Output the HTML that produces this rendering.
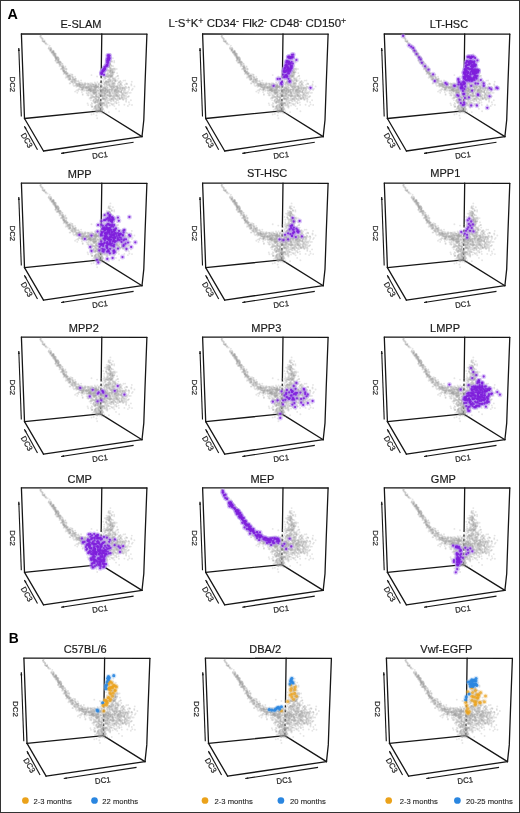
<!DOCTYPE html>
<html><head><meta charset="utf-8"><style>
html,body{margin:0;padding:0;background:#fff;}
body{width:520px;height:813px;overflow:hidden;}
svg{display:block;font-family:"Liberation Sans",sans-serif;will-change:transform;}
.t{font-size:11px;fill:#1a1a1a;stroke:#1a1a1a;stroke-width:0.18px;}
.sup{font-size:8.6px;stroke-width:0.12px;}
.ax{font-size:7.8px;fill:#222;stroke:#222;stroke-width:0.2px;text-anchor:middle;dominant-baseline:central;}
.lg{font-size:7.65px;fill:#222;stroke:#222;stroke-width:0.1px;}
</style></head><body>
<svg width="520" height="813" viewBox="0 0 520 813">
<rect x="0.5" y="0.5" width="519" height="812" fill="#fff" stroke="#333" stroke-width="1"/>
<defs>
<filter id="bl" x="-5%" y="-5%" width="110%" height="110%"><feGaussianBlur stdDeviation="0.3"/></filter>

<g id="cloud" fill="#a0a0a0" fill-opacity="0.27" filter="url(#bl)"><circle cx="23.2" cy="6.5" r="0.95"/><circle cx="22.7" cy="7.2" r="0.95"/><circle cx="23.1" cy="7.8" r="0.95"/><circle cx="23" cy="7.9" r="0.95"/><circle cx="24" cy="9.5" r="0.95"/><circle cx="21.2" cy="5.2" r="0.95"/><circle cx="19.1" cy="2.4" r="0.95"/><circle cx="19.9" cy="1.2" r="0.95"/><circle cx="27.3" cy="14.2" r="0.95"/><circle cx="24.1" cy="9.2" r="0.95"/><circle cx="19.3" cy="3.6" r="0.95"/><circle cx="19.2" cy="1.9" r="0.95"/><circle cx="20.1" cy="3.7" r="0.95"/><circle cx="22.2" cy="7.6" r="0.95"/><circle cx="21.8" cy="7.4" r="0.95"/><circle cx="24.7" cy="9.2" r="0.95"/><circle cx="23" cy="7.7" r="0.95"/><circle cx="21.3" cy="4.7" r="0.95"/><circle cx="27.2" cy="14.6" r="0.95"/><circle cx="24.9" cy="10.4" r="0.95"/><circle cx="21" cy="5.5" r="0.95"/><circle cx="18.9" cy="2.2" r="0.95"/><circle cx="26.2" cy="10.4" r="0.95"/><circle cx="21" cy="7" r="0.95"/><circle cx="27.6" cy="13.3" r="0.95"/><circle cx="20.3" cy="4" r="0.95"/><circle cx="28.3" cy="11.6" r="0.95"/><circle cx="21.4" cy="6.9" r="0.95"/><circle cx="31.6" cy="17.2" r="0.95"/><circle cx="39.1" cy="27.7" r="0.95"/><circle cx="32.2" cy="17.9" r="0.95"/><circle cx="57.4" cy="55.1" r="0.95"/><circle cx="32.5" cy="20.2" r="0.95"/><circle cx="30" cy="17.2" r="0.95"/><circle cx="61" cy="53.4" r="0.95"/><circle cx="42.7" cy="39.1" r="0.95"/><circle cx="35.2" cy="24" r="0.95"/><circle cx="53.2" cy="46.8" r="0.95"/><circle cx="32.9" cy="19.8" r="0.95"/><circle cx="37.5" cy="28.7" r="0.95"/><circle cx="72" cy="56.5" r="0.95"/><circle cx="67.3" cy="52.8" r="0.95"/><circle cx="37.2" cy="24.3" r="0.95"/><circle cx="51.5" cy="49.1" r="0.95"/><circle cx="31.3" cy="19.5" r="0.95"/><circle cx="37.5" cy="27.8" r="0.95"/><circle cx="60.2" cy="51.2" r="0.95"/><circle cx="30.3" cy="18.1" r="0.95"/><circle cx="31.9" cy="18.3" r="0.95"/><circle cx="50.9" cy="45.6" r="0.95"/><circle cx="44" cy="32.4" r="0.95"/><circle cx="44.5" cy="40.8" r="0.95"/><circle cx="48.8" cy="45.1" r="0.95"/><circle cx="34.2" cy="21.8" r="0.95"/><circle cx="68.1" cy="55.4" r="0.95"/><circle cx="35.7" cy="23.6" r="0.95"/><circle cx="57.5" cy="51.9" r="0.95"/><circle cx="71" cy="55.1" r="0.95"/><circle cx="67.1" cy="52.7" r="0.95"/><circle cx="32.4" cy="19.1" r="0.95"/><circle cx="29.1" cy="16.2" r="0.95"/><circle cx="56.2" cy="49.6" r="0.95"/><circle cx="36.8" cy="28.1" r="0.95"/><circle cx="39.8" cy="29" r="0.95"/><circle cx="34.6" cy="23.2" r="0.95"/><circle cx="36.8" cy="26" r="0.95"/><circle cx="47.7" cy="44.8" r="0.95"/><circle cx="39.3" cy="28.4" r="0.95"/><circle cx="68.8" cy="55.1" r="0.95"/><circle cx="37.7" cy="28.5" r="0.95"/><circle cx="43.3" cy="38.6" r="0.95"/><circle cx="41" cy="34.1" r="0.95"/><circle cx="48.4" cy="45.2" r="0.95"/><circle cx="66.8" cy="55.8" r="0.95"/><circle cx="73.3" cy="54.4" r="0.95"/><circle cx="51.2" cy="43.8" r="0.95"/><circle cx="33.1" cy="21.5" r="0.95"/><circle cx="68.4" cy="54.9" r="0.95"/><circle cx="55.6" cy="50" r="0.95"/><circle cx="52.4" cy="47.2" r="0.95"/><circle cx="45.4" cy="40.1" r="0.95"/><circle cx="74.5" cy="54.7" r="0.95"/><circle cx="32" cy="17.1" r="0.95"/><circle cx="68" cy="53.7" r="0.95"/><circle cx="58.2" cy="50" r="0.95"/><circle cx="69.7" cy="51.6" r="0.95"/><circle cx="41.6" cy="32.4" r="0.95"/><circle cx="67.1" cy="50.4" r="0.95"/><circle cx="42.4" cy="37" r="0.95"/><circle cx="51.4" cy="42.6" r="0.95"/><circle cx="52.6" cy="45.5" r="0.95"/><circle cx="50" cy="47.4" r="0.95"/><circle cx="32.5" cy="17.1" r="0.95"/><circle cx="67.9" cy="49.6" r="0.95"/><circle cx="58.2" cy="48.6" r="0.95"/><circle cx="48.4" cy="46.1" r="0.95"/><circle cx="43.6" cy="38" r="0.95"/><circle cx="58.9" cy="50.6" r="0.95"/><circle cx="29.8" cy="15" r="0.95"/><circle cx="37.1" cy="25.9" r="0.95"/><circle cx="57" cy="47.6" r="0.95"/><circle cx="69" cy="55.1" r="0.95"/><circle cx="36.6" cy="28.2" r="0.95"/><circle cx="54.5" cy="48.9" r="0.95"/><circle cx="34.6" cy="25.3" r="0.95"/><circle cx="51.8" cy="50.8" r="0.95"/><circle cx="43.1" cy="38.5" r="0.95"/><circle cx="54.5" cy="47.6" r="0.95"/><circle cx="36.8" cy="23.6" r="0.95"/><circle cx="68.2" cy="56.4" r="0.95"/><circle cx="67.1" cy="52.4" r="0.95"/><circle cx="38.6" cy="31.6" r="0.95"/><circle cx="34.6" cy="20.1" r="0.95"/><circle cx="64.5" cy="53.7" r="0.95"/><circle cx="55.6" cy="51.2" r="0.95"/><circle cx="34.5" cy="22.8" r="0.95"/><circle cx="44.3" cy="38.3" r="0.95"/><circle cx="42.1" cy="36.9" r="0.95"/><circle cx="52.6" cy="45.7" r="0.95"/><circle cx="63.9" cy="53.5" r="0.95"/><circle cx="73.1" cy="55.4" r="0.95"/><circle cx="29.2" cy="15.5" r="0.95"/><circle cx="65.2" cy="57" r="0.95"/><circle cx="48.6" cy="44.9" r="0.95"/><circle cx="39.1" cy="30.7" r="0.95"/><circle cx="33.3" cy="21" r="0.95"/><circle cx="42.2" cy="40.1" r="0.95"/><circle cx="36.5" cy="26.8" r="0.95"/><circle cx="32.3" cy="22.1" r="0.95"/><circle cx="43.6" cy="38.5" r="0.95"/><circle cx="52.9" cy="45.7" r="0.95"/><circle cx="72.3" cy="52.7" r="0.95"/><circle cx="54.6" cy="49.6" r="0.95"/><circle cx="33.8" cy="24" r="0.95"/><circle cx="29.5" cy="13.7" r="0.95"/><circle cx="34.5" cy="23.6" r="0.95"/><circle cx="38.8" cy="28.1" r="0.95"/><circle cx="45.5" cy="43.3" r="0.95"/><circle cx="51.1" cy="46.5" r="0.95"/><circle cx="61.8" cy="50.6" r="0.95"/><circle cx="67" cy="58.6" r="0.95"/><circle cx="55.7" cy="52.2" r="0.95"/><circle cx="33.9" cy="20.1" r="0.95"/><circle cx="68.1" cy="55.6" r="0.95"/><circle cx="43.6" cy="33.1" r="0.95"/><circle cx="62" cy="51" r="0.95"/><circle cx="71.4" cy="52.6" r="0.95"/><circle cx="35.3" cy="25" r="0.95"/><circle cx="56.3" cy="51.3" r="0.95"/><circle cx="58" cy="48.4" r="0.95"/><circle cx="33.9" cy="26.6" r="0.95"/><circle cx="73.6" cy="52.7" r="0.95"/><circle cx="47.4" cy="43.1" r="0.95"/><circle cx="68.9" cy="53.2" r="0.95"/><circle cx="65.1" cy="53.3" r="0.95"/><circle cx="43.4" cy="38.1" r="0.95"/><circle cx="48.1" cy="43.6" r="0.95"/><circle cx="29.9" cy="14.8" r="0.95"/><circle cx="60.8" cy="55.6" r="0.95"/><circle cx="33.9" cy="23.5" r="0.95"/><circle cx="40" cy="32.2" r="0.95"/><circle cx="34" cy="21.5" r="0.95"/><circle cx="47.1" cy="41.5" r="0.95"/><circle cx="57" cy="46.6" r="0.95"/><circle cx="72.1" cy="50.6" r="0.95"/><circle cx="31.2" cy="18.5" r="0.95"/><circle cx="36.9" cy="25.3" r="0.95"/><circle cx="57.4" cy="50.4" r="0.95"/><circle cx="54.3" cy="44.8" r="0.95"/><circle cx="49" cy="43.7" r="0.95"/><circle cx="40.7" cy="29.9" r="0.95"/><circle cx="67" cy="57.2" r="0.95"/><circle cx="34.4" cy="25.9" r="0.95"/><circle cx="49.4" cy="40.1" r="0.95"/><circle cx="48.8" cy="45" r="0.95"/><circle cx="44.9" cy="42.4" r="0.95"/><circle cx="48.3" cy="49.5" r="0.95"/><circle cx="46.2" cy="42.3" r="0.95"/><circle cx="42" cy="36" r="0.95"/><circle cx="46.9" cy="39.5" r="0.95"/><circle cx="54.2" cy="50.9" r="0.95"/><circle cx="42.3" cy="36.8" r="0.95"/><circle cx="70.9" cy="57.1" r="0.95"/><circle cx="45.4" cy="39.4" r="0.95"/><circle cx="34.1" cy="19.8" r="0.95"/><circle cx="67.4" cy="56.1" r="0.95"/><circle cx="45.4" cy="39.6" r="0.95"/><circle cx="50.8" cy="47.4" r="0.95"/><circle cx="68.6" cy="57.4" r="0.95"/><circle cx="28.1" cy="15.6" r="0.95"/><circle cx="35.1" cy="24.4" r="0.95"/><circle cx="38.1" cy="32.3" r="0.95"/><circle cx="41.2" cy="33" r="0.95"/><circle cx="57.7" cy="50.2" r="0.95"/><circle cx="33.2" cy="20" r="0.95"/><circle cx="35.4" cy="24.4" r="0.95"/><circle cx="48.3" cy="41.6" r="0.95"/><circle cx="42.4" cy="36.7" r="0.95"/><circle cx="46.9" cy="42.8" r="0.95"/><circle cx="51.5" cy="47.8" r="0.95"/><circle cx="54.2" cy="44.8" r="0.95"/><circle cx="51.3" cy="45.9" r="0.95"/><circle cx="64.9" cy="54.1" r="0.95"/><circle cx="60.9" cy="55.6" r="0.95"/><circle cx="68.1" cy="54" r="0.95"/><circle cx="68.7" cy="56.6" r="0.95"/><circle cx="34.2" cy="26.7" r="0.95"/><circle cx="33.1" cy="21" r="0.95"/><circle cx="36.9" cy="26.7" r="0.95"/><circle cx="32.2" cy="18.6" r="0.95"/><circle cx="64.4" cy="50.5" r="0.95"/><circle cx="32.1" cy="21" r="0.95"/><circle cx="42.6" cy="35.7" r="0.95"/><circle cx="35.6" cy="24.5" r="0.95"/><circle cx="52.6" cy="52.1" r="0.95"/><circle cx="33.4" cy="19.3" r="0.95"/><circle cx="46.2" cy="41.4" r="0.95"/><circle cx="56.1" cy="47.4" r="0.95"/><circle cx="34.7" cy="24.2" r="0.95"/><circle cx="29.3" cy="15.9" r="0.95"/><circle cx="49.7" cy="42.2" r="0.95"/><circle cx="33.6" cy="21.6" r="0.95"/><circle cx="34.5" cy="24" r="0.95"/><circle cx="72.3" cy="60.1" r="0.95"/><circle cx="69.3" cy="55.7" r="0.95"/><circle cx="70.8" cy="56" r="0.95"/><circle cx="44.5" cy="39.1" r="0.95"/><circle cx="45.8" cy="38.7" r="0.95"/><circle cx="48" cy="40.6" r="0.95"/><circle cx="28.2" cy="14.8" r="0.95"/><circle cx="55.5" cy="50.2" r="0.95"/><circle cx="44.9" cy="38.2" r="0.95"/><circle cx="58.4" cy="50" r="0.95"/><circle cx="33.9" cy="22.9" r="0.95"/><circle cx="44.3" cy="43.7" r="0.95"/><circle cx="61.5" cy="53" r="0.95"/><circle cx="55.1" cy="51.1" r="0.95"/><circle cx="43.7" cy="35.1" r="0.95"/><circle cx="53.7" cy="42.8" r="0.95"/><circle cx="61.9" cy="52.6" r="0.95"/><circle cx="36.1" cy="28.6" r="0.95"/><circle cx="60.9" cy="50.5" r="0.95"/><circle cx="63.8" cy="49.9" r="0.95"/><circle cx="65.8" cy="56.5" r="0.95"/><circle cx="55.3" cy="49.7" r="0.95"/><circle cx="44.5" cy="34.8" r="0.95"/><circle cx="56.1" cy="51.7" r="0.95"/><circle cx="44.3" cy="39.7" r="0.95"/><circle cx="29" cy="14" r="0.95"/><circle cx="50.6" cy="48.3" r="0.95"/><circle cx="35.3" cy="27.2" r="0.95"/><circle cx="40.7" cy="31.9" r="0.95"/><circle cx="54.7" cy="46.6" r="0.95"/><circle cx="42.6" cy="34.7" r="0.95"/><circle cx="74.6" cy="54.5" r="0.95"/><circle cx="60.2" cy="49.5" r="0.95"/><circle cx="71.9" cy="58.9" r="0.95"/><circle cx="57.8" cy="51.2" r="0.95"/><circle cx="37.6" cy="27.6" r="0.95"/><circle cx="35.1" cy="24.4" r="0.95"/><circle cx="40.9" cy="34.7" r="0.95"/><circle cx="67.8" cy="55.6" r="0.95"/><circle cx="51.1" cy="40.8" r="0.95"/><circle cx="49.1" cy="44.2" r="0.95"/><circle cx="74.4" cy="54" r="0.95"/><circle cx="31.9" cy="17.2" r="0.95"/><circle cx="50.3" cy="45.8" r="0.95"/><circle cx="69.8" cy="54.6" r="0.95"/><circle cx="34.5" cy="22.1" r="0.95"/><circle cx="45.7" cy="41" r="0.95"/><circle cx="48.9" cy="49.3" r="0.95"/><circle cx="42.1" cy="37.4" r="0.95"/><circle cx="48" cy="41.6" r="0.95"/><circle cx="38.9" cy="29" r="0.95"/><circle cx="54.1" cy="46.9" r="0.95"/><circle cx="56.9" cy="49.8" r="0.95"/><circle cx="38" cy="30.4" r="0.95"/><circle cx="29.6" cy="16.1" r="0.95"/><circle cx="33.9" cy="22.2" r="0.95"/><circle cx="68.2" cy="52.7" r="0.95"/><circle cx="56.4" cy="55.8" r="0.95"/><circle cx="70" cy="57.3" r="0.95"/><circle cx="30.2" cy="18.2" r="0.95"/><circle cx="45.8" cy="39.5" r="0.95"/><circle cx="72.3" cy="56.1" r="0.95"/><circle cx="69.4" cy="57.7" r="0.95"/><circle cx="59.7" cy="46.5" r="0.95"/><circle cx="62.1" cy="53.9" r="0.95"/><circle cx="49.6" cy="47.4" r="0.95"/><circle cx="43.3" cy="39.4" r="0.95"/><circle cx="34.6" cy="25.4" r="0.95"/><circle cx="32.4" cy="20.7" r="0.95"/><circle cx="44.5" cy="37.6" r="0.95"/><circle cx="38.5" cy="27.5" r="0.95"/><circle cx="51.4" cy="43.4" r="0.95"/><circle cx="46.4" cy="43.4" r="0.95"/><circle cx="72.9" cy="59.7" r="0.95"/><circle cx="37.2" cy="26.4" r="0.95"/><circle cx="31.3" cy="20.6" r="0.95"/><circle cx="52.7" cy="45.4" r="0.95"/><circle cx="41.2" cy="33.3" r="0.95"/><circle cx="47.1" cy="45.8" r="0.95"/><circle cx="51.3" cy="44.3" r="0.95"/><circle cx="36.2" cy="23.4" r="0.95"/><circle cx="35.1" cy="28.6" r="0.95"/><circle cx="66.6" cy="53.7" r="0.95"/><circle cx="29.1" cy="16.3" r="0.95"/><circle cx="42.9" cy="37.2" r="0.95"/><circle cx="50.7" cy="48.1" r="0.95"/><circle cx="30.3" cy="18.1" r="0.95"/><circle cx="31.7" cy="18.2" r="0.95"/><circle cx="53.1" cy="45.6" r="0.95"/><circle cx="42.2" cy="33.7" r="0.95"/><circle cx="40.3" cy="32.6" r="0.95"/><circle cx="58.1" cy="51.4" r="0.95"/><circle cx="32.8" cy="20.1" r="0.95"/><circle cx="63.1" cy="50.7" r="0.95"/><circle cx="37" cy="24.7" r="0.95"/><circle cx="43.3" cy="36.9" r="0.95"/><circle cx="39.4" cy="35.2" r="0.95"/><circle cx="52.4" cy="49.1" r="0.95"/><circle cx="48.2" cy="43.4" r="0.95"/><circle cx="57.7" cy="52.6" r="0.95"/><circle cx="41.8" cy="33.6" r="0.95"/><circle cx="31.5" cy="19.2" r="0.95"/><circle cx="31.4" cy="18.1" r="0.95"/><circle cx="50.6" cy="42.6" r="0.95"/><circle cx="38.7" cy="30.2" r="0.95"/><circle cx="59.6" cy="52.9" r="0.95"/><circle cx="53.4" cy="48.7" r="0.95"/><circle cx="31.5" cy="17.9" r="0.95"/><circle cx="53.9" cy="51.6" r="0.95"/><circle cx="37.7" cy="29.5" r="0.95"/><circle cx="56.6" cy="51.8" r="0.95"/><circle cx="40" cy="34.6" r="0.95"/><circle cx="47.8" cy="45.5" r="0.95"/><circle cx="67.7" cy="59" r="0.95"/><circle cx="44.7" cy="37.1" r="0.95"/><circle cx="62" cy="52.1" r="0.95"/><circle cx="41.5" cy="36.2" r="0.95"/><circle cx="69.6" cy="56.5" r="0.95"/><circle cx="41.5" cy="33.2" r="0.95"/><circle cx="41.9" cy="33.3" r="0.95"/><circle cx="41.1" cy="35.5" r="0.95"/><circle cx="36.7" cy="23.4" r="0.95"/><circle cx="48.6" cy="42.3" r="0.95"/><circle cx="64.1" cy="52.4" r="0.95"/><circle cx="59.3" cy="51.1" r="0.95"/><circle cx="66.6" cy="54.2" r="0.95"/><circle cx="46.5" cy="42" r="0.95"/><circle cx="50.6" cy="40.8" r="0.95"/><circle cx="54.1" cy="46.4" r="0.95"/><circle cx="60.9" cy="54.7" r="0.95"/><circle cx="60.5" cy="53.1" r="0.95"/><circle cx="30.2" cy="19" r="0.95"/><circle cx="67.2" cy="56.2" r="0.95"/><circle cx="31.5" cy="18.2" r="0.95"/><circle cx="58.6" cy="50.4" r="0.95"/><circle cx="53" cy="47.8" r="0.95"/><circle cx="59" cy="52.8" r="0.95"/><circle cx="46.9" cy="42.2" r="0.95"/><circle cx="41.2" cy="31.6" r="0.95"/><circle cx="72.3" cy="54.8" r="0.95"/><circle cx="48.8" cy="41.8" r="0.95"/><circle cx="57.5" cy="49.6" r="0.95"/><circle cx="45.1" cy="34.7" r="0.95"/><circle cx="63.7" cy="51.5" r="0.95"/><circle cx="63.2" cy="49.8" r="0.95"/><circle cx="62.5" cy="56.9" r="0.95"/><circle cx="54.1" cy="45.2" r="0.95"/><circle cx="47.6" cy="41.8" r="0.95"/><circle cx="45.1" cy="35.6" r="0.95"/><circle cx="42" cy="37.5" r="0.95"/><circle cx="72.6" cy="59" r="0.95"/><circle cx="41.2" cy="34.5" r="0.95"/><circle cx="42.6" cy="37.4" r="0.95"/><circle cx="38.3" cy="29.9" r="0.95"/><circle cx="39.2" cy="30.6" r="0.95"/><circle cx="33.1" cy="19.4" r="0.95"/><circle cx="35.9" cy="22.7" r="0.95"/><circle cx="31.3" cy="16.5" r="0.95"/><circle cx="68.1" cy="55.5" r="0.95"/><circle cx="29.1" cy="16" r="0.95"/><circle cx="35.7" cy="25.8" r="0.95"/><circle cx="36.9" cy="26.4" r="0.95"/><circle cx="37.5" cy="25.2" r="0.95"/><circle cx="35" cy="23.7" r="0.95"/><circle cx="58.6" cy="52.4" r="0.95"/><circle cx="41.1" cy="29.7" r="0.95"/><circle cx="45.8" cy="39.6" r="0.95"/><circle cx="35.9" cy="28.9" r="0.95"/><circle cx="41.8" cy="31.5" r="0.95"/><circle cx="46.9" cy="44.5" r="0.95"/><circle cx="36.5" cy="25.6" r="0.95"/><circle cx="28.8" cy="17.3" r="0.95"/><circle cx="42.5" cy="34.4" r="0.95"/><circle cx="48.1" cy="41.6" r="0.95"/><circle cx="73.4" cy="56.2" r="0.95"/><circle cx="53.5" cy="48.1" r="0.95"/><circle cx="44.8" cy="39.8" r="0.95"/><circle cx="40.9" cy="34.4" r="0.95"/><circle cx="52.1" cy="44.2" r="0.95"/><circle cx="33.5" cy="22.5" r="0.95"/><circle cx="36.8" cy="28.3" r="0.95"/><circle cx="66.6" cy="51.4" r="0.95"/><circle cx="73.7" cy="56.1" r="0.95"/><circle cx="38.3" cy="28" r="0.95"/><circle cx="59.9" cy="51.6" r="0.95"/><circle cx="89" cy="20.3" r="0.95"/><circle cx="90.8" cy="41.5" r="0.95"/><circle cx="91.4" cy="39.9" r="0.95"/><circle cx="91.7" cy="34.8" r="0.95"/><circle cx="86.4" cy="42.8" r="0.95"/><circle cx="89.3" cy="33.9" r="0.95"/><circle cx="89.5" cy="42" r="0.95"/><circle cx="91.2" cy="37.1" r="0.95"/><circle cx="87.9" cy="32" r="0.95"/><circle cx="84.7" cy="31.8" r="0.95"/><circle cx="87.8" cy="32.6" r="0.95"/><circle cx="81.9" cy="33.9" r="0.95"/><circle cx="88.1" cy="41.3" r="0.95"/><circle cx="87.8" cy="32.8" r="0.95"/><circle cx="87.9" cy="36.9" r="0.95"/><circle cx="89.3" cy="43.5" r="0.95"/><circle cx="87.6" cy="38.4" r="0.95"/><circle cx="87.6" cy="36.9" r="0.95"/><circle cx="87.3" cy="33.1" r="0.95"/><circle cx="88" cy="28.5" r="0.95"/><circle cx="83.1" cy="42.8" r="0.95"/><circle cx="88.7" cy="32" r="0.95"/><circle cx="90.4" cy="27.9" r="0.95"/><circle cx="89.8" cy="39.9" r="0.95"/><circle cx="87.2" cy="41.3" r="0.95"/><circle cx="88.8" cy="30" r="0.95"/><circle cx="93.4" cy="34.4" r="0.95"/><circle cx="84.6" cy="34.2" r="0.95"/><circle cx="89.8" cy="39.8" r="0.95"/><circle cx="87.9" cy="32.3" r="0.95"/><circle cx="86.1" cy="32.1" r="0.95"/><circle cx="86" cy="40" r="0.95"/><circle cx="87.5" cy="23.2" r="0.95"/><circle cx="90.7" cy="38.8" r="0.95"/><circle cx="89.6" cy="34.7" r="0.95"/><circle cx="91.1" cy="38.6" r="0.95"/><circle cx="85.3" cy="42.4" r="0.95"/><circle cx="91.1" cy="36.4" r="0.95"/><circle cx="82.7" cy="43.7" r="0.95"/><circle cx="91.1" cy="42.8" r="0.95"/><circle cx="88.8" cy="38.2" r="0.95"/><circle cx="85.3" cy="29.8" r="0.95"/><circle cx="90.3" cy="31.9" r="0.95"/><circle cx="93.4" cy="36.1" r="0.95"/><circle cx="90" cy="26.9" r="0.95"/><circle cx="86.2" cy="36.6" r="0.95"/><circle cx="95" cy="42.6" r="0.95"/><circle cx="92.3" cy="38.3" r="0.95"/><circle cx="89.6" cy="31" r="0.95"/><circle cx="89.3" cy="36.7" r="0.95"/><circle cx="89" cy="36.6" r="0.95"/><circle cx="92.8" cy="28.4" r="0.95"/><circle cx="86.8" cy="39.4" r="0.95"/><circle cx="85.2" cy="40.4" r="0.95"/><circle cx="90.7" cy="41" r="0.95"/><circle cx="90" cy="35.5" r="0.95"/><circle cx="90" cy="37.6" r="0.95"/><circle cx="86.4" cy="30.4" r="0.95"/><circle cx="92.8" cy="38.4" r="0.95"/><circle cx="90.6" cy="27.3" r="0.95"/><circle cx="85.1" cy="35.5" r="0.95"/><circle cx="88.7" cy="38.1" r="0.95"/><circle cx="93.5" cy="35.3" r="0.95"/><circle cx="85.4" cy="42.1" r="0.95"/><circle cx="91.3" cy="36.5" r="0.95"/><circle cx="82.8" cy="36.7" r="0.95"/><circle cx="91.8" cy="32.3" r="0.95"/><circle cx="87.9" cy="41.7" r="0.95"/><circle cx="86.9" cy="40.9" r="0.95"/><circle cx="89.3" cy="25.5" r="0.95"/><circle cx="87.6" cy="35.8" r="0.95"/><circle cx="86.1" cy="39.1" r="0.95"/><circle cx="86.9" cy="31.9" r="0.95"/><circle cx="91.5" cy="24.2" r="0.95"/><circle cx="90.5" cy="38.2" r="0.95"/><circle cx="89.4" cy="42" r="0.95"/><circle cx="89.4" cy="36.7" r="0.95"/><circle cx="91.4" cy="41.3" r="0.95"/><circle cx="91.2" cy="43.3" r="0.95"/><circle cx="87.9" cy="31.7" r="0.95"/><circle cx="89.9" cy="41.8" r="0.95"/><circle cx="87.6" cy="32.7" r="0.95"/><circle cx="89" cy="23.1" r="0.95"/><circle cx="95.3" cy="35" r="0.95"/><circle cx="88.9" cy="35.6" r="0.95"/><circle cx="90.3" cy="42.6" r="0.95"/><circle cx="86.1" cy="42" r="0.95"/><circle cx="92.8" cy="27" r="0.95"/><circle cx="87.3" cy="28.8" r="0.95"/><circle cx="90" cy="42.3" r="0.95"/><circle cx="85.7" cy="40.9" r="0.95"/><circle cx="88" cy="41.7" r="0.95"/><circle cx="91.6" cy="38.9" r="0.95"/><circle cx="88.3" cy="25.9" r="0.95"/><circle cx="89.1" cy="39.8" r="0.95"/><circle cx="86.3" cy="29.1" r="0.95"/><circle cx="85.6" cy="32" r="0.95"/><circle cx="88.7" cy="37.8" r="0.95"/><circle cx="87" cy="42.5" r="0.95"/><circle cx="95.7" cy="39.1" r="0.95"/><circle cx="85.1" cy="34.4" r="0.95"/><circle cx="87.1" cy="23.8" r="0.95"/><circle cx="88.5" cy="30.1" r="0.95"/><circle cx="88.3" cy="30.7" r="0.95"/><circle cx="86.8" cy="30.9" r="0.95"/><circle cx="89.4" cy="42.4" r="0.95"/><circle cx="88.3" cy="34.3" r="0.95"/><circle cx="86.2" cy="42.9" r="0.95"/><circle cx="86.7" cy="36.3" r="0.95"/><circle cx="89.1" cy="37.8" r="0.95"/><circle cx="90.7" cy="35" r="0.95"/><circle cx="90" cy="35.9" r="0.95"/><circle cx="90.7" cy="41.3" r="0.95"/><circle cx="84.8" cy="30.4" r="0.95"/><circle cx="89.1" cy="40.3" r="0.95"/><circle cx="89" cy="36.2" r="0.95"/><circle cx="91.9" cy="35.8" r="0.95"/><circle cx="82.6" cy="39" r="0.95"/><circle cx="88.4" cy="28.6" r="0.95"/><circle cx="85.6" cy="35.8" r="0.95"/><circle cx="88.5" cy="30.4" r="0.95"/><circle cx="84.4" cy="42.3" r="0.95"/><circle cx="88.6" cy="41.1" r="0.95"/><circle cx="90.2" cy="31.9" r="0.95"/><circle cx="86" cy="37.8" r="0.95"/><circle cx="93" cy="37.9" r="0.95"/><circle cx="88.1" cy="28.7" r="0.95"/><circle cx="91.1" cy="38.2" r="0.95"/><circle cx="86.9" cy="25" r="0.95"/><circle cx="88.8" cy="29.5" r="0.95"/><circle cx="88.9" cy="33.7" r="0.95"/><circle cx="85.2" cy="27.8" r="0.95"/><circle cx="88.2" cy="25.1" r="0.95"/><circle cx="86.9" cy="27.8" r="0.95"/><circle cx="88.9" cy="34.2" r="0.95"/><circle cx="89" cy="43" r="0.95"/><circle cx="88.1" cy="30.6" r="0.95"/><circle cx="83.4" cy="30.5" r="0.95"/><circle cx="84.7" cy="34.4" r="0.95"/><circle cx="91.3" cy="37.8" r="0.95"/><circle cx="91" cy="38.6" r="0.95"/><circle cx="91.2" cy="38.5" r="0.95"/><circle cx="85.1" cy="42.4" r="0.95"/><circle cx="84.1" cy="42.3" r="0.95"/><circle cx="87.4" cy="29.8" r="0.95"/><circle cx="89.3" cy="36.9" r="0.95"/><circle cx="86.5" cy="29.6" r="0.95"/><circle cx="92.3" cy="34.6" r="0.95"/><circle cx="89.4" cy="42.5" r="0.95"/><circle cx="87.6" cy="24.7" r="0.95"/><circle cx="88.9" cy="46.5" r="0.95"/><circle cx="90.6" cy="47.8" r="0.95"/><circle cx="80.1" cy="49.5" r="0.95"/><circle cx="88.1" cy="44.1" r="0.95"/><circle cx="87.1" cy="47.1" r="0.95"/><circle cx="93.4" cy="45.1" r="0.95"/><circle cx="89.8" cy="42" r="0.95"/><circle cx="89.8" cy="45.7" r="0.95"/><circle cx="86.8" cy="48.2" r="0.95"/><circle cx="98" cy="48.6" r="0.95"/><circle cx="85.1" cy="49.8" r="0.95"/><circle cx="87.3" cy="45.9" r="0.95"/><circle cx="86.1" cy="47.1" r="0.95"/><circle cx="91.8" cy="46.4" r="0.95"/><circle cx="88" cy="45.6" r="0.95"/><circle cx="87" cy="48.4" r="0.95"/><circle cx="86.4" cy="45.6" r="0.95"/><circle cx="88" cy="44.1" r="0.95"/><circle cx="87.9" cy="42.3" r="0.95"/><circle cx="91" cy="47.4" r="0.95"/><circle cx="87.5" cy="49.9" r="0.95"/><circle cx="84.9" cy="47.4" r="0.95"/><circle cx="91.4" cy="44.7" r="0.95"/><circle cx="87.8" cy="48.2" r="0.95"/><circle cx="89.3" cy="46.7" r="0.95"/><circle cx="96" cy="46.5" r="0.95"/><circle cx="80.7" cy="44.2" r="0.95"/><circle cx="93.2" cy="45.7" r="0.95"/><circle cx="83.6" cy="41.1" r="0.95"/><circle cx="90.6" cy="49.7" r="0.95"/><circle cx="82.8" cy="40.6" r="0.95"/><circle cx="91.5" cy="44.7" r="0.95"/><circle cx="87.5" cy="45.2" r="0.95"/><circle cx="84.5" cy="47.1" r="0.95"/><circle cx="93.6" cy="46.9" r="0.95"/><circle cx="86.2" cy="48.6" r="0.95"/><circle cx="88.5" cy="47.4" r="0.95"/><circle cx="84.4" cy="47.6" r="0.95"/><circle cx="92.7" cy="49.2" r="0.95"/><circle cx="89.1" cy="47.1" r="0.95"/><circle cx="86.1" cy="48.2" r="0.95"/><circle cx="92.9" cy="48.7" r="0.95"/><circle cx="87.1" cy="43" r="0.95"/><circle cx="88.7" cy="45.5" r="0.95"/><circle cx="85.3" cy="47.5" r="0.95"/><circle cx="93.7" cy="47" r="0.95"/><circle cx="94.5" cy="47" r="0.95"/><circle cx="84.2" cy="44.6" r="0.95"/><circle cx="87.3" cy="47.7" r="0.95"/><circle cx="93.6" cy="46.3" r="0.95"/><circle cx="94" cy="44" r="0.95"/><circle cx="88.4" cy="49.7" r="0.95"/><circle cx="91.2" cy="48.6" r="0.95"/><circle cx="79.7" cy="41.9" r="0.95"/><circle cx="84.7" cy="48.5" r="0.95"/><circle cx="97" cy="44.5" r="0.95"/><circle cx="84.1" cy="43.5" r="0.95"/><circle cx="84.6" cy="47.4" r="0.95"/><circle cx="87.5" cy="50.6" r="0.95"/><circle cx="92.6" cy="44.3" r="0.95"/><circle cx="79.1" cy="55.3" r="0.95"/><circle cx="83" cy="60" r="0.95"/><circle cx="75.1" cy="60" r="0.95"/><circle cx="81.4" cy="55.6" r="0.95"/><circle cx="79.3" cy="59" r="0.95"/><circle cx="75.3" cy="53" r="0.95"/><circle cx="86.3" cy="56" r="0.95"/><circle cx="73.4" cy="58.1" r="0.95"/><circle cx="67.4" cy="56.3" r="0.95"/><circle cx="68.1" cy="54.1" r="0.95"/><circle cx="65.2" cy="52.8" r="0.95"/><circle cx="83.7" cy="55.2" r="0.95"/><circle cx="69.2" cy="63.7" r="0.95"/><circle cx="73.2" cy="62.6" r="0.95"/><circle cx="73.9" cy="49.5" r="0.95"/><circle cx="90.2" cy="54.1" r="0.95"/><circle cx="82.8" cy="61.3" r="0.95"/><circle cx="68.5" cy="56.3" r="0.95"/><circle cx="73.6" cy="58.7" r="0.95"/><circle cx="77.4" cy="50.4" r="0.95"/><circle cx="77.9" cy="59.4" r="0.95"/><circle cx="75.5" cy="58.5" r="0.95"/><circle cx="73.9" cy="55.8" r="0.95"/><circle cx="79.9" cy="56.7" r="0.95"/><circle cx="86.3" cy="60.2" r="0.95"/><circle cx="83.3" cy="59.2" r="0.95"/><circle cx="78.6" cy="50.9" r="0.95"/><circle cx="84.8" cy="63.7" r="0.95"/><circle cx="79.1" cy="54.9" r="0.95"/><circle cx="77.3" cy="61.4" r="0.95"/><circle cx="79.5" cy="51.7" r="0.95"/><circle cx="76.4" cy="52.7" r="0.95"/><circle cx="76.2" cy="52.1" r="0.95"/><circle cx="71.6" cy="62.6" r="0.95"/><circle cx="84.7" cy="48.9" r="0.95"/><circle cx="70.8" cy="54.1" r="0.95"/><circle cx="74.9" cy="49.9" r="0.95"/><circle cx="83.6" cy="48.9" r="0.95"/><circle cx="82.3" cy="59.1" r="0.95"/><circle cx="75" cy="53.1" r="0.95"/><circle cx="78" cy="56.7" r="0.95"/><circle cx="63.2" cy="50.5" r="0.95"/><circle cx="81.2" cy="55.6" r="0.95"/><circle cx="74.7" cy="51.7" r="0.95"/><circle cx="72.7" cy="52.7" r="0.95"/><circle cx="96.7" cy="50.5" r="0.95"/><circle cx="88.1" cy="58.1" r="0.95"/><circle cx="79" cy="56.9" r="0.95"/><circle cx="75" cy="63.1" r="0.95"/><circle cx="81" cy="55.9" r="0.95"/><circle cx="76.7" cy="56.9" r="0.95"/><circle cx="69.7" cy="54.6" r="0.95"/><circle cx="73.3" cy="58.8" r="0.95"/><circle cx="81.7" cy="47.8" r="0.95"/><circle cx="76" cy="60.4" r="0.95"/><circle cx="68.7" cy="50.8" r="0.95"/><circle cx="84.4" cy="55.5" r="0.95"/><circle cx="74.5" cy="50.7" r="0.95"/><circle cx="78.7" cy="53.6" r="0.95"/><circle cx="79" cy="57.9" r="0.95"/><circle cx="82.4" cy="54.6" r="0.95"/><circle cx="74" cy="56.2" r="0.95"/><circle cx="76.9" cy="56.8" r="0.95"/><circle cx="73.9" cy="55" r="0.95"/><circle cx="73.5" cy="53.4" r="0.95"/><circle cx="78.6" cy="61.1" r="0.95"/><circle cx="73.9" cy="58.6" r="0.95"/><circle cx="79.9" cy="56.5" r="0.95"/><circle cx="82.2" cy="53.6" r="0.95"/><circle cx="81.4" cy="57.4" r="0.95"/><circle cx="53.7" cy="57.6" r="0.95"/><circle cx="81.7" cy="64.6" r="0.95"/><circle cx="70.3" cy="56.5" r="0.95"/><circle cx="80" cy="51.8" r="0.95"/><circle cx="85.8" cy="58" r="0.95"/><circle cx="72.1" cy="50.8" r="0.95"/><circle cx="74.7" cy="66.5" r="0.95"/><circle cx="92.3" cy="45.1" r="0.95"/><circle cx="65.1" cy="59" r="0.95"/><circle cx="76.8" cy="53.2" r="0.95"/><circle cx="81.7" cy="56.5" r="0.95"/><circle cx="79.5" cy="57.2" r="0.95"/><circle cx="70.1" cy="61.8" r="0.95"/><circle cx="74.4" cy="61" r="0.95"/><circle cx="82.3" cy="56.2" r="0.95"/><circle cx="78.5" cy="55.8" r="0.95"/><circle cx="64.9" cy="54.6" r="0.95"/><circle cx="80.5" cy="48.9" r="0.95"/><circle cx="67.3" cy="60.8" r="0.95"/><circle cx="83.1" cy="49.2" r="0.95"/><circle cx="80.7" cy="55.8" r="0.95"/><circle cx="84.3" cy="54.6" r="0.95"/><circle cx="76" cy="52.7" r="0.95"/><circle cx="78.8" cy="55.5" r="0.95"/><circle cx="73" cy="54.5" r="0.95"/><circle cx="72.4" cy="58.8" r="0.95"/><circle cx="70.5" cy="49.2" r="0.95"/><circle cx="70.9" cy="60.8" r="0.95"/><circle cx="74.1" cy="58.9" r="0.95"/><circle cx="82.6" cy="53.8" r="0.95"/><circle cx="82.7" cy="58.3" r="0.95"/><circle cx="77.2" cy="52.9" r="0.95"/><circle cx="77.1" cy="50.3" r="0.95"/><circle cx="75.6" cy="53.5" r="0.95"/><circle cx="80.6" cy="57.5" r="0.95"/><circle cx="73.1" cy="59.9" r="0.95"/><circle cx="85.8" cy="56.3" r="0.95"/><circle cx="72.4" cy="58.3" r="0.95"/><circle cx="60.7" cy="53.4" r="0.95"/><circle cx="81.6" cy="64.9" r="0.95"/><circle cx="72.4" cy="62.8" r="0.95"/><circle cx="93.6" cy="64.4" r="0.95"/><circle cx="61.3" cy="60.9" r="0.95"/><circle cx="78.9" cy="60.5" r="0.95"/><circle cx="76.3" cy="53.3" r="0.95"/><circle cx="76" cy="62.7" r="0.95"/><circle cx="83.3" cy="54.7" r="0.95"/><circle cx="80.2" cy="59.9" r="0.95"/><circle cx="81.5" cy="55.8" r="0.95"/><circle cx="73" cy="52.7" r="0.95"/><circle cx="74.5" cy="53.6" r="0.95"/><circle cx="66.6" cy="49.7" r="0.95"/><circle cx="83.6" cy="51" r="0.95"/><circle cx="68.4" cy="55.8" r="0.95"/><circle cx="87.6" cy="61.6" r="0.95"/><circle cx="74.7" cy="51.4" r="0.95"/><circle cx="73.8" cy="52" r="0.95"/><circle cx="73.7" cy="58.2" r="0.95"/><circle cx="70.1" cy="52.5" r="0.95"/><circle cx="75.7" cy="55.9" r="0.95"/><circle cx="72.2" cy="52.5" r="0.95"/><circle cx="69.7" cy="52.7" r="0.95"/><circle cx="81.2" cy="54.9" r="0.95"/><circle cx="55.9" cy="58.8" r="0.95"/><circle cx="77" cy="52.1" r="0.95"/><circle cx="75.7" cy="42.5" r="0.95"/><circle cx="66" cy="61.2" r="0.95"/><circle cx="92.4" cy="65.8" r="0.95"/><circle cx="72.4" cy="56.2" r="0.95"/><circle cx="82.9" cy="50.5" r="0.95"/><circle cx="89.7" cy="52.8" r="0.95"/><circle cx="80" cy="50.9" r="0.95"/><circle cx="80.1" cy="55.9" r="0.95"/><circle cx="85.1" cy="50.8" r="0.95"/><circle cx="77.4" cy="64.2" r="0.95"/><circle cx="69.2" cy="57.6" r="0.95"/><circle cx="80.6" cy="53.8" r="0.95"/><circle cx="75.6" cy="62.4" r="0.95"/><circle cx="85.5" cy="58.6" r="0.95"/><circle cx="79.4" cy="50.9" r="0.95"/><circle cx="78.1" cy="64.1" r="0.95"/><circle cx="84.9" cy="49.9" r="0.95"/><circle cx="63" cy="53" r="0.95"/><circle cx="78.7" cy="53.5" r="0.95"/><circle cx="75.4" cy="57.5" r="0.95"/><circle cx="83.8" cy="57" r="0.95"/><circle cx="86.3" cy="49.6" r="0.95"/><circle cx="80.8" cy="57.9" r="0.95"/><circle cx="67.1" cy="61.6" r="0.95"/><circle cx="66.3" cy="49.5" r="0.95"/><circle cx="96.2" cy="61.8" r="0.95"/><circle cx="80.1" cy="62.1" r="0.95"/><circle cx="85.6" cy="50.9" r="0.95"/><circle cx="80.9" cy="62.3" r="0.95"/><circle cx="76.4" cy="56.3" r="0.95"/><circle cx="74.2" cy="59.3" r="0.95"/><circle cx="73.6" cy="53.4" r="0.95"/><circle cx="68.9" cy="51.8" r="0.95"/><circle cx="79" cy="58.1" r="0.95"/><circle cx="74.8" cy="51.3" r="0.95"/><circle cx="79.9" cy="57.6" r="0.95"/><circle cx="86.5" cy="53.8" r="0.95"/><circle cx="74.6" cy="58.3" r="0.95"/><circle cx="88.2" cy="55.8" r="0.95"/><circle cx="76.9" cy="51.8" r="0.95"/><circle cx="74.8" cy="60.3" r="0.95"/><circle cx="83.5" cy="61.1" r="0.95"/><circle cx="66" cy="59.8" r="0.95"/><circle cx="71" cy="58.7" r="0.95"/><circle cx="60.8" cy="55.6" r="0.95"/><circle cx="71.3" cy="61.8" r="0.95"/><circle cx="78.4" cy="61.9" r="0.95"/><circle cx="74.4" cy="64.9" r="0.95"/><circle cx="74.4" cy="64.6" r="0.95"/><circle cx="74.1" cy="51.6" r="0.95"/><circle cx="83.8" cy="54.2" r="0.95"/><circle cx="77.1" cy="49.9" r="0.95"/><circle cx="75.1" cy="56.5" r="0.95"/><circle cx="72.5" cy="57.8" r="0.95"/><circle cx="61.3" cy="60.1" r="0.95"/><circle cx="74.6" cy="62.7" r="0.95"/><circle cx="75" cy="53" r="0.95"/><circle cx="74.3" cy="57.3" r="0.95"/><circle cx="81.7" cy="53.9" r="0.95"/><circle cx="71.9" cy="58" r="0.95"/><circle cx="83.3" cy="48.1" r="0.95"/><circle cx="70.1" cy="52.9" r="0.95"/><circle cx="89.6" cy="61.6" r="0.95"/><circle cx="83.2" cy="58.3" r="0.95"/><circle cx="69.6" cy="61.1" r="0.95"/><circle cx="74.4" cy="52.4" r="0.95"/><circle cx="91.2" cy="49.4" r="0.95"/><circle cx="87.3" cy="56.9" r="0.95"/><circle cx="71" cy="56.8" r="0.95"/><circle cx="71.5" cy="56.9" r="0.95"/><circle cx="72.9" cy="50.6" r="0.95"/><circle cx="96.3" cy="53.7" r="0.95"/><circle cx="84.5" cy="55.8" r="0.95"/><circle cx="82.3" cy="50.3" r="0.95"/><circle cx="70.1" cy="41.1" r="0.95"/><circle cx="84.6" cy="58" r="0.95"/><circle cx="69.2" cy="59.8" r="0.95"/><circle cx="81.7" cy="69.3" r="0.95"/><circle cx="79.2" cy="60.2" r="0.95"/><circle cx="81.9" cy="59.5" r="0.95"/><circle cx="77.3" cy="54.1" r="0.95"/><circle cx="82.6" cy="61.6" r="0.95"/><circle cx="69.3" cy="50.8" r="0.95"/><circle cx="77.2" cy="64.2" r="0.95"/><circle cx="76" cy="48.3" r="0.95"/><circle cx="83.2" cy="59.5" r="0.95"/><circle cx="91.3" cy="56.9" r="0.95"/><circle cx="91.5" cy="52.7" r="0.95"/><circle cx="83.9" cy="56.6" r="0.95"/><circle cx="69.1" cy="54.8" r="0.95"/><circle cx="87" cy="61.1" r="0.95"/><circle cx="74.8" cy="61.1" r="0.95"/><circle cx="83.9" cy="60.1" r="0.95"/><circle cx="79.6" cy="57.4" r="0.95"/><circle cx="71.7" cy="55.7" r="0.95"/><circle cx="77.9" cy="74.4" r="0.95"/><circle cx="76.6" cy="76.4" r="0.95"/><circle cx="78.2" cy="78.4" r="0.95"/><circle cx="74.4" cy="75.1" r="0.95"/><circle cx="78.3" cy="75.2" r="0.95"/><circle cx="78.5" cy="75" r="0.95"/><circle cx="81.1" cy="75.5" r="0.95"/><circle cx="74.1" cy="77.7" r="0.95"/><circle cx="82.6" cy="71.7" r="0.95"/><circle cx="77.1" cy="76.2" r="0.95"/><circle cx="80.7" cy="79.3" r="0.95"/><circle cx="77" cy="72.5" r="0.95"/><circle cx="79.5" cy="78.3" r="0.95"/><circle cx="78.9" cy="76.2" r="0.95"/><circle cx="75.1" cy="81.4" r="0.95"/><circle cx="73.9" cy="72.7" r="0.95"/><circle cx="80.5" cy="76.7" r="0.95"/><circle cx="79.6" cy="76.8" r="0.95"/><circle cx="82.6" cy="79.2" r="0.95"/><circle cx="75.8" cy="78.2" r="0.95"/><circle cx="73.9" cy="72.2" r="0.95"/><circle cx="81.2" cy="75.1" r="0.95"/><circle cx="71" cy="76" r="0.95"/><circle cx="75.5" cy="77.1" r="0.95"/><circle cx="77.3" cy="74.3" r="0.95"/><circle cx="75.4" cy="77.7" r="0.95"/><circle cx="74.7" cy="76.3" r="0.95"/><circle cx="74.5" cy="77" r="0.95"/><circle cx="82.9" cy="77.3" r="0.95"/><circle cx="80.9" cy="77" r="0.95"/><circle cx="74.6" cy="75.3" r="0.95"/><circle cx="77.7" cy="77" r="0.95"/><circle cx="75.7" cy="77.4" r="0.95"/><circle cx="75.3" cy="76.2" r="0.95"/><circle cx="77.5" cy="73.5" r="0.95"/><circle cx="80.6" cy="76.1" r="0.95"/><circle cx="77.8" cy="75.9" r="0.95"/><circle cx="71.1" cy="72.9" r="0.95"/><circle cx="74.8" cy="78.2" r="0.95"/><circle cx="75.8" cy="77.4" r="0.95"/><circle cx="74.4" cy="74.1" r="0.95"/><circle cx="76.1" cy="78.4" r="0.95"/><circle cx="72.5" cy="75.6" r="0.95"/><circle cx="78.8" cy="76.3" r="0.95"/><circle cx="77.5" cy="77.7" r="0.95"/><circle cx="93.2" cy="51.4" r="0.95"/><circle cx="95.9" cy="52.8" r="0.95"/><circle cx="88.5" cy="66.3" r="0.95"/><circle cx="109.5" cy="66.3" r="0.95"/><circle cx="94.3" cy="52.8" r="0.95"/><circle cx="85.3" cy="67.6" r="0.95"/><circle cx="93.6" cy="49.1" r="0.95"/><circle cx="102.9" cy="61.1" r="0.95"/><circle cx="101" cy="60" r="0.95"/><circle cx="74.7" cy="53.1" r="0.95"/><circle cx="90" cy="56.5" r="0.95"/><circle cx="102.5" cy="53.5" r="0.95"/><circle cx="90.3" cy="57.2" r="0.95"/><circle cx="90.4" cy="51.3" r="0.95"/><circle cx="81.8" cy="41.9" r="0.95"/><circle cx="93.6" cy="56.3" r="0.95"/><circle cx="92.6" cy="51.2" r="0.95"/><circle cx="91.1" cy="51.7" r="0.95"/><circle cx="83.4" cy="59.6" r="0.95"/><circle cx="95.9" cy="61.1" r="0.95"/><circle cx="90.7" cy="55.2" r="0.95"/><circle cx="101.6" cy="65.1" r="0.95"/><circle cx="86.3" cy="51" r="0.95"/><circle cx="93.9" cy="59.5" r="0.95"/><circle cx="84.1" cy="71.3" r="0.95"/><circle cx="75.2" cy="52.5" r="0.95"/><circle cx="92.9" cy="63.5" r="0.95"/><circle cx="77" cy="54.9" r="0.95"/><circle cx="101.9" cy="66" r="0.95"/><circle cx="89.1" cy="57.8" r="0.95"/><circle cx="84.4" cy="59.9" r="0.95"/><circle cx="83.1" cy="45.3" r="0.95"/><circle cx="79.5" cy="57.9" r="0.95"/><circle cx="81.1" cy="64.2" r="0.95"/><circle cx="100.7" cy="63.6" r="0.95"/><circle cx="96" cy="64.4" r="0.95"/><circle cx="93" cy="62.8" r="0.95"/><circle cx="94.6" cy="62.3" r="0.95"/><circle cx="83.4" cy="53.6" r="0.95"/><circle cx="83.5" cy="62.6" r="0.95"/><circle cx="94.9" cy="52.8" r="0.95"/><circle cx="83.6" cy="54" r="0.95"/><circle cx="97.6" cy="56.8" r="0.95"/><circle cx="89.2" cy="53.4" r="0.95"/><circle cx="90.1" cy="67.2" r="0.95"/><circle cx="85.8" cy="55.4" r="0.95"/><circle cx="103.9" cy="61.9" r="0.95"/><circle cx="82.4" cy="64.1" r="0.95"/><circle cx="81.5" cy="60.9" r="0.95"/><circle cx="72" cy="51.5" r="0.95"/><circle cx="98" cy="53.9" r="0.95"/><circle cx="85.6" cy="57.9" r="0.95"/><circle cx="91.1" cy="54.7" r="0.95"/><circle cx="85.9" cy="68.4" r="0.95"/><circle cx="102.3" cy="59.5" r="0.95"/><circle cx="82.4" cy="54.3" r="0.95"/><circle cx="88.9" cy="60.5" r="0.95"/><circle cx="103.2" cy="54.4" r="0.95"/><circle cx="92.2" cy="54.9" r="0.95"/><circle cx="92.1" cy="53.4" r="0.95"/><circle cx="93.9" cy="64.6" r="0.95"/><circle cx="88.1" cy="55.6" r="0.95"/><circle cx="91.9" cy="49.6" r="0.95"/><circle cx="104.7" cy="49.5" r="0.95"/><circle cx="88.3" cy="52.2" r="0.95"/><circle cx="102.4" cy="54.6" r="0.95"/><circle cx="87.2" cy="69" r="0.95"/><circle cx="90.1" cy="52.8" r="0.95"/><circle cx="91" cy="58.7" r="0.95"/><circle cx="85.4" cy="56.4" r="0.95"/><circle cx="89.5" cy="61.9" r="0.95"/><circle cx="96.9" cy="62.6" r="0.95"/><circle cx="90.1" cy="62.4" r="0.95"/><circle cx="89.5" cy="64.6" r="0.95"/><circle cx="94.1" cy="55" r="0.95"/><circle cx="100.4" cy="48.4" r="0.95"/><circle cx="83.7" cy="52.7" r="0.95"/><circle cx="90.1" cy="50.1" r="0.95"/><circle cx="82" cy="46.1" r="0.95"/><circle cx="91.9" cy="52.9" r="0.95"/><circle cx="107.6" cy="62.2" r="0.95"/><circle cx="82.4" cy="65.5" r="0.95"/><circle cx="91.9" cy="64.1" r="0.95"/><circle cx="82.7" cy="64.6" r="0.95"/><circle cx="99.4" cy="55" r="0.95"/><circle cx="84.6" cy="55.3" r="0.95"/><circle cx="93" cy="72.1" r="0.95"/><circle cx="104.7" cy="66.6" r="0.95"/><circle cx="89.4" cy="55.6" r="0.95"/><circle cx="93.8" cy="55.9" r="0.95"/><circle cx="87.5" cy="56.3" r="0.95"/><circle cx="97.4" cy="57.1" r="0.95"/><circle cx="92.9" cy="56" r="0.95"/><circle cx="89.6" cy="55.6" r="0.95"/><circle cx="100.6" cy="58.9" r="0.95"/><circle cx="102.3" cy="56.5" r="0.95"/><circle cx="99.1" cy="49.2" r="0.95"/><circle cx="88" cy="57.2" r="0.95"/><circle cx="86.3" cy="56.9" r="0.95"/><circle cx="84.1" cy="56.6" r="0.95"/><circle cx="86" cy="57.5" r="0.95"/><circle cx="88.8" cy="51.5" r="0.95"/><circle cx="88" cy="57.7" r="0.95"/><circle cx="81.5" cy="58.1" r="0.95"/><circle cx="100.5" cy="56.2" r="0.95"/><circle cx="95.2" cy="61.3" r="0.95"/><circle cx="85" cy="65.5" r="0.95"/><circle cx="110" cy="51.4" r="0.95"/><circle cx="107.2" cy="53.3" r="0.95"/><circle cx="102.1" cy="46.6" r="0.95"/><circle cx="99.6" cy="58.4" r="0.95"/><circle cx="81.4" cy="52.6" r="0.95"/><circle cx="83.2" cy="52.1" r="0.95"/><circle cx="93.9" cy="56.5" r="0.95"/><circle cx="72.1" cy="55.7" r="0.95"/><circle cx="94.6" cy="58.1" r="0.95"/><circle cx="103.8" cy="46.5" r="0.95"/><circle cx="92.9" cy="57.7" r="0.95"/><circle cx="96.5" cy="49.5" r="0.95"/><circle cx="81.2" cy="56.5" r="0.95"/><circle cx="91.6" cy="46.6" r="0.95"/><circle cx="93.8" cy="57.5" r="0.95"/><circle cx="96.6" cy="41.8" r="0.95"/><circle cx="94.8" cy="52.2" r="0.95"/><circle cx="87.5" cy="62.3" r="0.95"/><circle cx="103.8" cy="58.5" r="0.95"/><circle cx="90.2" cy="65.4" r="0.95"/><circle cx="84.3" cy="56.6" r="0.95"/><circle cx="87.2" cy="51.6" r="0.95"/><circle cx="92.5" cy="69.8" r="0.95"/><circle cx="92.9" cy="60.6" r="0.95"/><circle cx="90.8" cy="64.3" r="0.95"/><circle cx="92.4" cy="52.2" r="0.95"/><circle cx="91.8" cy="66.2" r="0.95"/><circle cx="90.4" cy="64.8" r="0.95"/><circle cx="90.5" cy="69.8" r="0.95"/><circle cx="93.2" cy="61.5" r="0.95"/><circle cx="88.9" cy="62.6" r="0.95"/><circle cx="89.3" cy="48.6" r="0.95"/><circle cx="93.3" cy="50.3" r="0.95"/><circle cx="102.2" cy="62.3" r="0.95"/><circle cx="91.2" cy="61.7" r="0.95"/><circle cx="71.5" cy="66.8" r="0.95"/><circle cx="86.2" cy="61.6" r="0.95"/><circle cx="110.4" cy="47.8" r="0.95"/><circle cx="87.9" cy="59.6" r="0.95"/><circle cx="94.2" cy="47.3" r="0.95"/><circle cx="84" cy="66.5" r="0.95"/><circle cx="86.5" cy="60.9" r="0.95"/><circle cx="80.7" cy="52" r="0.95"/><circle cx="77.3" cy="59.2" r="0.95"/><circle cx="99.8" cy="58.1" r="0.95"/><circle cx="89" cy="59" r="0.95"/><circle cx="94.6" cy="55.8" r="0.95"/><circle cx="95.2" cy="69.3" r="0.95"/><circle cx="107.8" cy="54.1" r="0.95"/><circle cx="81.5" cy="69.1" r="0.95"/><circle cx="98.5" cy="64.9" r="0.95"/><circle cx="95.6" cy="56.2" r="0.95"/><circle cx="98.4" cy="64.3" r="0.95"/><circle cx="99.9" cy="51" r="0.95"/><circle cx="98.8" cy="55.4" r="0.95"/><circle cx="88.4" cy="59.7" r="0.95"/><circle cx="88.4" cy="71.5" r="0.95"/><circle cx="95.3" cy="59.2" r="0.95"/><circle cx="89.6" cy="59.1" r="0.95"/><circle cx="89.3" cy="61.1" r="0.95"/><circle cx="97.6" cy="62.6" r="0.95"/><circle cx="81.6" cy="55.6" r="0.95"/><circle cx="91.7" cy="50.2" r="0.95"/><circle cx="93.9" cy="56.7" r="0.95"/><circle cx="91.5" cy="59.9" r="0.95"/><circle cx="86.4" cy="66.9" r="0.95"/><circle cx="98.9" cy="54.2" r="0.95"/><circle cx="94.6" cy="62" r="0.95"/><circle cx="85.3" cy="55.4" r="0.95"/><circle cx="96.3" cy="42" r="0.95"/><circle cx="81.1" cy="59.5" r="0.95"/><circle cx="95.8" cy="52" r="0.95"/><circle cx="97.5" cy="70.9" r="0.95"/><circle cx="92.7" cy="57.3" r="0.95"/><circle cx="91.6" cy="51.4" r="0.95"/><circle cx="95.2" cy="58.6" r="0.95"/><circle cx="96.7" cy="66.2" r="0.95"/><circle cx="91.4" cy="58.7" r="0.95"/><circle cx="93.5" cy="68.1" r="0.95"/><circle cx="80.1" cy="57.5" r="0.95"/><circle cx="86.4" cy="58.3" r="0.95"/><circle cx="97.4" cy="58" r="0.95"/><circle cx="96.6" cy="58.7" r="0.95"/><circle cx="85.7" cy="53.6" r="0.95"/><circle cx="80.7" cy="58.9" r="0.95"/><circle cx="88.1" cy="62.6" r="0.95"/><circle cx="98.4" cy="52.2" r="0.95"/><circle cx="82.9" cy="61.2" r="0.95"/><circle cx="84.5" cy="58.8" r="0.95"/><circle cx="95.7" cy="55.2" r="0.95"/><circle cx="104.5" cy="52.9" r="0.95"/><circle cx="94.3" cy="55.1" r="0.95"/><circle cx="69.4" cy="56.5" r="0.95"/><circle cx="89.9" cy="61.1" r="0.95"/><circle cx="90.1" cy="53.2" r="0.95"/><circle cx="87.2" cy="55.7" r="0.95"/><circle cx="96.8" cy="55.9" r="0.95"/><circle cx="100.4" cy="62.7" r="0.95"/><circle cx="85.5" cy="63.8" r="0.95"/><circle cx="74" cy="57.7" r="0.95"/><circle cx="83.7" cy="57" r="0.95"/><circle cx="99.8" cy="57.6" r="0.95"/><circle cx="89.8" cy="65.3" r="0.95"/><circle cx="85.4" cy="52.6" r="0.95"/><circle cx="98.4" cy="61.3" r="0.95"/><circle cx="80.3" cy="58.5" r="0.95"/><circle cx="97" cy="56.6" r="0.95"/><circle cx="88" cy="58.4" r="0.95"/><circle cx="92.7" cy="53.3" r="0.95"/><circle cx="97.4" cy="48.1" r="0.95"/><circle cx="90.5" cy="70.5" r="0.95"/><circle cx="83.1" cy="57.3" r="0.95"/><circle cx="74" cy="52.6" r="0.95"/><circle cx="82.4" cy="57.9" r="0.95"/><circle cx="87.4" cy="68.6" r="0.95"/><circle cx="84.1" cy="57.4" r="0.95"/><circle cx="92.7" cy="61.4" r="0.95"/><circle cx="97.8" cy="48.2" r="0.95"/><circle cx="107.6" cy="55.7" r="0.95"/><circle cx="85.7" cy="47.7" r="0.95"/><circle cx="87.7" cy="46.9" r="0.95"/><circle cx="92.5" cy="54" r="0.95"/><circle cx="93.5" cy="52.8" r="0.95"/><circle cx="91.6" cy="71" r="0.95"/><circle cx="99.9" cy="58.5" r="0.95"/><circle cx="83.7" cy="66.4" r="0.95"/><circle cx="78.3" cy="49.1" r="0.95"/><circle cx="100.8" cy="54" r="0.95"/><circle cx="101.2" cy="61" r="0.95"/><circle cx="107.5" cy="68.3" r="0.95"/><circle cx="95.5" cy="53.8" r="0.95"/><circle cx="95.5" cy="66" r="0.95"/><circle cx="92.1" cy="40.1" r="0.95"/><circle cx="88.2" cy="55.3" r="0.95"/><circle cx="90.6" cy="55.4" r="0.95"/><circle cx="99.7" cy="49.9" r="0.95"/><circle cx="94.4" cy="45.6" r="0.95"/><circle cx="74.7" cy="51.4" r="0.95"/><circle cx="85.4" cy="52.1" r="0.95"/><circle cx="85.8" cy="61.2" r="0.95"/><circle cx="95.4" cy="58" r="0.95"/><circle cx="92.5" cy="53.4" r="0.95"/><circle cx="83.6" cy="49" r="0.95"/><circle cx="87.9" cy="50.7" r="0.95"/><circle cx="88.6" cy="61.9" r="0.95"/><circle cx="95.2" cy="65.5" r="0.95"/><circle cx="84" cy="44.3" r="0.95"/><circle cx="82.7" cy="69.5" r="0.95"/><circle cx="96.3" cy="54.9" r="0.95"/><circle cx="101" cy="55" r="0.95"/><circle cx="103.6" cy="55.1" r="0.95"/><circle cx="88" cy="61.7" r="0.95"/><circle cx="82.4" cy="56.5" r="0.95"/><circle cx="105.6" cy="60.1" r="0.95"/><circle cx="82.7" cy="56" r="0.95"/><circle cx="90.8" cy="53" r="0.95"/><circle cx="94.1" cy="65" r="0.95"/><circle cx="91.4" cy="62.8" r="0.95"/><circle cx="93.2" cy="58.3" r="0.95"/><circle cx="85.4" cy="63.3" r="0.95"/><circle cx="101.2" cy="54.8" r="0.95"/><circle cx="84.4" cy="60.6" r="0.95"/><circle cx="91.8" cy="64.3" r="0.95"/><circle cx="94.7" cy="56.7" r="0.95"/><circle cx="80.6" cy="61.2" r="0.95"/><circle cx="91.7" cy="49.9" r="0.95"/><circle cx="79.8" cy="46.5" r="0.95"/><circle cx="95.7" cy="54.9" r="0.95"/><circle cx="66" cy="52.2" r="0.95"/><circle cx="86.2" cy="56.8" r="0.95"/><circle cx="91.3" cy="55.5" r="0.95"/><circle cx="96.6" cy="63.7" r="0.95"/><circle cx="89.3" cy="67" r="0.95"/><circle cx="90" cy="52.3" r="0.95"/><circle cx="92.2" cy="48.9" r="0.95"/><circle cx="88.7" cy="51.1" r="0.95"/><circle cx="87.8" cy="58.7" r="0.95"/><circle cx="72.6" cy="59.8" r="0.95"/><circle cx="92.9" cy="56.2" r="0.95"/><circle cx="96.4" cy="59.6" r="0.95"/><circle cx="88.2" cy="51.5" r="0.95"/><circle cx="96.5" cy="62" r="0.95"/><circle cx="79.9" cy="53.1" r="0.95"/><circle cx="94.5" cy="60.3" r="0.95"/><circle cx="97.8" cy="52" r="0.95"/><circle cx="109.3" cy="58.8" r="0.95"/><circle cx="102.3" cy="58" r="0.95"/><circle cx="100" cy="57.1" r="0.95"/><circle cx="105.9" cy="58.8" r="0.95"/><circle cx="98.5" cy="57.4" r="0.95"/><circle cx="111.3" cy="54.8" r="0.95"/><circle cx="93.7" cy="57.4" r="0.95"/><circle cx="94.7" cy="67.5" r="0.95"/><circle cx="104.4" cy="59.3" r="0.95"/><circle cx="103" cy="64.9" r="0.95"/><circle cx="95.4" cy="56.8" r="0.95"/><circle cx="91.8" cy="62" r="0.95"/><circle cx="100.5" cy="64.1" r="0.95"/><circle cx="99.4" cy="52.8" r="0.95"/><circle cx="97.1" cy="60.2" r="0.95"/><circle cx="96.4" cy="58" r="0.95"/><circle cx="97" cy="54.1" r="0.95"/><circle cx="97.9" cy="63.5" r="0.95"/><circle cx="95" cy="58.3" r="0.95"/><circle cx="105.4" cy="54" r="0.95"/><circle cx="92.6" cy="63" r="0.95"/><circle cx="110.5" cy="56" r="0.95"/><circle cx="94.3" cy="60.5" r="0.95"/><circle cx="100.7" cy="53.7" r="0.95"/><circle cx="98.8" cy="47.3" r="0.95"/><circle cx="96.4" cy="52.1" r="0.95"/><circle cx="93.6" cy="59.3" r="0.95"/><circle cx="102.4" cy="63.8" r="0.95"/><circle cx="86.1" cy="54.3" r="0.95"/><circle cx="96.3" cy="62.3" r="0.95"/><circle cx="106.7" cy="57.4" r="0.95"/><circle cx="101.4" cy="53.9" r="0.95"/><circle cx="98.1" cy="55.2" r="0.95"/><circle cx="86.9" cy="64.6" r="0.95"/><circle cx="105" cy="65.3" r="0.95"/><circle cx="107.8" cy="58.9" r="0.95"/><circle cx="105.5" cy="50.1" r="0.95"/><circle cx="95.3" cy="60.4" r="0.95"/><circle cx="98.8" cy="50.4" r="0.95"/><circle cx="100.8" cy="51.7" r="0.95"/><circle cx="100.9" cy="63.3" r="0.95"/><circle cx="94.6" cy="55.1" r="0.95"/><circle cx="104" cy="56.8" r="0.95"/><circle cx="101.9" cy="53.5" r="0.95"/><circle cx="99" cy="47.3" r="0.95"/><circle cx="99.9" cy="62.1" r="0.95"/><circle cx="94.7" cy="56.2" r="0.95"/><circle cx="104.8" cy="61.9" r="0.95"/><circle cx="107.4" cy="53.3" r="0.95"/><circle cx="98.6" cy="64" r="0.95"/><circle cx="98.3" cy="58.1" r="0.95"/><circle cx="96.2" cy="54.3" r="0.95"/><circle cx="84.4" cy="54.7" r="0.95"/><circle cx="88.7" cy="52.8" r="0.95"/><circle cx="95.4" cy="62.4" r="0.95"/><circle cx="105.1" cy="58.5" r="0.95"/><circle cx="98" cy="51.3" r="0.95"/><circle cx="103.5" cy="53.6" r="0.95"/><circle cx="100.2" cy="60.7" r="0.95"/><circle cx="99.8" cy="56.8" r="0.95"/><circle cx="95.3" cy="61.2" r="0.95"/><circle cx="103.8" cy="59.8" r="0.95"/><circle cx="109.9" cy="50.3" r="0.95"/><circle cx="101" cy="59.5" r="0.95"/><circle cx="102.7" cy="58.1" r="0.95"/><circle cx="103.5" cy="50.7" r="0.95"/><circle cx="100.4" cy="61.6" r="0.95"/><circle cx="100.6" cy="56.1" r="0.95"/><circle cx="105.6" cy="49.8" r="0.95"/><circle cx="103.1" cy="63.1" r="0.95"/><circle cx="99.4" cy="53.6" r="0.95"/><circle cx="103.8" cy="55.1" r="0.95"/><circle cx="96.3" cy="57.6" r="0.95"/><circle cx="70.3" cy="72.3" r="0.95"/><circle cx="72.4" cy="66.1" r="0.95"/><circle cx="81.2" cy="68.7" r="0.95"/><circle cx="79.1" cy="75.9" r="0.95"/><circle cx="84.8" cy="79.5" r="0.95"/><circle cx="75.4" cy="73.5" r="0.95"/><circle cx="70.3" cy="72.9" r="0.95"/><circle cx="83.8" cy="65.2" r="0.95"/><circle cx="80" cy="73.1" r="0.95"/><circle cx="77.2" cy="65.6" r="0.95"/><circle cx="84.8" cy="62.2" r="0.95"/><circle cx="78.6" cy="73.7" r="0.95"/><circle cx="79" cy="76.9" r="0.95"/><circle cx="84.6" cy="71.2" r="0.95"/><circle cx="86" cy="72.7" r="0.95"/><circle cx="72.3" cy="67.2" r="0.95"/><circle cx="79.1" cy="69.8" r="0.95"/><circle cx="70.1" cy="80.5" r="0.95"/><circle cx="70.8" cy="63.1" r="0.95"/><circle cx="79.9" cy="69.9" r="0.95"/><circle cx="84.9" cy="70" r="0.95"/><circle cx="79.6" cy="72.6" r="0.95"/><circle cx="74.5" cy="62.3" r="0.95"/><circle cx="75.8" cy="74" r="0.95"/><circle cx="76.6" cy="75.2" r="0.95"/><circle cx="75.4" cy="72.7" r="0.95"/><circle cx="78" cy="73.2" r="0.95"/><circle cx="77.9" cy="69.9" r="0.95"/><circle cx="75.8" cy="75.2" r="0.95"/><circle cx="77.7" cy="71.4" r="0.95"/><circle cx="80.9" cy="64.4" r="0.95"/><circle cx="74.1" cy="68.7" r="0.95"/><circle cx="83.7" cy="63.5" r="0.95"/><circle cx="73.3" cy="63.9" r="0.95"/><circle cx="76.1" cy="63.5" r="0.95"/><circle cx="74.2" cy="71.6" r="0.95"/><circle cx="72.9" cy="68.9" r="0.95"/><circle cx="72.5" cy="67.9" r="0.95"/><circle cx="80.3" cy="58.7" r="0.95"/><circle cx="78.2" cy="70" r="0.95"/><circle cx="77.6" cy="70.2" r="0.95"/><circle cx="79.8" cy="62.3" r="0.95"/><circle cx="77.4" cy="72.2" r="0.95"/><circle cx="83.8" cy="62" r="0.95"/><circle cx="75.2" cy="62" r="0.95"/><circle cx="77.8" cy="63.5" r="0.95"/><circle cx="73.4" cy="72.8" r="0.95"/><circle cx="88.1" cy="58.5" r="0.95"/><circle cx="85.4" cy="64.3" r="0.95"/><circle cx="81" cy="70.7" r="0.95"/><circle cx="83.5" cy="67.9" r="0.95"/><circle cx="74.1" cy="68.6" r="0.95"/><circle cx="81.5" cy="64.4" r="0.95"/><circle cx="79.8" cy="68.9" r="0.95"/><circle cx="78.7" cy="69" r="0.95"/><circle cx="80.7" cy="73" r="0.95"/><circle cx="76.6" cy="67.1" r="0.95"/><circle cx="68.2" cy="64.5" r="0.95"/><circle cx="71" cy="72.3" r="0.95"/><circle cx="73" cy="65.4" r="0.95"/><circle cx="80.3" cy="73.9" r="0.95"/><circle cx="83.5" cy="64.6" r="0.95"/><circle cx="79" cy="74.3" r="0.95"/><circle cx="74.1" cy="67.8" r="0.95"/><circle cx="72.4" cy="65.7" r="0.95"/><circle cx="81.2" cy="69.4" r="0.95"/><circle cx="76.3" cy="66.1" r="0.95"/><circle cx="84.8" cy="72.7" r="0.95"/><circle cx="72.3" cy="79.9" r="0.95"/><circle cx="76.1" cy="68.2" r="0.95"/><circle cx="75.7" cy="66" r="0.95"/><circle cx="80.8" cy="61.6" r="0.95"/><circle cx="78.1" cy="67.3" r="0.95"/><circle cx="85.9" cy="70.9" r="0.95"/><circle cx="79.9" cy="71.6" r="0.95"/><circle cx="80.6" cy="69.6" r="0.95"/><circle cx="66.8" cy="71.1" r="0.95"/><circle cx="76.5" cy="72.5" r="0.95"/><circle cx="79.4" cy="66.2" r="0.95"/><circle cx="73.9" cy="63.8" r="0.95"/><circle cx="79.2" cy="68.4" r="0.95"/><circle cx="73.9" cy="67.1" r="0.95"/><circle cx="79.5" cy="65.6" r="0.95"/><circle cx="77.4" cy="65.9" r="0.95"/><circle cx="66.2" cy="69.4" r="0.95"/><circle cx="78.2" cy="73" r="0.95"/><circle cx="83.9" cy="65.3" r="0.95"/><circle cx="80.6" cy="70.3" r="0.95"/><circle cx="78.3" cy="73.1" r="0.95"/><circle cx="81.9" cy="62.6" r="0.95"/><circle cx="84.6" cy="68.1" r="0.95"/><circle cx="74.9" cy="65.5" r="0.95"/><circle cx="76.9" cy="63.3" r="0.95"/><circle cx="82.9" cy="71.1" r="0.95"/><circle cx="73.9" cy="73.1" r="0.95"/><circle cx="79" cy="69.4" r="0.95"/><circle cx="82.3" cy="68.5" r="0.95"/><circle cx="76.8" cy="71.5" r="0.95"/><circle cx="69.7" cy="62.9" r="0.95"/><circle cx="80.2" cy="74.3" r="0.95"/><circle cx="70.3" cy="69" r="0.95"/><circle cx="74.9" cy="67.5" r="0.95"/><circle cx="80.7" cy="76.5" r="0.95"/><circle cx="85.9" cy="73.7" r="0.95"/><circle cx="80.9" cy="69.7" r="0.95"/><circle cx="69.5" cy="70.9" r="0.95"/><circle cx="72.6" cy="63.3" r="0.95"/><circle cx="78.5" cy="61" r="0.95"/><circle cx="86" cy="72" r="0.95"/><circle cx="79.6" cy="71.4" r="0.95"/><circle cx="79.1" cy="69.3" r="0.95"/><circle cx="81.2" cy="65.6" r="0.95"/><circle cx="79.2" cy="69.8" r="0.95"/><circle cx="81.5" cy="63.4" r="0.95"/><circle cx="79.1" cy="68.3" r="0.95"/><circle cx="80.8" cy="71.7" r="0.95"/><circle cx="78.8" cy="71.3" r="0.95"/><circle cx="80" cy="75.8" r="0.95"/><circle cx="79.3" cy="71.6" r="0.95"/><circle cx="73.7" cy="67.9" r="0.95"/><circle cx="81.4" cy="74.2" r="0.95"/><circle cx="73.5" cy="68.8" r="0.95"/><circle cx="76.7" cy="69.2" r="0.95"/><circle cx="75.8" cy="66.8" r="0.95"/><circle cx="77.7" cy="69.6" r="0.95"/><circle cx="82.6" cy="64.7" r="0.95"/><circle cx="73.6" cy="72.9" r="0.95"/><circle cx="80.2" cy="68" r="0.95"/><circle cx="72.7" cy="74.2" r="0.95"/><circle cx="73.1" cy="74.6" r="0.95"/><circle cx="79.1" cy="68.2" r="0.95"/><circle cx="77.2" cy="73.1" r="0.95"/><circle cx="78" cy="60.2" r="0.95"/><circle cx="74.8" cy="58.2" r="0.95"/><circle cx="79.8" cy="73.6" r="0.95"/><circle cx="82.6" cy="62.2" r="0.95"/><circle cx="87.5" cy="78.1" r="0.95"/><circle cx="77.5" cy="59" r="0.95"/><circle cx="74" cy="74.2" r="0.95"/><circle cx="87.3" cy="66.3" r="0.95"/><circle cx="69.6" cy="64.1" r="0.95"/><circle cx="86.6" cy="68.9" r="0.95"/><circle cx="71.6" cy="58.5" r="0.95"/><circle cx="80.8" cy="73" r="0.95"/><circle cx="75.8" cy="68" r="0.95"/><circle cx="78.3" cy="67.2" r="0.95"/><circle cx="75.5" cy="66.1" r="0.95"/><circle cx="75.3" cy="75.1" r="0.95"/><circle cx="79.8" cy="74.1" r="0.95"/><circle cx="86.3" cy="57.5" r="0.95"/><circle cx="77.7" cy="73.8" r="0.95"/><circle cx="77" cy="66" r="0.95"/><circle cx="79.7" cy="66.3" r="0.95"/><circle cx="74.2" cy="67.4" r="0.95"/><circle cx="78.2" cy="69" r="0.95"/><circle cx="82" cy="69.1" r="0.95"/><circle cx="75.8" cy="84.2" r="0.95"/><circle cx="76.9" cy="67.6" r="0.95"/><circle cx="77.3" cy="65.4" r="0.95"/><circle cx="70.8" cy="69.9" r="0.95"/><circle cx="84.5" cy="59.8" r="0.95"/><circle cx="74.5" cy="71.1" r="0.95"/><circle cx="74.9" cy="71.6" r="0.95"/><circle cx="77.7" cy="63.4" r="0.95"/><circle cx="77" cy="66.4" r="0.95"/><circle cx="80.4" cy="56.2" r="0.95"/><circle cx="79.8" cy="75.6" r="0.95"/><circle cx="78.6" cy="70.1" r="0.95"/><circle cx="75.5" cy="70.6" r="0.95"/><circle cx="77.3" cy="62.5" r="0.95"/><circle cx="72.6" cy="57.3" r="0.95"/><circle cx="79.9" cy="69.8" r="0.95"/><circle cx="82.9" cy="70.2" r="0.95"/><circle cx="81.1" cy="62.2" r="0.95"/><circle cx="69.5" cy="66.1" r="0.95"/><circle cx="76.5" cy="70.8" r="0.95"/><circle cx="77.4" cy="68.1" r="0.95"/><circle cx="78.1" cy="70.2" r="0.95"/><circle cx="78.9" cy="70.5" r="0.95"/><circle cx="75.7" cy="68.5" r="0.95"/><circle cx="71.3" cy="63.4" r="0.95"/><circle cx="76.7" cy="71.1" r="0.95"/><circle cx="74.5" cy="61.9" r="0.95"/><circle cx="82.3" cy="64.8" r="0.95"/><circle cx="70.2" cy="64.1" r="0.95"/><circle cx="72.6" cy="56.8" r="0.95"/><circle cx="76.2" cy="77.4" r="0.95"/><circle cx="74.6" cy="64.8" r="0.95"/><circle cx="83.1" cy="69.4" r="0.95"/><circle cx="77.5" cy="75.8" r="0.95"/><circle cx="58" cy="52.8" r="0.95"/><circle cx="66.5" cy="53.5" r="0.95"/><circle cx="58.1" cy="50.6" r="0.95"/><circle cx="72.9" cy="52.7" r="0.95"/><circle cx="62.6" cy="55.7" r="0.95"/><circle cx="55" cy="52.8" r="0.95"/><circle cx="55.1" cy="56.5" r="0.95"/><circle cx="59" cy="53.3" r="0.95"/><circle cx="59.3" cy="53.3" r="0.95"/><circle cx="65.5" cy="53" r="0.95"/><circle cx="62.4" cy="53.6" r="0.95"/><circle cx="62.7" cy="51.7" r="0.95"/><circle cx="67.1" cy="55.1" r="0.95"/><circle cx="57.2" cy="50.5" r="0.95"/><circle cx="60.1" cy="53.7" r="0.95"/><circle cx="56.9" cy="56.9" r="0.95"/><circle cx="64.2" cy="53.4" r="0.95"/><circle cx="68.3" cy="51.1" r="0.95"/><circle cx="65.8" cy="54" r="0.95"/><circle cx="70.4" cy="50.4" r="0.95"/><circle cx="70.9" cy="54.5" r="0.95"/><circle cx="65.2" cy="55.6" r="0.95"/><circle cx="62.7" cy="52.5" r="0.95"/><circle cx="68.2" cy="52.1" r="0.95"/><circle cx="69.4" cy="56.4" r="0.95"/><circle cx="65.1" cy="53.4" r="0.95"/><circle cx="60.7" cy="50.7" r="0.95"/><circle cx="71.2" cy="50.4" r="0.95"/><circle cx="64.4" cy="53.7" r="0.95"/><circle cx="59.5" cy="51.3" r="0.95"/><circle cx="60.5" cy="58.3" r="0.95"/><circle cx="65.9" cy="56.5" r="0.95"/><circle cx="74.2" cy="55.5" r="0.95"/><circle cx="70.6" cy="51.9" r="0.95"/><circle cx="60.6" cy="56.6" r="0.95"/><circle cx="71.3" cy="50.5" r="0.95"/><circle cx="69.7" cy="53.7" r="0.95"/><circle cx="68" cy="55.4" r="0.95"/><circle cx="73.5" cy="51.5" r="0.95"/><circle cx="64" cy="56.2" r="0.95"/><circle cx="62.8" cy="54.4" r="0.95"/><circle cx="63.7" cy="48.8" r="0.95"/><circle cx="61.3" cy="55.2" r="0.95"/><circle cx="61.3" cy="49.2" r="0.95"/><circle cx="61.6" cy="53.3" r="0.95"/><circle cx="66.5" cy="53.9" r="0.95"/><circle cx="66.7" cy="50.4" r="0.95"/><circle cx="61.1" cy="51.1" r="0.95"/><circle cx="61.9" cy="54.1" r="0.95"/><circle cx="70.7" cy="52.5" r="0.95"/><circle cx="69.4" cy="55.8" r="0.95"/><circle cx="58.4" cy="51" r="0.95"/><circle cx="64.9" cy="49.6" r="0.95"/><circle cx="73.4" cy="48.4" r="0.95"/><circle cx="58" cy="55" r="0.95"/><circle cx="60.4" cy="54.8" r="0.95"/><circle cx="59.2" cy="55.7" r="0.95"/><circle cx="61.2" cy="54.9" r="0.95"/><circle cx="69.1" cy="49.3" r="0.95"/><circle cx="59.7" cy="48.7" r="0.95"/><circle cx="85.3" cy="69.6" r="0.95"/><circle cx="94.9" cy="69.1" r="0.95"/><circle cx="108" cy="70.4" r="0.95"/><circle cx="101.7" cy="60.2" r="0.95"/><circle cx="91.8" cy="65.4" r="0.95"/><circle cx="103" cy="70.8" r="0.95"/><circle cx="97.9" cy="61.2" r="0.95"/><circle cx="94.6" cy="74.8" r="0.95"/><circle cx="97.8" cy="77.2" r="0.95"/><circle cx="88.9" cy="69.3" r="0.95"/><circle cx="97.2" cy="68.5" r="0.95"/><circle cx="88.5" cy="65.6" r="0.95"/><circle cx="94.7" cy="61.3" r="0.95"/><circle cx="84.6" cy="53.3" r="0.95"/><circle cx="92.3" cy="67.1" r="0.95"/><circle cx="97.6" cy="64.9" r="0.95"/><circle cx="98.2" cy="53.8" r="0.95"/><circle cx="104.8" cy="63.7" r="0.95"/><circle cx="88.6" cy="59.4" r="0.95"/><circle cx="104.2" cy="64.6" r="0.95"/><circle cx="80.4" cy="77.9" r="0.95"/><circle cx="82" cy="75.2" r="0.95"/><circle cx="102.9" cy="56.3" r="0.95"/><circle cx="106.5" cy="72" r="0.95"/><circle cx="104.7" cy="67.8" r="0.95"/><circle cx="98.2" cy="64.8" r="0.95"/><circle cx="90.6" cy="65.2" r="0.95"/><circle cx="106.8" cy="62.5" r="0.95"/><circle cx="113" cy="52.4" r="0.95"/><circle cx="95.6" cy="52.9" r="0.95"/><circle cx="79.6" cy="65.1" r="0.95"/><circle cx="92.4" cy="59.4" r="0.95"/><circle cx="85.9" cy="61.6" r="0.95"/><circle cx="80.8" cy="61.9" r="0.95"/><circle cx="90.6" cy="54.6" r="0.95"/><circle cx="99.1" cy="50.3" r="0.95"/><circle cx="99.2" cy="65.1" r="0.95"/><circle cx="100.1" cy="64.2" r="0.95"/><circle cx="102.5" cy="61.5" r="0.95"/><circle cx="85.7" cy="65.9" r="0.95"/><circle cx="88.3" cy="60.8" r="0.95"/><circle cx="96.4" cy="56.8" r="0.95"/><circle cx="104.2" cy="52.6" r="0.95"/><circle cx="106.3" cy="63.1" r="0.95"/><circle cx="110.6" cy="71" r="0.95"/><circle cx="101.4" cy="65.3" r="0.95"/><circle cx="96.4" cy="53.7" r="0.95"/><circle cx="90.4" cy="56.7" r="0.95"/><circle cx="89" cy="62.4" r="0.95"/><circle cx="88.3" cy="64.3" r="0.95"/></g>
<g id="box"><g stroke="#161616" stroke-width="1.3" fill="none" stroke-linecap="round"><line x1="0" y1="0" x2="125.5" y2="0.2"/><line x1="0" y1="0" x2="3.1" y2="84.5"/><polyline points="125.5,0.2 123.6,51 122.4,86 120.6,102.6"/><line x1="80.4" y1="0" x2="79.8" y2="42"/><line x1="79.8" y1="42" x2="79.1" y2="76.8" stroke-dasharray="2.3 2.3" stroke-linecap="butt"/><line x1="3.1" y1="84.5" x2="79.1" y2="76.8"/><line x1="79.1" y1="76.8" x2="120.6" y2="102.6"/><line x1="120.6" y1="102.6" x2="22.1" y2="117"/><line x1="3.1" y1="84.5" x2="22.1" y2="117"/></g><g stroke="#161616" stroke-width="1.1"><line x1="-2.6" y1="13.9" x2="-0.1" y2="82.4"/><path d="M-2.6 13.9L-3.5 16.9L-1.5 16.9Z" stroke="none" fill="#1a1a1a"/><line x1="3" y1="92.2" x2="16.1" y2="115.8"/><path d="M3 92.2L3.6 95.3L5.3 94.3Z" stroke="none" fill="#1a1a1a"/><line x1="39.7" y1="119.4" x2="112.2" y2="108.3"/><path d="M39.7 119.4L42.8 119.9L42.5 118Z" stroke="none" fill="#1a1a1a"/></g><g class="ax"><text transform="translate(-8.6,50.3) rotate(90)">DC2</text><text transform="translate(5.3,106.4) rotate(59)">DC3</text><text transform="translate(78.6,121.4) rotate(-7)">DC1</text></g></g>
</defs>

<text x="7.6" y="18.7" style="font-size:14.3px;font-weight:bold;fill:#000">A</text>
<text x="8.7" y="643.2" style="font-size:13.8px;font-weight:bold;fill:#000">B</text>
<g transform="translate(21.4,34)"><use href="#box"/><use href="#cloud"/>
<g fill="#b48cf0" fill-opacity="0.45"><circle cx="83.3" cy="34.7" r="2.5"/><circle cx="86.6" cy="26.3" r="2.5"/><circle cx="84.7" cy="32.4" r="2.5"/><circle cx="80.4" cy="39.8" r="2.5"/><circle cx="81.8" cy="37.3" r="2.5"/><circle cx="81.6" cy="37" r="2.5"/><circle cx="80.1" cy="39.5" r="2.5"/><circle cx="81.3" cy="36.5" r="2.5"/><circle cx="80.6" cy="38.8" r="2.5"/><circle cx="86.6" cy="25.7" r="2.5"/><circle cx="85.8" cy="26.8" r="2.5"/><circle cx="85.8" cy="31.5" r="2.5"/><circle cx="87.1" cy="25" r="2.5"/><circle cx="83.4" cy="34.2" r="2.5"/><circle cx="82.9" cy="35.4" r="2.5"/><circle cx="85.8" cy="31.2" r="2.5"/><circle cx="85.6" cy="31.3" r="2.5"/><circle cx="83" cy="34.8" r="2.5"/><circle cx="83.3" cy="35.5" r="2.5"/><circle cx="86.4" cy="25.2" r="2.5"/><circle cx="87.5" cy="23.5" r="2.5"/><circle cx="86.9" cy="23.2" r="2.5"/><circle cx="88" cy="24.2" r="2.5"/><circle cx="81.2" cy="37" r="2.5"/><circle cx="87.4" cy="23.2" r="2.5"/><circle cx="85.8" cy="28.3" r="2.5"/><circle cx="87.6" cy="25.3" r="2.5"/><circle cx="86.2" cy="29.8" r="2.5"/><circle cx="86.7" cy="25.9" r="2.5"/><circle cx="82.4" cy="36.1" r="2.5"/><circle cx="86.7" cy="27" r="2.5"/><circle cx="87.8" cy="24.3" r="2.5"/><circle cx="87" cy="26.2" r="2.5"/><circle cx="82.2" cy="35.3" r="2.5"/><circle cx="86.6" cy="28.4" r="2.5"/><circle cx="85.1" cy="31.3" r="2.5"/><circle cx="82.2" cy="36.6" r="2.5"/><circle cx="80" cy="38.3" r="2.5"/><circle cx="83.2" cy="33" r="2.5"/><circle cx="87.1" cy="25.9" r="2.5"/><circle cx="80.1" cy="39.8" r="2.5"/><circle cx="86.2" cy="24.8" r="2.5"/><circle cx="82.6" cy="40.8" r="2.5"/><circle cx="88.2" cy="21.6" r="2.5"/><circle cx="86.4" cy="21.4" r="2.5"/><circle cx="87.3" cy="21.2" r="2.5"/></g>
<g fill="#8020dc" fill-opacity="0.88"><circle cx="83.3" cy="34.7" r="1.15"/><circle cx="86.6" cy="26.3" r="1.15"/><circle cx="84.7" cy="32.4" r="1.15"/><circle cx="80.4" cy="39.8" r="1.15"/><circle cx="81.8" cy="37.3" r="1.15"/><circle cx="81.6" cy="37" r="1.15"/><circle cx="80.1" cy="39.5" r="1.15"/><circle cx="81.3" cy="36.5" r="1.15"/><circle cx="80.6" cy="38.8" r="1.15"/><circle cx="86.6" cy="25.7" r="1.15"/><circle cx="85.8" cy="26.8" r="1.15"/><circle cx="85.8" cy="31.5" r="1.15"/><circle cx="87.1" cy="25" r="1.15"/><circle cx="83.4" cy="34.2" r="1.15"/><circle cx="82.9" cy="35.4" r="1.15"/><circle cx="85.8" cy="31.2" r="1.15"/><circle cx="85.6" cy="31.3" r="1.15"/><circle cx="83" cy="34.8" r="1.15"/><circle cx="83.3" cy="35.5" r="1.15"/><circle cx="86.4" cy="25.2" r="1.15"/><circle cx="87.5" cy="23.5" r="1.15"/><circle cx="86.9" cy="23.2" r="1.15"/><circle cx="88" cy="24.2" r="1.15"/><circle cx="81.2" cy="37" r="1.15"/><circle cx="87.4" cy="23.2" r="1.15"/><circle cx="85.8" cy="28.3" r="1.15"/><circle cx="87.6" cy="25.3" r="1.15"/><circle cx="86.2" cy="29.8" r="1.15"/><circle cx="86.7" cy="25.9" r="1.15"/><circle cx="82.4" cy="36.1" r="1.15"/><circle cx="86.7" cy="27" r="1.15"/><circle cx="87.8" cy="24.3" r="1.15"/><circle cx="87" cy="26.2" r="1.15"/><circle cx="82.2" cy="35.3" r="1.15"/><circle cx="86.6" cy="28.4" r="1.15"/><circle cx="85.1" cy="31.3" r="1.15"/><circle cx="82.2" cy="36.6" r="1.15"/><circle cx="80" cy="38.3" r="1.15"/><circle cx="83.2" cy="33" r="1.15"/><circle cx="87.1" cy="25.9" r="1.15"/><circle cx="80.1" cy="39.8" r="1.15"/><circle cx="86.2" cy="24.8" r="1.15"/><circle cx="82.6" cy="40.8" r="1.15"/><circle cx="88.2" cy="21.6" r="1.15"/><circle cx="86.4" cy="21.4" r="1.15"/><circle cx="87.3" cy="21.2" r="1.15"/></g></g>
<text x="81" y="27.8" text-anchor="middle" class="t">E-SLAM</text>
<g transform="translate(202.6,34)"><use href="#box"/><use href="#cloud"/>
<g fill="#b48cf0" fill-opacity="0.45"><circle cx="83.8" cy="31.5" r="2.5"/><circle cx="82.7" cy="41.3" r="2.5"/><circle cx="83.7" cy="31" r="2.5"/><circle cx="89.5" cy="23.5" r="2.5"/><circle cx="83.2" cy="37.7" r="2.5"/><circle cx="84.2" cy="26.9" r="2.5"/><circle cx="85" cy="33.7" r="2.5"/><circle cx="84.9" cy="34.1" r="2.5"/><circle cx="87.9" cy="29.2" r="2.5"/><circle cx="85.9" cy="30.1" r="2.5"/><circle cx="83.8" cy="28.4" r="2.5"/><circle cx="90.2" cy="29.7" r="2.5"/><circle cx="85.4" cy="33.3" r="2.5"/><circle cx="89.1" cy="34" r="2.5"/><circle cx="85.9" cy="29.4" r="2.5"/><circle cx="88.8" cy="32.8" r="2.5"/><circle cx="87.9" cy="31.9" r="2.5"/><circle cx="86.4" cy="34.4" r="2.5"/><circle cx="86.3" cy="39.6" r="2.5"/><circle cx="89.9" cy="23.1" r="2.5"/><circle cx="84.6" cy="42.4" r="2.5"/><circle cx="82.3" cy="34.1" r="2.5"/><circle cx="82.1" cy="38.2" r="2.5"/><circle cx="85.9" cy="37.8" r="2.5"/><circle cx="83.9" cy="41" r="2.5"/><circle cx="89" cy="27.9" r="2.5"/><circle cx="81.4" cy="37.3" r="2.5"/><circle cx="88.5" cy="23.3" r="2.5"/><circle cx="83.5" cy="36.5" r="2.5"/><circle cx="85" cy="32.2" r="2.5"/><circle cx="85.3" cy="34.8" r="2.5"/><circle cx="85.6" cy="35.8" r="2.5"/><circle cx="87.2" cy="29.5" r="2.5"/><circle cx="82.8" cy="37.7" r="2.5"/><circle cx="89.7" cy="22.9" r="2.5"/><circle cx="88.4" cy="32.2" r="2.5"/><circle cx="86.1" cy="27.8" r="2.5"/><circle cx="86.3" cy="36.2" r="2.5"/><circle cx="84.1" cy="35.7" r="2.5"/><circle cx="82.1" cy="42.9" r="2.5"/><circle cx="86.7" cy="23.6" r="2.5"/><circle cx="89.7" cy="22.9" r="2.5"/><circle cx="81.2" cy="37.7" r="2.5"/><circle cx="87.9" cy="36.3" r="2.5"/><circle cx="88.1" cy="29.9" r="2.5"/><circle cx="87.5" cy="23.5" r="2.5"/><circle cx="89.3" cy="31.9" r="2.5"/><circle cx="82.8" cy="31.7" r="2.5"/><circle cx="88" cy="33.8" r="2.5"/><circle cx="84.9" cy="27.3" r="2.5"/><circle cx="85.1" cy="36.9" r="2.5"/><circle cx="80.7" cy="40.7" r="2.5"/><circle cx="87.2" cy="37.7" r="2.5"/><circle cx="87.3" cy="29.6" r="2.5"/><circle cx="87.8" cy="23.2" r="2.5"/><circle cx="87.8" cy="35" r="2.5"/><circle cx="87.3" cy="35.7" r="2.5"/><circle cx="84.8" cy="27.9" r="2.5"/><circle cx="88.1" cy="24.1" r="2.5"/><circle cx="83.9" cy="30.5" r="2.5"/><circle cx="81.9" cy="34.9" r="2.5"/><circle cx="85.2" cy="39.2" r="2.5"/><circle cx="84.2" cy="43" r="2.5"/><circle cx="82.7" cy="33.4" r="2.5"/><circle cx="83.8" cy="41.3" r="2.5"/><circle cx="83.7" cy="32.5" r="2.5"/><circle cx="86.3" cy="27.7" r="2.5"/><circle cx="86.4" cy="23.4" r="2.5"/><circle cx="84.3" cy="28.1" r="2.5"/><circle cx="88.2" cy="34.8" r="2.5"/><circle cx="82.2" cy="34.2" r="2.5"/><circle cx="87.4" cy="35" r="2.5"/><circle cx="82" cy="42.8" r="2.5"/><circle cx="86.1" cy="27.8" r="2.5"/><circle cx="81.3" cy="36.4" r="2.5"/><circle cx="86.5" cy="22.6" r="2.5"/><circle cx="85.9" cy="23" r="2.5"/><circle cx="85.6" cy="23.1" r="2.5"/><circle cx="90.7" cy="20.6" r="2.5"/><circle cx="89.4" cy="20.8" r="2.5"/><circle cx="86.5" cy="23.5" r="2.5"/><circle cx="93.8" cy="25.9" r="2.5"/><circle cx="75" cy="45" r="2.5"/><circle cx="78.4" cy="49.1" r="2.5"/><circle cx="71" cy="51.8" r="2.5"/><circle cx="87.1" cy="47.7" r="2.5"/><circle cx="108" cy="53.8" r="2.5"/><circle cx="79" cy="50.4" r="2.5"/><circle cx="77.4" cy="44.8" r="2.5"/><circle cx="81.6" cy="43.2" r="2.5"/><circle cx="85.9" cy="44.8" r="2.5"/><circle cx="87" cy="47.2" r="2.5"/><circle cx="79.3" cy="47.9" r="2.5"/></g>
<g fill="#8020dc" fill-opacity="0.88"><circle cx="83.8" cy="31.5" r="1.15"/><circle cx="82.7" cy="41.3" r="1.15"/><circle cx="83.7" cy="31" r="1.15"/><circle cx="89.5" cy="23.5" r="1.15"/><circle cx="83.2" cy="37.7" r="1.15"/><circle cx="84.2" cy="26.9" r="1.15"/><circle cx="85" cy="33.7" r="1.15"/><circle cx="84.9" cy="34.1" r="1.15"/><circle cx="87.9" cy="29.2" r="1.15"/><circle cx="85.9" cy="30.1" r="1.15"/><circle cx="83.8" cy="28.4" r="1.15"/><circle cx="90.2" cy="29.7" r="1.15"/><circle cx="85.4" cy="33.3" r="1.15"/><circle cx="89.1" cy="34" r="1.15"/><circle cx="85.9" cy="29.4" r="1.15"/><circle cx="88.8" cy="32.8" r="1.15"/><circle cx="87.9" cy="31.9" r="1.15"/><circle cx="86.4" cy="34.4" r="1.15"/><circle cx="86.3" cy="39.6" r="1.15"/><circle cx="89.9" cy="23.1" r="1.15"/><circle cx="84.6" cy="42.4" r="1.15"/><circle cx="82.3" cy="34.1" r="1.15"/><circle cx="82.1" cy="38.2" r="1.15"/><circle cx="85.9" cy="37.8" r="1.15"/><circle cx="83.9" cy="41" r="1.15"/><circle cx="89" cy="27.9" r="1.15"/><circle cx="81.4" cy="37.3" r="1.15"/><circle cx="88.5" cy="23.3" r="1.15"/><circle cx="83.5" cy="36.5" r="1.15"/><circle cx="85" cy="32.2" r="1.15"/><circle cx="85.3" cy="34.8" r="1.15"/><circle cx="85.6" cy="35.8" r="1.15"/><circle cx="87.2" cy="29.5" r="1.15"/><circle cx="82.8" cy="37.7" r="1.15"/><circle cx="89.7" cy="22.9" r="1.15"/><circle cx="88.4" cy="32.2" r="1.15"/><circle cx="86.1" cy="27.8" r="1.15"/><circle cx="86.3" cy="36.2" r="1.15"/><circle cx="84.1" cy="35.7" r="1.15"/><circle cx="82.1" cy="42.9" r="1.15"/><circle cx="86.7" cy="23.6" r="1.15"/><circle cx="89.7" cy="22.9" r="1.15"/><circle cx="81.2" cy="37.7" r="1.15"/><circle cx="87.9" cy="36.3" r="1.15"/><circle cx="88.1" cy="29.9" r="1.15"/><circle cx="87.5" cy="23.5" r="1.15"/><circle cx="89.3" cy="31.9" r="1.15"/><circle cx="82.8" cy="31.7" r="1.15"/><circle cx="88" cy="33.8" r="1.15"/><circle cx="84.9" cy="27.3" r="1.15"/><circle cx="85.1" cy="36.9" r="1.15"/><circle cx="80.7" cy="40.7" r="1.15"/><circle cx="87.2" cy="37.7" r="1.15"/><circle cx="87.3" cy="29.6" r="1.15"/><circle cx="87.8" cy="23.2" r="1.15"/><circle cx="87.8" cy="35" r="1.15"/><circle cx="87.3" cy="35.7" r="1.15"/><circle cx="84.8" cy="27.9" r="1.15"/><circle cx="88.1" cy="24.1" r="1.15"/><circle cx="83.9" cy="30.5" r="1.15"/><circle cx="81.9" cy="34.9" r="1.15"/><circle cx="85.2" cy="39.2" r="1.15"/><circle cx="84.2" cy="43" r="1.15"/><circle cx="82.7" cy="33.4" r="1.15"/><circle cx="83.8" cy="41.3" r="1.15"/><circle cx="83.7" cy="32.5" r="1.15"/><circle cx="86.3" cy="27.7" r="1.15"/><circle cx="86.4" cy="23.4" r="1.15"/><circle cx="84.3" cy="28.1" r="1.15"/><circle cx="88.2" cy="34.8" r="1.15"/><circle cx="82.2" cy="34.2" r="1.15"/><circle cx="87.4" cy="35" r="1.15"/><circle cx="82" cy="42.8" r="1.15"/><circle cx="86.1" cy="27.8" r="1.15"/><circle cx="81.3" cy="36.4" r="1.15"/><circle cx="86.5" cy="22.6" r="1.15"/><circle cx="85.9" cy="23" r="1.15"/><circle cx="85.6" cy="23.1" r="1.15"/><circle cx="90.7" cy="20.6" r="1.15"/><circle cx="89.4" cy="20.8" r="1.15"/><circle cx="86.5" cy="23.5" r="1.15"/><circle cx="93.8" cy="25.9" r="1.15"/><circle cx="75" cy="45" r="1.15"/><circle cx="78.4" cy="49.1" r="1.15"/><circle cx="71" cy="51.8" r="1.15"/><circle cx="87.1" cy="47.7" r="1.15"/><circle cx="108" cy="53.8" r="1.15"/><circle cx="79" cy="50.4" r="1.15"/><circle cx="77.4" cy="44.8" r="1.15"/><circle cx="81.6" cy="43.2" r="1.15"/><circle cx="85.9" cy="44.8" r="1.15"/><circle cx="87" cy="47.2" r="1.15"/><circle cx="79.3" cy="47.9" r="1.15"/></g></g>
<text x="257.4" y="27.5" text-anchor="middle" class="t" transform="translate(257.4,0) scale(1.042,1) translate(-257.4,0)"><tspan dy="0">L</tspan><tspan class="sup" dy="-3.6">-</tspan><tspan dy="3.6">S</tspan><tspan class="sup" dy="-3.6">+</tspan><tspan dy="3.6">K</tspan><tspan class="sup" dy="-3.6">+</tspan><tspan dy="3.6">&#160;CD34</tspan><tspan class="sup" dy="-3.6">-</tspan><tspan dy="3.6">&#160;Flk2</tspan><tspan class="sup" dy="-3.6">-</tspan><tspan dy="3.6">&#160;CD48</tspan><tspan class="sup" dy="-3.6">-</tspan><tspan dy="3.6">&#160;CD150</tspan><tspan class="sup" dy="-3.6">+</tspan></text>
<g transform="translate(384.3,34)"><use href="#box"/><use href="#cloud"/>
<g fill="#b48cf0" fill-opacity="0.45"><circle cx="80.8" cy="38.4" r="2.5"/><circle cx="90.2" cy="37.3" r="2.5"/><circle cx="79.4" cy="42.8" r="2.5"/><circle cx="80.3" cy="44.7" r="2.5"/><circle cx="91.8" cy="36.7" r="2.5"/><circle cx="86.1" cy="27.1" r="2.5"/><circle cx="90" cy="27.3" r="2.5"/><circle cx="87.3" cy="45.5" r="2.5"/><circle cx="89.6" cy="28.9" r="2.5"/><circle cx="90.3" cy="40.9" r="2.5"/><circle cx="84.4" cy="42.3" r="2.5"/><circle cx="88.1" cy="35" r="2.5"/><circle cx="87.3" cy="32.2" r="2.5"/><circle cx="83.7" cy="44.7" r="2.5"/><circle cx="84.7" cy="42.3" r="2.5"/><circle cx="84.9" cy="30.4" r="2.5"/><circle cx="88.3" cy="27.8" r="2.5"/><circle cx="88.6" cy="39.3" r="2.5"/><circle cx="82.9" cy="31" r="2.5"/><circle cx="86.9" cy="35.1" r="2.5"/><circle cx="85" cy="46" r="2.5"/><circle cx="84.1" cy="43.5" r="2.5"/><circle cx="87.4" cy="28.6" r="2.5"/><circle cx="79.8" cy="39" r="2.5"/><circle cx="90" cy="31.3" r="2.5"/><circle cx="89.8" cy="43.6" r="2.5"/><circle cx="90.4" cy="31.5" r="2.5"/><circle cx="81.8" cy="46.3" r="2.5"/><circle cx="87.6" cy="27.6" r="2.5"/><circle cx="85" cy="45.2" r="2.5"/><circle cx="80" cy="44.5" r="2.5"/><circle cx="84.7" cy="28.2" r="2.5"/><circle cx="84.8" cy="30.7" r="2.5"/><circle cx="85.9" cy="39.1" r="2.5"/><circle cx="89.3" cy="28.5" r="2.5"/><circle cx="87.5" cy="27.7" r="2.5"/><circle cx="86.1" cy="43.1" r="2.5"/><circle cx="83.4" cy="43.4" r="2.5"/><circle cx="83.1" cy="34.6" r="2.5"/><circle cx="87.8" cy="37.5" r="2.5"/><circle cx="90.2" cy="45.9" r="2.5"/><circle cx="89.9" cy="31.1" r="2.5"/><circle cx="82.4" cy="36.4" r="2.5"/><circle cx="83.6" cy="37.8" r="2.5"/><circle cx="80.8" cy="40.7" r="2.5"/><circle cx="85.7" cy="27.5" r="2.5"/><circle cx="81.2" cy="45.7" r="2.5"/><circle cx="92.2" cy="44.6" r="2.5"/><circle cx="85.3" cy="46.7" r="2.5"/><circle cx="82" cy="41.4" r="2.5"/><circle cx="80.7" cy="43" r="2.5"/><circle cx="88.6" cy="36.3" r="2.5"/><circle cx="81.1" cy="39.7" r="2.5"/><circle cx="81.5" cy="29.2" r="2.5"/><circle cx="88.4" cy="39.7" r="2.5"/><circle cx="91.5" cy="43.4" r="2.5"/><circle cx="81.5" cy="32.7" r="2.5"/><circle cx="81.6" cy="36.6" r="2.5"/><circle cx="79.8" cy="44.3" r="2.5"/><circle cx="89.7" cy="43.1" r="2.5"/><circle cx="86.8" cy="45.2" r="2.5"/><circle cx="92" cy="43.5" r="2.5"/><circle cx="91.6" cy="30.9" r="2.5"/><circle cx="84.6" cy="27.7" r="2.5"/><circle cx="90.9" cy="36.2" r="2.5"/><circle cx="85.9" cy="44.3" r="2.5"/><circle cx="83.5" cy="39.1" r="2.5"/><circle cx="80.4" cy="40.4" r="2.5"/><circle cx="93.8" cy="36.9" r="2.5"/><circle cx="81.6" cy="38.2" r="2.5"/><circle cx="80.4" cy="36" r="2.5"/><circle cx="80.6" cy="35.1" r="2.5"/><circle cx="91.7" cy="41.7" r="2.5"/><circle cx="92.3" cy="35.9" r="2.5"/><circle cx="86.1" cy="27.6" r="2.5"/><circle cx="91.3" cy="38.2" r="2.5"/><circle cx="85.6" cy="29.5" r="2.5"/><circle cx="86.3" cy="27.8" r="2.5"/><circle cx="85.8" cy="29.3" r="2.5"/><circle cx="91.9" cy="39" r="2.5"/><circle cx="92.5" cy="37.8" r="2.5"/><circle cx="81.8" cy="32.2" r="2.5"/><circle cx="92.1" cy="38.5" r="2.5"/><circle cx="89.2" cy="39.5" r="2.5"/><circle cx="85.9" cy="43.8" r="2.5"/><circle cx="93.6" cy="38.6" r="2.5"/><circle cx="83.3" cy="27.5" r="2.5"/><circle cx="87.8" cy="34.9" r="2.5"/><circle cx="82.5" cy="26.8" r="2.5"/><circle cx="79.8" cy="43.1" r="2.5"/><circle cx="79.6" cy="38.3" r="2.5"/><circle cx="83.1" cy="39.1" r="2.5"/><circle cx="93.2" cy="41.8" r="2.5"/><circle cx="83.6" cy="38.9" r="2.5"/><circle cx="83.8" cy="42.1" r="2.5"/><circle cx="83.3" cy="44.3" r="2.5"/><circle cx="89.6" cy="44.8" r="2.5"/><circle cx="84.6" cy="46.1" r="2.5"/><circle cx="88.2" cy="31.8" r="2.5"/><circle cx="89.2" cy="32.9" r="2.5"/><circle cx="88.6" cy="31.5" r="2.5"/><circle cx="80.9" cy="42.4" r="2.5"/><circle cx="81.5" cy="42" r="2.5"/><circle cx="83.5" cy="33.9" r="2.5"/><circle cx="88.5" cy="45.7" r="2.5"/><circle cx="88.8" cy="38.4" r="2.5"/><circle cx="84.3" cy="34.3" r="2.5"/><circle cx="88" cy="31.6" r="2.5"/><circle cx="89.1" cy="44.2" r="2.5"/><circle cx="90.3" cy="31.1" r="2.5"/><circle cx="86" cy="43.9" r="2.5"/><circle cx="87.7" cy="37.1" r="2.5"/><circle cx="88.5" cy="37.8" r="2.5"/><circle cx="89.6" cy="37.9" r="2.5"/><circle cx="87.7" cy="31.3" r="2.5"/><circle cx="81.3" cy="35.5" r="2.5"/><circle cx="83.8" cy="38.3" r="2.5"/><circle cx="87.2" cy="35.8" r="2.5"/><circle cx="82.1" cy="42.7" r="2.5"/><circle cx="83.6" cy="30.7" r="2.5"/><circle cx="82.3" cy="28.1" r="2.5"/><circle cx="87.3" cy="30" r="2.5"/><circle cx="89.1" cy="38.8" r="2.5"/><circle cx="88.8" cy="36.3" r="2.5"/><circle cx="88.6" cy="32.6" r="2.5"/><circle cx="86.4" cy="40.6" r="2.5"/><circle cx="82.7" cy="41.5" r="2.5"/><circle cx="88.2" cy="46.5" r="2.5"/><circle cx="88.7" cy="37.8" r="2.5"/><circle cx="91" cy="32.4" r="2.5"/><circle cx="85" cy="35.4" r="2.5"/><circle cx="90.5" cy="41.2" r="2.5"/><circle cx="82.2" cy="46.1" r="2.5"/><circle cx="94.2" cy="36.7" r="2.5"/><circle cx="85.2" cy="28.3" r="2.5"/><circle cx="79.7" cy="38.6" r="2.5"/><circle cx="90.2" cy="39.1" r="2.5"/><circle cx="91.2" cy="35.4" r="2.5"/><circle cx="90.6" cy="38.9" r="2.5"/><circle cx="89" cy="37.7" r="2.5"/><circle cx="89.5" cy="38" r="2.5"/><circle cx="80.8" cy="40.3" r="2.5"/><circle cx="90" cy="35.3" r="2.5"/><circle cx="94" cy="36.4" r="2.5"/><circle cx="81.9" cy="37" r="2.5"/><circle cx="84.8" cy="29.9" r="2.5"/><circle cx="90.2" cy="30" r="2.5"/><circle cx="87.2" cy="46.9" r="2.5"/><circle cx="80.7" cy="44.1" r="2.5"/><circle cx="93.1" cy="35.7" r="2.5"/><circle cx="89" cy="35.9" r="2.5"/><circle cx="81.9" cy="33.8" r="2.5"/><circle cx="86.1" cy="44.3" r="2.5"/><circle cx="81.1" cy="37.6" r="2.5"/><circle cx="86.5" cy="37.8" r="2.5"/><circle cx="91.4" cy="38.8" r="2.5"/><circle cx="84.3" cy="46.1" r="2.5"/><circle cx="88.4" cy="32.1" r="2.5"/><circle cx="87.7" cy="44.3" r="2.5"/><circle cx="80.1" cy="39.8" r="2.5"/><circle cx="86.8" cy="32.4" r="2.5"/><circle cx="81.8" cy="31.3" r="2.5"/><circle cx="86" cy="35.1" r="2.5"/><circle cx="88.5" cy="32" r="2.5"/><circle cx="88.8" cy="36.2" r="2.5"/><circle cx="91.4" cy="43" r="2.5"/><circle cx="83" cy="46.5" r="2.5"/><circle cx="87.7" cy="33.4" r="2.5"/><circle cx="83.2" cy="41.1" r="2.5"/><circle cx="86" cy="40.5" r="2.5"/><circle cx="79.5" cy="50" r="2.5"/><circle cx="80" cy="55" r="2.5"/><circle cx="79" cy="60" r="2.5"/><circle cx="80.5" cy="64" r="2.5"/><circle cx="79.8" cy="68.5" r="2.5"/><circle cx="78.5" cy="71" r="2.5"/><circle cx="81" cy="52.5" r="2.5"/><circle cx="78.5" cy="57" r="2.5"/><circle cx="86.5" cy="24.2" r="2.5"/><circle cx="86.3" cy="24.2" r="2.5"/><circle cx="85" cy="23.2" r="2.5"/><circle cx="84.8" cy="22.7" r="2.5"/><circle cx="84.5" cy="22.8" r="2.5"/><circle cx="89.3" cy="22.7" r="2.5"/><circle cx="90.8" cy="24" r="2.5"/><circle cx="87.2" cy="23" r="2.5"/><circle cx="87.2" cy="22.6" r="2.5"/><circle cx="87.6" cy="23.1" r="2.5"/><circle cx="83.3" cy="23" r="2.5"/><circle cx="87.6" cy="23" r="2.5"/><circle cx="78.2" cy="50.6" r="2.5"/><circle cx="76.5" cy="53.5" r="2.5"/><circle cx="80.6" cy="49.7" r="2.5"/><circle cx="79.3" cy="47.5" r="2.5"/><circle cx="80.3" cy="48.3" r="2.5"/><circle cx="77.6" cy="53.2" r="2.5"/><circle cx="76.4" cy="50.7" r="2.5"/><circle cx="79.7" cy="49" r="2.5"/><circle cx="78.3" cy="53.6" r="2.5"/><circle cx="78.1" cy="48.4" r="2.5"/><circle cx="76.7" cy="49.9" r="2.5"/><circle cx="77.6" cy="52.3" r="2.5"/><circle cx="74.1" cy="50.4" r="2.5"/><circle cx="78" cy="54.7" r="2.5"/><circle cx="74.4" cy="48.1" r="2.5"/><circle cx="79.5" cy="50.4" r="2.5"/><circle cx="93.1" cy="26.4" r="2.5"/><circle cx="70.5" cy="51.9" r="2.5"/><circle cx="87.8" cy="56.7" r="2.5"/><circle cx="99.4" cy="49.5" r="2.5"/><circle cx="107" cy="55.3" r="2.5"/><circle cx="113.3" cy="54.3" r="2.5"/><circle cx="93.6" cy="60.5" r="2.5"/><circle cx="96.5" cy="46.1" r="2.5"/><circle cx="91.2" cy="49.5" r="2.5"/><circle cx="18.8" cy="1.9" r="2.5"/><circle cx="24.8" cy="11.3" r="2.5"/><circle cx="28.9" cy="14" r="2.5"/><circle cx="30.2" cy="16.7" r="2.5"/><circle cx="32.2" cy="20.1" r="2.5"/><circle cx="34.9" cy="23.4" r="2.5"/><circle cx="36.3" cy="25.4" r="2.5"/><circle cx="37.6" cy="28.8" r="2.5"/><circle cx="50.4" cy="47" r="2.5"/><circle cx="61.2" cy="49" r="2.5"/><circle cx="62.5" cy="50.3" r="2.5"/><circle cx="69.9" cy="51.7" r="2.5"/><circle cx="74" cy="45" r="2.5"/><circle cx="75.3" cy="48.3" r="2.5"/><circle cx="74" cy="61.8" r="2.5"/><circle cx="76.6" cy="54.4" r="2.5"/><circle cx="74.2" cy="46.1" r="2.5"/><circle cx="77.6" cy="51.9" r="2.5"/><circle cx="86.9" cy="51.9" r="2.5"/><circle cx="93.8" cy="49.6" r="2.5"/><circle cx="99.5" cy="51.9" r="2.5"/><circle cx="105.3" cy="54.2" r="2.5"/><circle cx="112.2" cy="53.7" r="2.5"/><circle cx="73" cy="61.1" r="2.5"/><circle cx="79.9" cy="60" r="2.5"/><circle cx="93.8" cy="61.1" r="2.5"/><circle cx="105.3" cy="62.3" r="2.5"/><circle cx="76.5" cy="69.2" r="2.5"/><circle cx="79.9" cy="70.4" r="2.5"/><circle cx="86.9" cy="71.5" r="2.5"/><circle cx="92.6" cy="71.5" r="2.5"/><circle cx="103" cy="73.8" r="2.5"/><circle cx="75.3" cy="65.7" r="2.5"/><circle cx="84.6" cy="63.4" r="2.5"/><circle cx="26.9" cy="12.7" r="2.5"/><circle cx="40.7" cy="32.3" r="2.5"/><circle cx="44.2" cy="35.7" r="2.5"/><circle cx="48.8" cy="40.3" r="2.5"/></g>
<g fill="#8020dc" fill-opacity="0.88"><circle cx="80.8" cy="38.4" r="1.15"/><circle cx="90.2" cy="37.3" r="1.15"/><circle cx="79.4" cy="42.8" r="1.15"/><circle cx="80.3" cy="44.7" r="1.15"/><circle cx="91.8" cy="36.7" r="1.15"/><circle cx="86.1" cy="27.1" r="1.15"/><circle cx="90" cy="27.3" r="1.15"/><circle cx="87.3" cy="45.5" r="1.15"/><circle cx="89.6" cy="28.9" r="1.15"/><circle cx="90.3" cy="40.9" r="1.15"/><circle cx="84.4" cy="42.3" r="1.15"/><circle cx="88.1" cy="35" r="1.15"/><circle cx="87.3" cy="32.2" r="1.15"/><circle cx="83.7" cy="44.7" r="1.15"/><circle cx="84.7" cy="42.3" r="1.15"/><circle cx="84.9" cy="30.4" r="1.15"/><circle cx="88.3" cy="27.8" r="1.15"/><circle cx="88.6" cy="39.3" r="1.15"/><circle cx="82.9" cy="31" r="1.15"/><circle cx="86.9" cy="35.1" r="1.15"/><circle cx="85" cy="46" r="1.15"/><circle cx="84.1" cy="43.5" r="1.15"/><circle cx="87.4" cy="28.6" r="1.15"/><circle cx="79.8" cy="39" r="1.15"/><circle cx="90" cy="31.3" r="1.15"/><circle cx="89.8" cy="43.6" r="1.15"/><circle cx="90.4" cy="31.5" r="1.15"/><circle cx="81.8" cy="46.3" r="1.15"/><circle cx="87.6" cy="27.6" r="1.15"/><circle cx="85" cy="45.2" r="1.15"/><circle cx="80" cy="44.5" r="1.15"/><circle cx="84.7" cy="28.2" r="1.15"/><circle cx="84.8" cy="30.7" r="1.15"/><circle cx="85.9" cy="39.1" r="1.15"/><circle cx="89.3" cy="28.5" r="1.15"/><circle cx="87.5" cy="27.7" r="1.15"/><circle cx="86.1" cy="43.1" r="1.15"/><circle cx="83.4" cy="43.4" r="1.15"/><circle cx="83.1" cy="34.6" r="1.15"/><circle cx="87.8" cy="37.5" r="1.15"/><circle cx="90.2" cy="45.9" r="1.15"/><circle cx="89.9" cy="31.1" r="1.15"/><circle cx="82.4" cy="36.4" r="1.15"/><circle cx="83.6" cy="37.8" r="1.15"/><circle cx="80.8" cy="40.7" r="1.15"/><circle cx="85.7" cy="27.5" r="1.15"/><circle cx="81.2" cy="45.7" r="1.15"/><circle cx="92.2" cy="44.6" r="1.15"/><circle cx="85.3" cy="46.7" r="1.15"/><circle cx="82" cy="41.4" r="1.15"/><circle cx="80.7" cy="43" r="1.15"/><circle cx="88.6" cy="36.3" r="1.15"/><circle cx="81.1" cy="39.7" r="1.15"/><circle cx="81.5" cy="29.2" r="1.15"/><circle cx="88.4" cy="39.7" r="1.15"/><circle cx="91.5" cy="43.4" r="1.15"/><circle cx="81.5" cy="32.7" r="1.15"/><circle cx="81.6" cy="36.6" r="1.15"/><circle cx="79.8" cy="44.3" r="1.15"/><circle cx="89.7" cy="43.1" r="1.15"/><circle cx="86.8" cy="45.2" r="1.15"/><circle cx="92" cy="43.5" r="1.15"/><circle cx="91.6" cy="30.9" r="1.15"/><circle cx="84.6" cy="27.7" r="1.15"/><circle cx="90.9" cy="36.2" r="1.15"/><circle cx="85.9" cy="44.3" r="1.15"/><circle cx="83.5" cy="39.1" r="1.15"/><circle cx="80.4" cy="40.4" r="1.15"/><circle cx="93.8" cy="36.9" r="1.15"/><circle cx="81.6" cy="38.2" r="1.15"/><circle cx="80.4" cy="36" r="1.15"/><circle cx="80.6" cy="35.1" r="1.15"/><circle cx="91.7" cy="41.7" r="1.15"/><circle cx="92.3" cy="35.9" r="1.15"/><circle cx="86.1" cy="27.6" r="1.15"/><circle cx="91.3" cy="38.2" r="1.15"/><circle cx="85.6" cy="29.5" r="1.15"/><circle cx="86.3" cy="27.8" r="1.15"/><circle cx="85.8" cy="29.3" r="1.15"/><circle cx="91.9" cy="39" r="1.15"/><circle cx="92.5" cy="37.8" r="1.15"/><circle cx="81.8" cy="32.2" r="1.15"/><circle cx="92.1" cy="38.5" r="1.15"/><circle cx="89.2" cy="39.5" r="1.15"/><circle cx="85.9" cy="43.8" r="1.15"/><circle cx="93.6" cy="38.6" r="1.15"/><circle cx="83.3" cy="27.5" r="1.15"/><circle cx="87.8" cy="34.9" r="1.15"/><circle cx="82.5" cy="26.8" r="1.15"/><circle cx="79.8" cy="43.1" r="1.15"/><circle cx="79.6" cy="38.3" r="1.15"/><circle cx="83.1" cy="39.1" r="1.15"/><circle cx="93.2" cy="41.8" r="1.15"/><circle cx="83.6" cy="38.9" r="1.15"/><circle cx="83.8" cy="42.1" r="1.15"/><circle cx="83.3" cy="44.3" r="1.15"/><circle cx="89.6" cy="44.8" r="1.15"/><circle cx="84.6" cy="46.1" r="1.15"/><circle cx="88.2" cy="31.8" r="1.15"/><circle cx="89.2" cy="32.9" r="1.15"/><circle cx="88.6" cy="31.5" r="1.15"/><circle cx="80.9" cy="42.4" r="1.15"/><circle cx="81.5" cy="42" r="1.15"/><circle cx="83.5" cy="33.9" r="1.15"/><circle cx="88.5" cy="45.7" r="1.15"/><circle cx="88.8" cy="38.4" r="1.15"/><circle cx="84.3" cy="34.3" r="1.15"/><circle cx="88" cy="31.6" r="1.15"/><circle cx="89.1" cy="44.2" r="1.15"/><circle cx="90.3" cy="31.1" r="1.15"/><circle cx="86" cy="43.9" r="1.15"/><circle cx="87.7" cy="37.1" r="1.15"/><circle cx="88.5" cy="37.8" r="1.15"/><circle cx="89.6" cy="37.9" r="1.15"/><circle cx="87.7" cy="31.3" r="1.15"/><circle cx="81.3" cy="35.5" r="1.15"/><circle cx="83.8" cy="38.3" r="1.15"/><circle cx="87.2" cy="35.8" r="1.15"/><circle cx="82.1" cy="42.7" r="1.15"/><circle cx="83.6" cy="30.7" r="1.15"/><circle cx="82.3" cy="28.1" r="1.15"/><circle cx="87.3" cy="30" r="1.15"/><circle cx="89.1" cy="38.8" r="1.15"/><circle cx="88.8" cy="36.3" r="1.15"/><circle cx="88.6" cy="32.6" r="1.15"/><circle cx="86.4" cy="40.6" r="1.15"/><circle cx="82.7" cy="41.5" r="1.15"/><circle cx="88.2" cy="46.5" r="1.15"/><circle cx="88.7" cy="37.8" r="1.15"/><circle cx="91" cy="32.4" r="1.15"/><circle cx="85" cy="35.4" r="1.15"/><circle cx="90.5" cy="41.2" r="1.15"/><circle cx="82.2" cy="46.1" r="1.15"/><circle cx="94.2" cy="36.7" r="1.15"/><circle cx="85.2" cy="28.3" r="1.15"/><circle cx="79.7" cy="38.6" r="1.15"/><circle cx="90.2" cy="39.1" r="1.15"/><circle cx="91.2" cy="35.4" r="1.15"/><circle cx="90.6" cy="38.9" r="1.15"/><circle cx="89" cy="37.7" r="1.15"/><circle cx="89.5" cy="38" r="1.15"/><circle cx="80.8" cy="40.3" r="1.15"/><circle cx="90" cy="35.3" r="1.15"/><circle cx="94" cy="36.4" r="1.15"/><circle cx="81.9" cy="37" r="1.15"/><circle cx="84.8" cy="29.9" r="1.15"/><circle cx="90.2" cy="30" r="1.15"/><circle cx="87.2" cy="46.9" r="1.15"/><circle cx="80.7" cy="44.1" r="1.15"/><circle cx="93.1" cy="35.7" r="1.15"/><circle cx="89" cy="35.9" r="1.15"/><circle cx="81.9" cy="33.8" r="1.15"/><circle cx="86.1" cy="44.3" r="1.15"/><circle cx="81.1" cy="37.6" r="1.15"/><circle cx="86.5" cy="37.8" r="1.15"/><circle cx="91.4" cy="38.8" r="1.15"/><circle cx="84.3" cy="46.1" r="1.15"/><circle cx="88.4" cy="32.1" r="1.15"/><circle cx="87.7" cy="44.3" r="1.15"/><circle cx="80.1" cy="39.8" r="1.15"/><circle cx="86.8" cy="32.4" r="1.15"/><circle cx="81.8" cy="31.3" r="1.15"/><circle cx="86" cy="35.1" r="1.15"/><circle cx="88.5" cy="32" r="1.15"/><circle cx="88.8" cy="36.2" r="1.15"/><circle cx="91.4" cy="43" r="1.15"/><circle cx="83" cy="46.5" r="1.15"/><circle cx="87.7" cy="33.4" r="1.15"/><circle cx="83.2" cy="41.1" r="1.15"/><circle cx="86" cy="40.5" r="1.15"/><circle cx="79.5" cy="50" r="1.15"/><circle cx="80" cy="55" r="1.15"/><circle cx="79" cy="60" r="1.15"/><circle cx="80.5" cy="64" r="1.15"/><circle cx="79.8" cy="68.5" r="1.15"/><circle cx="78.5" cy="71" r="1.15"/><circle cx="81" cy="52.5" r="1.15"/><circle cx="78.5" cy="57" r="1.15"/><circle cx="86.5" cy="24.2" r="1.15"/><circle cx="86.3" cy="24.2" r="1.15"/><circle cx="85" cy="23.2" r="1.15"/><circle cx="84.8" cy="22.7" r="1.15"/><circle cx="84.5" cy="22.8" r="1.15"/><circle cx="89.3" cy="22.7" r="1.15"/><circle cx="90.8" cy="24" r="1.15"/><circle cx="87.2" cy="23" r="1.15"/><circle cx="87.2" cy="22.6" r="1.15"/><circle cx="87.6" cy="23.1" r="1.15"/><circle cx="83.3" cy="23" r="1.15"/><circle cx="87.6" cy="23" r="1.15"/><circle cx="78.2" cy="50.6" r="1.15"/><circle cx="76.5" cy="53.5" r="1.15"/><circle cx="80.6" cy="49.7" r="1.15"/><circle cx="79.3" cy="47.5" r="1.15"/><circle cx="80.3" cy="48.3" r="1.15"/><circle cx="77.6" cy="53.2" r="1.15"/><circle cx="76.4" cy="50.7" r="1.15"/><circle cx="79.7" cy="49" r="1.15"/><circle cx="78.3" cy="53.6" r="1.15"/><circle cx="78.1" cy="48.4" r="1.15"/><circle cx="76.7" cy="49.9" r="1.15"/><circle cx="77.6" cy="52.3" r="1.15"/><circle cx="74.1" cy="50.4" r="1.15"/><circle cx="78" cy="54.7" r="1.15"/><circle cx="74.4" cy="48.1" r="1.15"/><circle cx="79.5" cy="50.4" r="1.15"/><circle cx="93.1" cy="26.4" r="1.15"/><circle cx="70.5" cy="51.9" r="1.15"/><circle cx="87.8" cy="56.7" r="1.15"/><circle cx="99.4" cy="49.5" r="1.15"/><circle cx="107" cy="55.3" r="1.15"/><circle cx="113.3" cy="54.3" r="1.15"/><circle cx="93.6" cy="60.5" r="1.15"/><circle cx="96.5" cy="46.1" r="1.15"/><circle cx="91.2" cy="49.5" r="1.15"/><circle cx="18.8" cy="1.9" r="1.15"/><circle cx="24.8" cy="11.3" r="1.15"/><circle cx="28.9" cy="14" r="1.15"/><circle cx="30.2" cy="16.7" r="1.15"/><circle cx="32.2" cy="20.1" r="1.15"/><circle cx="34.9" cy="23.4" r="1.15"/><circle cx="36.3" cy="25.4" r="1.15"/><circle cx="37.6" cy="28.8" r="1.15"/><circle cx="50.4" cy="47" r="1.15"/><circle cx="61.2" cy="49" r="1.15"/><circle cx="62.5" cy="50.3" r="1.15"/><circle cx="69.9" cy="51.7" r="1.15"/><circle cx="74" cy="45" r="1.15"/><circle cx="75.3" cy="48.3" r="1.15"/><circle cx="74" cy="61.8" r="1.15"/><circle cx="76.6" cy="54.4" r="1.15"/><circle cx="74.2" cy="46.1" r="1.15"/><circle cx="77.6" cy="51.9" r="1.15"/><circle cx="86.9" cy="51.9" r="1.15"/><circle cx="93.8" cy="49.6" r="1.15"/><circle cx="99.5" cy="51.9" r="1.15"/><circle cx="105.3" cy="54.2" r="1.15"/><circle cx="112.2" cy="53.7" r="1.15"/><circle cx="73" cy="61.1" r="1.15"/><circle cx="79.9" cy="60" r="1.15"/><circle cx="93.8" cy="61.1" r="1.15"/><circle cx="105.3" cy="62.3" r="1.15"/><circle cx="76.5" cy="69.2" r="1.15"/><circle cx="79.9" cy="70.4" r="1.15"/><circle cx="86.9" cy="71.5" r="1.15"/><circle cx="92.6" cy="71.5" r="1.15"/><circle cx="103" cy="73.8" r="1.15"/><circle cx="75.3" cy="65.7" r="1.15"/><circle cx="84.6" cy="63.4" r="1.15"/><circle cx="26.9" cy="12.7" r="1.15"/><circle cx="40.7" cy="32.3" r="1.15"/><circle cx="44.2" cy="35.7" r="1.15"/><circle cx="48.8" cy="40.3" r="1.15"/></g></g>
<text x="449" y="27.6" text-anchor="middle" class="t">LT-HSC</text>
<g transform="translate(21.4,183.1)"><use href="#box"/><use href="#cloud"/>
<g fill="#b48cf0" fill-opacity="0.45"><circle cx="90.8" cy="34.9" r="2.5"/><circle cx="86.4" cy="34.9" r="2.5"/><circle cx="91.1" cy="36.8" r="2.5"/><circle cx="88.5" cy="35.4" r="2.5"/><circle cx="90.7" cy="36.6" r="2.5"/><circle cx="88.7" cy="36.8" r="2.5"/><circle cx="88.3" cy="32.3" r="2.5"/><circle cx="90.3" cy="38" r="2.5"/><circle cx="91.5" cy="34.9" r="2.5"/><circle cx="85.1" cy="36.1" r="2.5"/><circle cx="86.6" cy="30.4" r="2.5"/><circle cx="88.4" cy="33.2" r="2.5"/><circle cx="88.2" cy="33.9" r="2.5"/><circle cx="90.1" cy="37.1" r="2.5"/><circle cx="89.3" cy="37.9" r="2.5"/><circle cx="86.7" cy="40.9" r="2.5"/><circle cx="83.8" cy="36.9" r="2.5"/><circle cx="90.6" cy="34.1" r="2.5"/><circle cx="88.3" cy="32.1" r="2.5"/><circle cx="87" cy="35.8" r="2.5"/><circle cx="80.1" cy="38.1" r="2.5"/><circle cx="85.9" cy="45.1" r="2.5"/><circle cx="83.7" cy="50.3" r="2.5"/><circle cx="83.3" cy="59.4" r="2.5"/><circle cx="94.2" cy="49.8" r="2.5"/><circle cx="85.7" cy="50.7" r="2.5"/><circle cx="87.1" cy="45.2" r="2.5"/><circle cx="86" cy="54.1" r="2.5"/><circle cx="83.5" cy="46.9" r="2.5"/><circle cx="85.2" cy="44" r="2.5"/><circle cx="88.3" cy="41.5" r="2.5"/><circle cx="93.9" cy="54.8" r="2.5"/><circle cx="89.5" cy="56.5" r="2.5"/><circle cx="93.4" cy="47" r="2.5"/><circle cx="87.6" cy="46.4" r="2.5"/><circle cx="86.3" cy="48.2" r="2.5"/><circle cx="89.6" cy="54.1" r="2.5"/><circle cx="99.5" cy="51" r="2.5"/><circle cx="92.8" cy="48.2" r="2.5"/><circle cx="96.6" cy="50" r="2.5"/><circle cx="87.4" cy="48.8" r="2.5"/><circle cx="88.2" cy="47.8" r="2.5"/><circle cx="91.6" cy="62.6" r="2.5"/><circle cx="88" cy="45.3" r="2.5"/><circle cx="79.6" cy="51.4" r="2.5"/><circle cx="82.8" cy="46.1" r="2.5"/><circle cx="89.7" cy="52.8" r="2.5"/><circle cx="92.2" cy="58.1" r="2.5"/><circle cx="83.2" cy="46.8" r="2.5"/><circle cx="83.1" cy="44.3" r="2.5"/><circle cx="84.4" cy="45.3" r="2.5"/><circle cx="90.5" cy="42.6" r="2.5"/><circle cx="96.5" cy="34.5" r="2.5"/><circle cx="90.6" cy="39" r="2.5"/><circle cx="84.7" cy="42.5" r="2.5"/><circle cx="89.1" cy="53.8" r="2.5"/><circle cx="85.7" cy="46.3" r="2.5"/><circle cx="82.7" cy="45.5" r="2.5"/><circle cx="83.6" cy="46.5" r="2.5"/><circle cx="89.8" cy="56.5" r="2.5"/><circle cx="82.7" cy="37.1" r="2.5"/><circle cx="87.7" cy="56.4" r="2.5"/><circle cx="84" cy="53.8" r="2.5"/><circle cx="81.4" cy="42.7" r="2.5"/><circle cx="87.2" cy="37.5" r="2.5"/><circle cx="83.2" cy="32.1" r="2.5"/><circle cx="83.9" cy="53.8" r="2.5"/><circle cx="85.1" cy="45.9" r="2.5"/><circle cx="89.8" cy="43.6" r="2.5"/><circle cx="82.4" cy="48.5" r="2.5"/><circle cx="88.2" cy="51.4" r="2.5"/><circle cx="88.9" cy="58.6" r="2.5"/><circle cx="90.8" cy="48.9" r="2.5"/><circle cx="97.4" cy="37.7" r="2.5"/><circle cx="88.5" cy="44.8" r="2.5"/><circle cx="98.9" cy="50.5" r="2.5"/><circle cx="92.7" cy="52.3" r="2.5"/><circle cx="94.6" cy="45.3" r="2.5"/><circle cx="90.5" cy="37.8" r="2.5"/><circle cx="92.4" cy="57.6" r="2.5"/><circle cx="93.2" cy="53.7" r="2.5"/><circle cx="79.5" cy="52.4" r="2.5"/><circle cx="88.5" cy="61" r="2.5"/><circle cx="91.6" cy="54.3" r="2.5"/><circle cx="95.2" cy="52.8" r="2.5"/><circle cx="80.8" cy="45.9" r="2.5"/><circle cx="79.8" cy="60.3" r="2.5"/><circle cx="85.8" cy="41.6" r="2.5"/><circle cx="90.1" cy="46.9" r="2.5"/><circle cx="88.4" cy="59.5" r="2.5"/><circle cx="76.7" cy="41.9" r="2.5"/><circle cx="87.5" cy="48.6" r="2.5"/><circle cx="93.2" cy="46.9" r="2.5"/><circle cx="92.8" cy="61.6" r="2.5"/><circle cx="80" cy="41.6" r="2.5"/><circle cx="84.6" cy="49.4" r="2.5"/><circle cx="83.3" cy="52.9" r="2.5"/><circle cx="85.9" cy="58.7" r="2.5"/><circle cx="91.5" cy="54.5" r="2.5"/><circle cx="89.5" cy="51.5" r="2.5"/><circle cx="80.2" cy="50.1" r="2.5"/><circle cx="81.4" cy="60.8" r="2.5"/><circle cx="81.7" cy="44.9" r="2.5"/><circle cx="88.7" cy="65.7" r="2.5"/><circle cx="85" cy="62.7" r="2.5"/><circle cx="92" cy="67.9" r="2.5"/><circle cx="86.5" cy="46.7" r="2.5"/><circle cx="87.4" cy="46.5" r="2.5"/><circle cx="85.7" cy="55.7" r="2.5"/><circle cx="87.2" cy="56.7" r="2.5"/><circle cx="92.2" cy="56.1" r="2.5"/><circle cx="97" cy="56.2" r="2.5"/><circle cx="85.4" cy="60.2" r="2.5"/><circle cx="78" cy="61" r="2.5"/><circle cx="92.8" cy="41.9" r="2.5"/><circle cx="92.1" cy="36.3" r="2.5"/><circle cx="92.6" cy="46.6" r="2.5"/><circle cx="86.7" cy="49.3" r="2.5"/><circle cx="86.4" cy="55.8" r="2.5"/><circle cx="88" cy="50" r="2.5"/><circle cx="88.1" cy="47.7" r="2.5"/><circle cx="84.2" cy="55.2" r="2.5"/><circle cx="90.8" cy="41.4" r="2.5"/><circle cx="94.4" cy="58.1" r="2.5"/><circle cx="90.9" cy="60.2" r="2.5"/><circle cx="79.6" cy="61.5" r="2.5"/><circle cx="85.1" cy="52.9" r="2.5"/><circle cx="86.9" cy="67.9" r="2.5"/><circle cx="87.1" cy="55.2" r="2.5"/><circle cx="80.9" cy="49.5" r="2.5"/><circle cx="90.2" cy="49.1" r="2.5"/><circle cx="86.5" cy="61.1" r="2.5"/><circle cx="81" cy="52.2" r="2.5"/><circle cx="87" cy="47.9" r="2.5"/><circle cx="91.7" cy="51.4" r="2.5"/><circle cx="88.2" cy="54.9" r="2.5"/><circle cx="88.5" cy="54" r="2.5"/><circle cx="94.7" cy="50.9" r="2.5"/><circle cx="87.9" cy="46.3" r="2.5"/><circle cx="96.2" cy="55.7" r="2.5"/><circle cx="91.2" cy="51.9" r="2.5"/><circle cx="84.4" cy="51.6" r="2.5"/><circle cx="88.3" cy="42.1" r="2.5"/><circle cx="83.6" cy="50.3" r="2.5"/><circle cx="97.9" cy="51.2" r="2.5"/><circle cx="82.9" cy="60.2" r="2.5"/><circle cx="93.4" cy="54.4" r="2.5"/><circle cx="85.6" cy="50" r="2.5"/><circle cx="100.1" cy="56.2" r="2.5"/><circle cx="108" cy="33.9" r="2.5"/><circle cx="80.2" cy="48.7" r="2.5"/><circle cx="83.1" cy="46.5" r="2.5"/><circle cx="93.4" cy="58.9" r="2.5"/><circle cx="82.2" cy="55.5" r="2.5"/><circle cx="92.7" cy="51.3" r="2.5"/><circle cx="96.2" cy="57.2" r="2.5"/><circle cx="84.6" cy="52" r="2.5"/><circle cx="88.2" cy="41.9" r="2.5"/><circle cx="88.5" cy="57.6" r="2.5"/><circle cx="90.2" cy="50.2" r="2.5"/><circle cx="101.5" cy="52.5" r="2.5"/><circle cx="91.9" cy="43.6" r="2.5"/><circle cx="93.7" cy="46.3" r="2.5"/><circle cx="87" cy="47.6" r="2.5"/><circle cx="82.9" cy="55.4" r="2.5"/><circle cx="83.5" cy="57.1" r="2.5"/><circle cx="86" cy="59.8" r="2.5"/><circle cx="91.4" cy="58.2" r="2.5"/><circle cx="83.8" cy="55.2" r="2.5"/><circle cx="92.3" cy="51.7" r="2.5"/><circle cx="85.4" cy="63.6" r="2.5"/><circle cx="70.1" cy="67.9" r="2.5"/><circle cx="79.7" cy="61.9" r="2.5"/><circle cx="87.7" cy="55.6" r="2.5"/><circle cx="82.2" cy="68.6" r="2.5"/><circle cx="86" cy="65.1" r="2.5"/><circle cx="82.1" cy="66.6" r="2.5"/><circle cx="78.4" cy="63.7" r="2.5"/><circle cx="89.8" cy="62.4" r="2.5"/><circle cx="85.3" cy="64.5" r="2.5"/><circle cx="79.8" cy="58.2" r="2.5"/><circle cx="81.7" cy="62.9" r="2.5"/><circle cx="80.9" cy="65.7" r="2.5"/><circle cx="87.4" cy="68.4" r="2.5"/><circle cx="87.7" cy="61.4" r="2.5"/><circle cx="92.7" cy="67.3" r="2.5"/><circle cx="89.5" cy="60.9" r="2.5"/><circle cx="91.2" cy="74.9" r="2.5"/><circle cx="88.5" cy="70.3" r="2.5"/><circle cx="83.1" cy="66.6" r="2.5"/><circle cx="85.7" cy="68.6" r="2.5"/><circle cx="86.7" cy="67" r="2.5"/><circle cx="81.5" cy="61.3" r="2.5"/><circle cx="85.9" cy="75.8" r="2.5"/><circle cx="81.1" cy="68" r="2.5"/><circle cx="92.5" cy="63.4" r="2.5"/><circle cx="77.9" cy="67.4" r="2.5"/><circle cx="85.7" cy="62.6" r="2.5"/><circle cx="93.3" cy="68.8" r="2.5"/><circle cx="85.9" cy="60.6" r="2.5"/><circle cx="104.1" cy="60.5" r="2.5"/><circle cx="102" cy="63" r="2.5"/><circle cx="92.9" cy="50.1" r="2.5"/><circle cx="102.2" cy="57.2" r="2.5"/><circle cx="97.7" cy="52.6" r="2.5"/><circle cx="103" cy="56.2" r="2.5"/><circle cx="102.2" cy="49.4" r="2.5"/><circle cx="98.3" cy="57" r="2.5"/><circle cx="103" cy="46.8" r="2.5"/><circle cx="97" cy="51.8" r="2.5"/><circle cx="98" cy="54.3" r="2.5"/><circle cx="100.1" cy="58.9" r="2.5"/><circle cx="99.3" cy="54.6" r="2.5"/><circle cx="102.3" cy="61.9" r="2.5"/><circle cx="98.3" cy="51.1" r="2.5"/><circle cx="106.7" cy="59.5" r="2.5"/><circle cx="108.7" cy="53" r="2.5"/><circle cx="96.1" cy="54.2" r="2.5"/><circle cx="97.6" cy="47.8" r="2.5"/><circle cx="102.1" cy="47.6" r="2.5"/><circle cx="84.3" cy="54.8" r="2.5"/><circle cx="92.7" cy="56.3" r="2.5"/><circle cx="92.3" cy="48.3" r="2.5"/><circle cx="87.9" cy="48.8" r="2.5"/><circle cx="96.6" cy="65.5" r="2.5"/><circle cx="101.3" cy="51.8" r="2.5"/><circle cx="104.7" cy="56.2" r="2.5"/><circle cx="88.7" cy="46.3" r="2.5"/><circle cx="90.5" cy="52.1" r="2.5"/><circle cx="98.2" cy="52" r="2.5"/><circle cx="58" cy="51.8" r="2.5"/><circle cx="70.1" cy="52.5" r="2.5"/><circle cx="63.4" cy="55.8" r="2.5"/><circle cx="68.8" cy="63.9" r="2.5"/><circle cx="76.2" cy="48.4" r="2.5"/><circle cx="107.8" cy="51.8" r="2.5"/><circle cx="113.9" cy="59.2" r="2.5"/><circle cx="109.8" cy="63.9" r="2.5"/><circle cx="105.1" cy="65.9" r="2.5"/><circle cx="101.1" cy="74" r="2.5"/><circle cx="92.3" cy="70" r="2.5"/><circle cx="75.5" cy="76.7" r="2.5"/><circle cx="76.9" cy="79.4" r="2.5"/></g>
<g fill="#8020dc" fill-opacity="0.88"><circle cx="90.8" cy="34.9" r="1.15"/><circle cx="86.4" cy="34.9" r="1.15"/><circle cx="91.1" cy="36.8" r="1.15"/><circle cx="88.5" cy="35.4" r="1.15"/><circle cx="90.7" cy="36.6" r="1.15"/><circle cx="88.7" cy="36.8" r="1.15"/><circle cx="88.3" cy="32.3" r="1.15"/><circle cx="90.3" cy="38" r="1.15"/><circle cx="91.5" cy="34.9" r="1.15"/><circle cx="85.1" cy="36.1" r="1.15"/><circle cx="86.6" cy="30.4" r="1.15"/><circle cx="88.4" cy="33.2" r="1.15"/><circle cx="88.2" cy="33.9" r="1.15"/><circle cx="90.1" cy="37.1" r="1.15"/><circle cx="89.3" cy="37.9" r="1.15"/><circle cx="86.7" cy="40.9" r="1.15"/><circle cx="83.8" cy="36.9" r="1.15"/><circle cx="90.6" cy="34.1" r="1.15"/><circle cx="88.3" cy="32.1" r="1.15"/><circle cx="87" cy="35.8" r="1.15"/><circle cx="80.1" cy="38.1" r="1.15"/><circle cx="85.9" cy="45.1" r="1.15"/><circle cx="83.7" cy="50.3" r="1.15"/><circle cx="83.3" cy="59.4" r="1.15"/><circle cx="94.2" cy="49.8" r="1.15"/><circle cx="85.7" cy="50.7" r="1.15"/><circle cx="87.1" cy="45.2" r="1.15"/><circle cx="86" cy="54.1" r="1.15"/><circle cx="83.5" cy="46.9" r="1.15"/><circle cx="85.2" cy="44" r="1.15"/><circle cx="88.3" cy="41.5" r="1.15"/><circle cx="93.9" cy="54.8" r="1.15"/><circle cx="89.5" cy="56.5" r="1.15"/><circle cx="93.4" cy="47" r="1.15"/><circle cx="87.6" cy="46.4" r="1.15"/><circle cx="86.3" cy="48.2" r="1.15"/><circle cx="89.6" cy="54.1" r="1.15"/><circle cx="99.5" cy="51" r="1.15"/><circle cx="92.8" cy="48.2" r="1.15"/><circle cx="96.6" cy="50" r="1.15"/><circle cx="87.4" cy="48.8" r="1.15"/><circle cx="88.2" cy="47.8" r="1.15"/><circle cx="91.6" cy="62.6" r="1.15"/><circle cx="88" cy="45.3" r="1.15"/><circle cx="79.6" cy="51.4" r="1.15"/><circle cx="82.8" cy="46.1" r="1.15"/><circle cx="89.7" cy="52.8" r="1.15"/><circle cx="92.2" cy="58.1" r="1.15"/><circle cx="83.2" cy="46.8" r="1.15"/><circle cx="83.1" cy="44.3" r="1.15"/><circle cx="84.4" cy="45.3" r="1.15"/><circle cx="90.5" cy="42.6" r="1.15"/><circle cx="96.5" cy="34.5" r="1.15"/><circle cx="90.6" cy="39" r="1.15"/><circle cx="84.7" cy="42.5" r="1.15"/><circle cx="89.1" cy="53.8" r="1.15"/><circle cx="85.7" cy="46.3" r="1.15"/><circle cx="82.7" cy="45.5" r="1.15"/><circle cx="83.6" cy="46.5" r="1.15"/><circle cx="89.8" cy="56.5" r="1.15"/><circle cx="82.7" cy="37.1" r="1.15"/><circle cx="87.7" cy="56.4" r="1.15"/><circle cx="84" cy="53.8" r="1.15"/><circle cx="81.4" cy="42.7" r="1.15"/><circle cx="87.2" cy="37.5" r="1.15"/><circle cx="83.2" cy="32.1" r="1.15"/><circle cx="83.9" cy="53.8" r="1.15"/><circle cx="85.1" cy="45.9" r="1.15"/><circle cx="89.8" cy="43.6" r="1.15"/><circle cx="82.4" cy="48.5" r="1.15"/><circle cx="88.2" cy="51.4" r="1.15"/><circle cx="88.9" cy="58.6" r="1.15"/><circle cx="90.8" cy="48.9" r="1.15"/><circle cx="97.4" cy="37.7" r="1.15"/><circle cx="88.5" cy="44.8" r="1.15"/><circle cx="98.9" cy="50.5" r="1.15"/><circle cx="92.7" cy="52.3" r="1.15"/><circle cx="94.6" cy="45.3" r="1.15"/><circle cx="90.5" cy="37.8" r="1.15"/><circle cx="92.4" cy="57.6" r="1.15"/><circle cx="93.2" cy="53.7" r="1.15"/><circle cx="79.5" cy="52.4" r="1.15"/><circle cx="88.5" cy="61" r="1.15"/><circle cx="91.6" cy="54.3" r="1.15"/><circle cx="95.2" cy="52.8" r="1.15"/><circle cx="80.8" cy="45.9" r="1.15"/><circle cx="79.8" cy="60.3" r="1.15"/><circle cx="85.8" cy="41.6" r="1.15"/><circle cx="90.1" cy="46.9" r="1.15"/><circle cx="88.4" cy="59.5" r="1.15"/><circle cx="76.7" cy="41.9" r="1.15"/><circle cx="87.5" cy="48.6" r="1.15"/><circle cx="93.2" cy="46.9" r="1.15"/><circle cx="92.8" cy="61.6" r="1.15"/><circle cx="80" cy="41.6" r="1.15"/><circle cx="84.6" cy="49.4" r="1.15"/><circle cx="83.3" cy="52.9" r="1.15"/><circle cx="85.9" cy="58.7" r="1.15"/><circle cx="91.5" cy="54.5" r="1.15"/><circle cx="89.5" cy="51.5" r="1.15"/><circle cx="80.2" cy="50.1" r="1.15"/><circle cx="81.4" cy="60.8" r="1.15"/><circle cx="81.7" cy="44.9" r="1.15"/><circle cx="88.7" cy="65.7" r="1.15"/><circle cx="85" cy="62.7" r="1.15"/><circle cx="92" cy="67.9" r="1.15"/><circle cx="86.5" cy="46.7" r="1.15"/><circle cx="87.4" cy="46.5" r="1.15"/><circle cx="85.7" cy="55.7" r="1.15"/><circle cx="87.2" cy="56.7" r="1.15"/><circle cx="92.2" cy="56.1" r="1.15"/><circle cx="97" cy="56.2" r="1.15"/><circle cx="85.4" cy="60.2" r="1.15"/><circle cx="78" cy="61" r="1.15"/><circle cx="92.8" cy="41.9" r="1.15"/><circle cx="92.1" cy="36.3" r="1.15"/><circle cx="92.6" cy="46.6" r="1.15"/><circle cx="86.7" cy="49.3" r="1.15"/><circle cx="86.4" cy="55.8" r="1.15"/><circle cx="88" cy="50" r="1.15"/><circle cx="88.1" cy="47.7" r="1.15"/><circle cx="84.2" cy="55.2" r="1.15"/><circle cx="90.8" cy="41.4" r="1.15"/><circle cx="94.4" cy="58.1" r="1.15"/><circle cx="90.9" cy="60.2" r="1.15"/><circle cx="79.6" cy="61.5" r="1.15"/><circle cx="85.1" cy="52.9" r="1.15"/><circle cx="86.9" cy="67.9" r="1.15"/><circle cx="87.1" cy="55.2" r="1.15"/><circle cx="80.9" cy="49.5" r="1.15"/><circle cx="90.2" cy="49.1" r="1.15"/><circle cx="86.5" cy="61.1" r="1.15"/><circle cx="81" cy="52.2" r="1.15"/><circle cx="87" cy="47.9" r="1.15"/><circle cx="91.7" cy="51.4" r="1.15"/><circle cx="88.2" cy="54.9" r="1.15"/><circle cx="88.5" cy="54" r="1.15"/><circle cx="94.7" cy="50.9" r="1.15"/><circle cx="87.9" cy="46.3" r="1.15"/><circle cx="96.2" cy="55.7" r="1.15"/><circle cx="91.2" cy="51.9" r="1.15"/><circle cx="84.4" cy="51.6" r="1.15"/><circle cx="88.3" cy="42.1" r="1.15"/><circle cx="83.6" cy="50.3" r="1.15"/><circle cx="97.9" cy="51.2" r="1.15"/><circle cx="82.9" cy="60.2" r="1.15"/><circle cx="93.4" cy="54.4" r="1.15"/><circle cx="85.6" cy="50" r="1.15"/><circle cx="100.1" cy="56.2" r="1.15"/><circle cx="108" cy="33.9" r="1.15"/><circle cx="80.2" cy="48.7" r="1.15"/><circle cx="83.1" cy="46.5" r="1.15"/><circle cx="93.4" cy="58.9" r="1.15"/><circle cx="82.2" cy="55.5" r="1.15"/><circle cx="92.7" cy="51.3" r="1.15"/><circle cx="96.2" cy="57.2" r="1.15"/><circle cx="84.6" cy="52" r="1.15"/><circle cx="88.2" cy="41.9" r="1.15"/><circle cx="88.5" cy="57.6" r="1.15"/><circle cx="90.2" cy="50.2" r="1.15"/><circle cx="101.5" cy="52.5" r="1.15"/><circle cx="91.9" cy="43.6" r="1.15"/><circle cx="93.7" cy="46.3" r="1.15"/><circle cx="87" cy="47.6" r="1.15"/><circle cx="82.9" cy="55.4" r="1.15"/><circle cx="83.5" cy="57.1" r="1.15"/><circle cx="86" cy="59.8" r="1.15"/><circle cx="91.4" cy="58.2" r="1.15"/><circle cx="83.8" cy="55.2" r="1.15"/><circle cx="92.3" cy="51.7" r="1.15"/><circle cx="85.4" cy="63.6" r="1.15"/><circle cx="70.1" cy="67.9" r="1.15"/><circle cx="79.7" cy="61.9" r="1.15"/><circle cx="87.7" cy="55.6" r="1.15"/><circle cx="82.2" cy="68.6" r="1.15"/><circle cx="86" cy="65.1" r="1.15"/><circle cx="82.1" cy="66.6" r="1.15"/><circle cx="78.4" cy="63.7" r="1.15"/><circle cx="89.8" cy="62.4" r="1.15"/><circle cx="85.3" cy="64.5" r="1.15"/><circle cx="79.8" cy="58.2" r="1.15"/><circle cx="81.7" cy="62.9" r="1.15"/><circle cx="80.9" cy="65.7" r="1.15"/><circle cx="87.4" cy="68.4" r="1.15"/><circle cx="87.7" cy="61.4" r="1.15"/><circle cx="92.7" cy="67.3" r="1.15"/><circle cx="89.5" cy="60.9" r="1.15"/><circle cx="91.2" cy="74.9" r="1.15"/><circle cx="88.5" cy="70.3" r="1.15"/><circle cx="83.1" cy="66.6" r="1.15"/><circle cx="85.7" cy="68.6" r="1.15"/><circle cx="86.7" cy="67" r="1.15"/><circle cx="81.5" cy="61.3" r="1.15"/><circle cx="85.9" cy="75.8" r="1.15"/><circle cx="81.1" cy="68" r="1.15"/><circle cx="92.5" cy="63.4" r="1.15"/><circle cx="77.9" cy="67.4" r="1.15"/><circle cx="85.7" cy="62.6" r="1.15"/><circle cx="93.3" cy="68.8" r="1.15"/><circle cx="85.9" cy="60.6" r="1.15"/><circle cx="104.1" cy="60.5" r="1.15"/><circle cx="102" cy="63" r="1.15"/><circle cx="92.9" cy="50.1" r="1.15"/><circle cx="102.2" cy="57.2" r="1.15"/><circle cx="97.7" cy="52.6" r="1.15"/><circle cx="103" cy="56.2" r="1.15"/><circle cx="102.2" cy="49.4" r="1.15"/><circle cx="98.3" cy="57" r="1.15"/><circle cx="103" cy="46.8" r="1.15"/><circle cx="97" cy="51.8" r="1.15"/><circle cx="98" cy="54.3" r="1.15"/><circle cx="100.1" cy="58.9" r="1.15"/><circle cx="99.3" cy="54.6" r="1.15"/><circle cx="102.3" cy="61.9" r="1.15"/><circle cx="98.3" cy="51.1" r="1.15"/><circle cx="106.7" cy="59.5" r="1.15"/><circle cx="108.7" cy="53" r="1.15"/><circle cx="96.1" cy="54.2" r="1.15"/><circle cx="97.6" cy="47.8" r="1.15"/><circle cx="102.1" cy="47.6" r="1.15"/><circle cx="84.3" cy="54.8" r="1.15"/><circle cx="92.7" cy="56.3" r="1.15"/><circle cx="92.3" cy="48.3" r="1.15"/><circle cx="87.9" cy="48.8" r="1.15"/><circle cx="96.6" cy="65.5" r="1.15"/><circle cx="101.3" cy="51.8" r="1.15"/><circle cx="104.7" cy="56.2" r="1.15"/><circle cx="88.7" cy="46.3" r="1.15"/><circle cx="90.5" cy="52.1" r="1.15"/><circle cx="98.2" cy="52" r="1.15"/><circle cx="58" cy="51.8" r="1.15"/><circle cx="70.1" cy="52.5" r="1.15"/><circle cx="63.4" cy="55.8" r="1.15"/><circle cx="68.8" cy="63.9" r="1.15"/><circle cx="76.2" cy="48.4" r="1.15"/><circle cx="107.8" cy="51.8" r="1.15"/><circle cx="113.9" cy="59.2" r="1.15"/><circle cx="109.8" cy="63.9" r="1.15"/><circle cx="105.1" cy="65.9" r="1.15"/><circle cx="101.1" cy="74" r="1.15"/><circle cx="92.3" cy="70" r="1.15"/><circle cx="75.5" cy="76.7" r="1.15"/><circle cx="76.9" cy="79.4" r="1.15"/></g></g>
<text x="79.7" y="177.6" text-anchor="middle" class="t">MPP</text>
<g transform="translate(202.6,183.1)"><use href="#box"/><use href="#cloud"/>
<g fill="#b48cf0" fill-opacity="0.45"><circle cx="89.4" cy="42.3" r="2.5"/><circle cx="91.5" cy="49.1" r="2.5"/><circle cx="87.8" cy="51" r="2.5"/><circle cx="88.5" cy="44.9" r="2.5"/><circle cx="96" cy="48.4" r="2.5"/><circle cx="91.1" cy="38.4" r="2.5"/><circle cx="91.2" cy="44.6" r="2.5"/><circle cx="90.3" cy="50.4" r="2.5"/><circle cx="89.4" cy="53.1" r="2.5"/><circle cx="91.1" cy="46.7" r="2.5"/><circle cx="90.1" cy="46.4" r="2.5"/><circle cx="95" cy="47" r="2.5"/><circle cx="88" cy="43" r="2.5"/><circle cx="94.5" cy="48.2" r="2.5"/><circle cx="90.1" cy="34.8" r="2.5"/><circle cx="97" cy="37.9" r="2.5"/><circle cx="89.3" cy="42.5" r="2.5"/><circle cx="87" cy="46.3" r="2.5"/><circle cx="93.9" cy="45.6" r="2.5"/><circle cx="90.9" cy="49.4" r="2.5"/><circle cx="95.5" cy="49.4" r="2.5"/><circle cx="85.5" cy="50.2" r="2.5"/><circle cx="82.4" cy="51.7" r="2.5"/><circle cx="89.3" cy="52.5" r="2.5"/><circle cx="77" cy="56.3" r="2.5"/><circle cx="80.9" cy="57.1" r="2.5"/><circle cx="85.5" cy="56.3" r="2.5"/><circle cx="93.2" cy="54" r="2.5"/><circle cx="99.3" cy="53.3" r="2.5"/></g>
<g fill="#8020dc" fill-opacity="0.88"><circle cx="89.4" cy="42.3" r="1.15"/><circle cx="91.5" cy="49.1" r="1.15"/><circle cx="87.8" cy="51" r="1.15"/><circle cx="88.5" cy="44.9" r="1.15"/><circle cx="96" cy="48.4" r="1.15"/><circle cx="91.1" cy="38.4" r="1.15"/><circle cx="91.2" cy="44.6" r="1.15"/><circle cx="90.3" cy="50.4" r="1.15"/><circle cx="89.4" cy="53.1" r="1.15"/><circle cx="91.1" cy="46.7" r="1.15"/><circle cx="90.1" cy="46.4" r="1.15"/><circle cx="95" cy="47" r="1.15"/><circle cx="88" cy="43" r="1.15"/><circle cx="94.5" cy="48.2" r="1.15"/><circle cx="90.1" cy="34.8" r="1.15"/><circle cx="97" cy="37.9" r="1.15"/><circle cx="89.3" cy="42.5" r="1.15"/><circle cx="87" cy="46.3" r="1.15"/><circle cx="93.9" cy="45.6" r="1.15"/><circle cx="90.9" cy="49.4" r="1.15"/><circle cx="95.5" cy="49.4" r="1.15"/><circle cx="85.5" cy="50.2" r="1.15"/><circle cx="82.4" cy="51.7" r="1.15"/><circle cx="89.3" cy="52.5" r="1.15"/><circle cx="77" cy="56.3" r="1.15"/><circle cx="80.9" cy="57.1" r="1.15"/><circle cx="85.5" cy="56.3" r="1.15"/><circle cx="93.2" cy="54" r="1.15"/><circle cx="99.3" cy="53.3" r="1.15"/></g></g>
<text x="267.1" y="177.3" text-anchor="middle" class="t">ST-HSC</text>
<g transform="translate(384.3,183.1)"><use href="#box"/><use href="#cloud"/>
<g fill="#b48cf0" fill-opacity="0.45"><circle cx="83.4" cy="37.3" r="2.5"/><circle cx="86.9" cy="38.4" r="2.5"/><circle cx="84.5" cy="40.8" r="2.5"/><circle cx="88.6" cy="41.3" r="2.5"/><circle cx="84" cy="44.2" r="2.5"/><circle cx="87.4" cy="44.8" r="2.5"/><circle cx="81.7" cy="47.7" r="2.5"/><circle cx="85.7" cy="47.7" r="2.5"/><circle cx="77" cy="48.8" r="2.5"/><circle cx="80.5" cy="50.6" r="2.5"/><circle cx="82.8" cy="51.7" r="2.5"/><circle cx="82.8" cy="54.6" r="2.5"/><circle cx="89.2" cy="48.3" r="2.5"/><circle cx="85" cy="35.5" r="2.5"/><circle cx="86" cy="42.5" r="2.5"/><circle cx="83" cy="46" r="2.5"/></g>
<g fill="#8020dc" fill-opacity="0.88"><circle cx="83.4" cy="37.3" r="1.15"/><circle cx="86.9" cy="38.4" r="1.15"/><circle cx="84.5" cy="40.8" r="1.15"/><circle cx="88.6" cy="41.3" r="1.15"/><circle cx="84" cy="44.2" r="1.15"/><circle cx="87.4" cy="44.8" r="1.15"/><circle cx="81.7" cy="47.7" r="1.15"/><circle cx="85.7" cy="47.7" r="1.15"/><circle cx="77" cy="48.8" r="1.15"/><circle cx="80.5" cy="50.6" r="1.15"/><circle cx="82.8" cy="51.7" r="1.15"/><circle cx="82.8" cy="54.6" r="1.15"/><circle cx="89.2" cy="48.3" r="1.15"/><circle cx="85" cy="35.5" r="1.15"/><circle cx="86" cy="42.5" r="1.15"/><circle cx="83" cy="46" r="1.15"/></g></g>
<text x="445.3" y="177.3" text-anchor="middle" class="t">MPP1</text>
<g transform="translate(21.4,337.1)"><use href="#box"/><use href="#cloud"/>
<g fill="#b48cf0" fill-opacity="0.45"><circle cx="77.3" cy="55.4" r="2.5"/><circle cx="84.8" cy="58.9" r="2.5"/><circle cx="76.4" cy="56.5" r="2.5"/><circle cx="58.8" cy="50.8" r="2.5"/><circle cx="71.3" cy="52.7" r="2.5"/><circle cx="68.4" cy="59.4" r="2.5"/><circle cx="80.9" cy="53.7" r="2.5"/><circle cx="81.9" cy="55.6" r="2.5"/><circle cx="76.1" cy="64.2" r="2.5"/><circle cx="79.9" cy="63.3" r="2.5"/><circle cx="96.3" cy="48.9" r="2.5"/><circle cx="103" cy="57.5" r="2.5"/><circle cx="93.4" cy="53.7" r="2.5"/><circle cx="81.5" cy="54.5" r="2.5"/></g>
<g fill="#8020dc" fill-opacity="0.88"><circle cx="77.3" cy="55.4" r="1.15"/><circle cx="84.8" cy="58.9" r="1.15"/><circle cx="76.4" cy="56.5" r="1.15"/><circle cx="58.8" cy="50.8" r="1.15"/><circle cx="71.3" cy="52.7" r="1.15"/><circle cx="68.4" cy="59.4" r="1.15"/><circle cx="80.9" cy="53.7" r="1.15"/><circle cx="81.9" cy="55.6" r="1.15"/><circle cx="76.1" cy="64.2" r="1.15"/><circle cx="79.9" cy="63.3" r="1.15"/><circle cx="96.3" cy="48.9" r="1.15"/><circle cx="103" cy="57.5" r="1.15"/><circle cx="93.4" cy="53.7" r="1.15"/><circle cx="81.5" cy="54.5" r="1.15"/></g></g>
<text x="83.8" y="332.2" text-anchor="middle" class="t">MPP2</text>
<g transform="translate(202.6,337.1)"><use href="#box"/><use href="#cloud"/>
<g fill="#b48cf0" fill-opacity="0.45"><circle cx="84.3" cy="52.9" r="2.5"/><circle cx="90.7" cy="61.4" r="2.5"/><circle cx="91.5" cy="62.6" r="2.5"/><circle cx="94.3" cy="61.2" r="2.5"/><circle cx="91.1" cy="48.9" r="2.5"/><circle cx="79" cy="54.3" r="2.5"/><circle cx="102.6" cy="55.4" r="2.5"/><circle cx="89" cy="58.4" r="2.5"/><circle cx="89.8" cy="54.5" r="2.5"/><circle cx="93.2" cy="57.6" r="2.5"/><circle cx="88.5" cy="52.8" r="2.5"/><circle cx="101.6" cy="52.6" r="2.5"/><circle cx="86.6" cy="55.3" r="2.5"/><circle cx="91.2" cy="57.2" r="2.5"/><circle cx="101.3" cy="61.2" r="2.5"/><circle cx="91.8" cy="56.5" r="2.5"/><circle cx="97.8" cy="55.5" r="2.5"/><circle cx="93" cy="51.7" r="2.5"/><circle cx="94.4" cy="55.7" r="2.5"/><circle cx="83.5" cy="57" r="2.5"/><circle cx="105.2" cy="57.4" r="2.5"/><circle cx="87.2" cy="61.1" r="2.5"/><circle cx="90.5" cy="62" r="2.5"/><circle cx="98.6" cy="65.6" r="2.5"/><circle cx="102.6" cy="57" r="2.5"/><circle cx="85" cy="60.6" r="2.5"/><circle cx="89.4" cy="55.1" r="2.5"/><circle cx="90" cy="54.1" r="2.5"/><circle cx="84.1" cy="59.8" r="2.5"/><circle cx="89.8" cy="62.6" r="2.5"/><circle cx="82.7" cy="62.7" r="2.5"/><circle cx="90.1" cy="60.6" r="2.5"/><circle cx="88.2" cy="58.5" r="2.5"/><circle cx="100.6" cy="67.8" r="2.5"/><circle cx="89.8" cy="67.6" r="2.5"/><circle cx="81.9" cy="58.4" r="2.5"/><circle cx="93.8" cy="45.8" r="2.5"/><circle cx="101.2" cy="51.8" r="2.5"/><circle cx="89.1" cy="53.9" r="2.5"/><circle cx="93.2" cy="55.9" r="2.5"/><circle cx="83.7" cy="55.9" r="2.5"/><circle cx="86.4" cy="61.9" r="2.5"/><circle cx="80.4" cy="63.3" r="2.5"/><circle cx="75" cy="63.3" r="2.5"/><circle cx="70.3" cy="64.6" r="2.5"/><circle cx="91.8" cy="66" r="2.5"/><circle cx="105.3" cy="66" r="2.5"/><circle cx="110" cy="63.9" r="2.5"/><circle cx="104" cy="59.2" r="2.5"/><circle cx="98.5" cy="61.9" r="2.5"/><circle cx="92.5" cy="70" r="2.5"/><circle cx="77.7" cy="76.7" r="2.5"/><circle cx="77.7" cy="80.8" r="2.5"/><circle cx="80.4" cy="67.3" r="2.5"/></g>
<g fill="#8020dc" fill-opacity="0.88"><circle cx="84.3" cy="52.9" r="1.15"/><circle cx="90.7" cy="61.4" r="1.15"/><circle cx="91.5" cy="62.6" r="1.15"/><circle cx="94.3" cy="61.2" r="1.15"/><circle cx="91.1" cy="48.9" r="1.15"/><circle cx="79" cy="54.3" r="1.15"/><circle cx="102.6" cy="55.4" r="1.15"/><circle cx="89" cy="58.4" r="1.15"/><circle cx="89.8" cy="54.5" r="1.15"/><circle cx="93.2" cy="57.6" r="1.15"/><circle cx="88.5" cy="52.8" r="1.15"/><circle cx="101.6" cy="52.6" r="1.15"/><circle cx="86.6" cy="55.3" r="1.15"/><circle cx="91.2" cy="57.2" r="1.15"/><circle cx="101.3" cy="61.2" r="1.15"/><circle cx="91.8" cy="56.5" r="1.15"/><circle cx="97.8" cy="55.5" r="1.15"/><circle cx="93" cy="51.7" r="1.15"/><circle cx="94.4" cy="55.7" r="1.15"/><circle cx="83.5" cy="57" r="1.15"/><circle cx="105.2" cy="57.4" r="1.15"/><circle cx="87.2" cy="61.1" r="1.15"/><circle cx="90.5" cy="62" r="1.15"/><circle cx="98.6" cy="65.6" r="1.15"/><circle cx="102.6" cy="57" r="1.15"/><circle cx="85" cy="60.6" r="1.15"/><circle cx="89.4" cy="55.1" r="1.15"/><circle cx="90" cy="54.1" r="1.15"/><circle cx="84.1" cy="59.8" r="1.15"/><circle cx="89.8" cy="62.6" r="1.15"/><circle cx="82.7" cy="62.7" r="1.15"/><circle cx="90.1" cy="60.6" r="1.15"/><circle cx="88.2" cy="58.5" r="1.15"/><circle cx="100.6" cy="67.8" r="1.15"/><circle cx="89.8" cy="67.6" r="1.15"/><circle cx="81.9" cy="58.4" r="1.15"/><circle cx="93.8" cy="45.8" r="1.15"/><circle cx="101.2" cy="51.8" r="1.15"/><circle cx="89.1" cy="53.9" r="1.15"/><circle cx="93.2" cy="55.9" r="1.15"/><circle cx="83.7" cy="55.9" r="1.15"/><circle cx="86.4" cy="61.9" r="1.15"/><circle cx="80.4" cy="63.3" r="1.15"/><circle cx="75" cy="63.3" r="1.15"/><circle cx="70.3" cy="64.6" r="1.15"/><circle cx="91.8" cy="66" r="1.15"/><circle cx="105.3" cy="66" r="1.15"/><circle cx="110" cy="63.9" r="1.15"/><circle cx="104" cy="59.2" r="1.15"/><circle cx="98.5" cy="61.9" r="1.15"/><circle cx="92.5" cy="70" r="1.15"/><circle cx="77.7" cy="76.7" r="1.15"/><circle cx="77.7" cy="80.8" r="1.15"/><circle cx="80.4" cy="67.3" r="1.15"/></g></g>
<text x="266.3" y="332.2" text-anchor="middle" class="t">MPP3</text>
<g transform="translate(384.3,337.1)"><use href="#box"/><use href="#cloud"/>
<g fill="#b48cf0" fill-opacity="0.45"><circle cx="100.1" cy="54.6" r="2.5"/><circle cx="97.8" cy="48.9" r="2.5"/><circle cx="94.5" cy="44.8" r="2.5"/><circle cx="82.9" cy="59" r="2.5"/><circle cx="95.2" cy="49.4" r="2.5"/><circle cx="96.6" cy="52.6" r="2.5"/><circle cx="104.6" cy="57.1" r="2.5"/><circle cx="98" cy="45.6" r="2.5"/><circle cx="95.5" cy="63.3" r="2.5"/><circle cx="97.3" cy="50.3" r="2.5"/><circle cx="88.2" cy="62" r="2.5"/><circle cx="97.6" cy="62.8" r="2.5"/><circle cx="95.7" cy="50.1" r="2.5"/><circle cx="80.4" cy="61.4" r="2.5"/><circle cx="89.8" cy="52.5" r="2.5"/><circle cx="93.5" cy="50" r="2.5"/><circle cx="94" cy="68.6" r="2.5"/><circle cx="89.5" cy="67" r="2.5"/><circle cx="102.6" cy="53.9" r="2.5"/><circle cx="101.5" cy="53.9" r="2.5"/><circle cx="84" cy="56.1" r="2.5"/><circle cx="82.1" cy="65.8" r="2.5"/><circle cx="86.4" cy="58.7" r="2.5"/><circle cx="103.6" cy="61.9" r="2.5"/><circle cx="100" cy="66.6" r="2.5"/><circle cx="97" cy="64" r="2.5"/><circle cx="95.6" cy="59.9" r="2.5"/><circle cx="84.5" cy="58.8" r="2.5"/><circle cx="88.2" cy="65.7" r="2.5"/><circle cx="85.1" cy="62.6" r="2.5"/><circle cx="90.8" cy="64.6" r="2.5"/><circle cx="93.1" cy="46.1" r="2.5"/><circle cx="81.4" cy="62.5" r="2.5"/><circle cx="97.6" cy="62.4" r="2.5"/><circle cx="94.2" cy="59" r="2.5"/><circle cx="92" cy="68.9" r="2.5"/><circle cx="85.6" cy="58.3" r="2.5"/><circle cx="97.6" cy="67" r="2.5"/><circle cx="87.7" cy="52.5" r="2.5"/><circle cx="98" cy="66.5" r="2.5"/><circle cx="96.2" cy="53" r="2.5"/><circle cx="82.4" cy="59.2" r="2.5"/><circle cx="95.1" cy="68.9" r="2.5"/><circle cx="89.2" cy="58.5" r="2.5"/><circle cx="81.1" cy="63.3" r="2.5"/><circle cx="84.4" cy="57.5" r="2.5"/><circle cx="103" cy="60.8" r="2.5"/><circle cx="84.8" cy="61.5" r="2.5"/><circle cx="91.4" cy="53.3" r="2.5"/><circle cx="82.5" cy="62.5" r="2.5"/><circle cx="89.9" cy="70" r="2.5"/><circle cx="97.1" cy="62.5" r="2.5"/><circle cx="82.8" cy="56.7" r="2.5"/><circle cx="81.2" cy="60.7" r="2.5"/><circle cx="85.5" cy="65.2" r="2.5"/><circle cx="86.9" cy="59.4" r="2.5"/><circle cx="97.8" cy="46.7" r="2.5"/><circle cx="95" cy="45.5" r="2.5"/><circle cx="87.3" cy="57.1" r="2.5"/><circle cx="95.4" cy="63.8" r="2.5"/><circle cx="89.4" cy="49.3" r="2.5"/><circle cx="101.4" cy="54.4" r="2.5"/><circle cx="91.6" cy="69.7" r="2.5"/><circle cx="92.1" cy="68.9" r="2.5"/><circle cx="93.2" cy="61.4" r="2.5"/><circle cx="86.5" cy="55.8" r="2.5"/><circle cx="92.6" cy="50.7" r="2.5"/><circle cx="87.6" cy="53.5" r="2.5"/><circle cx="84.7" cy="61.2" r="2.5"/><circle cx="104.4" cy="64.8" r="2.5"/><circle cx="89" cy="56.4" r="2.5"/><circle cx="84" cy="70.1" r="2.5"/><circle cx="101.4" cy="54" r="2.5"/><circle cx="98.2" cy="49.9" r="2.5"/><circle cx="80.1" cy="60.2" r="2.5"/><circle cx="85" cy="73.7" r="2.5"/><circle cx="102.4" cy="60" r="2.5"/><circle cx="93.7" cy="59.6" r="2.5"/><circle cx="90.8" cy="70.2" r="2.5"/><circle cx="93.4" cy="44.5" r="2.5"/><circle cx="86.7" cy="67.6" r="2.5"/><circle cx="91.8" cy="61.3" r="2.5"/><circle cx="95.8" cy="66.7" r="2.5"/><circle cx="86.5" cy="66.9" r="2.5"/><circle cx="95.4" cy="48.1" r="2.5"/><circle cx="96.1" cy="55.1" r="2.5"/><circle cx="88.3" cy="69" r="2.5"/><circle cx="80.7" cy="61" r="2.5"/><circle cx="100.4" cy="49.6" r="2.5"/><circle cx="102.7" cy="65.7" r="2.5"/><circle cx="88.9" cy="56.7" r="2.5"/><circle cx="100.9" cy="65.5" r="2.5"/><circle cx="84.6" cy="55.8" r="2.5"/><circle cx="87.6" cy="58.7" r="2.5"/><circle cx="91.2" cy="58.4" r="2.5"/><circle cx="90.1" cy="50.4" r="2.5"/><circle cx="81.1" cy="60" r="2.5"/><circle cx="98.2" cy="56.5" r="2.5"/><circle cx="99.9" cy="62.4" r="2.5"/><circle cx="93.9" cy="59" r="2.5"/><circle cx="103.1" cy="52.7" r="2.5"/><circle cx="88.9" cy="56.5" r="2.5"/><circle cx="87.7" cy="67.2" r="2.5"/><circle cx="81.6" cy="60.6" r="2.5"/><circle cx="100.7" cy="53.7" r="2.5"/><circle cx="101.1" cy="54" r="2.5"/><circle cx="97.8" cy="45.8" r="2.5"/><circle cx="88.4" cy="60.7" r="2.5"/><circle cx="97.5" cy="57.6" r="2.5"/><circle cx="85" cy="62.7" r="2.5"/><circle cx="80.9" cy="62.8" r="2.5"/><circle cx="104.8" cy="51.2" r="2.5"/><circle cx="98.1" cy="53.6" r="2.5"/><circle cx="85.7" cy="63" r="2.5"/><circle cx="98.9" cy="63" r="2.5"/><circle cx="93.1" cy="68.5" r="2.5"/><circle cx="103.3" cy="52" r="2.5"/><circle cx="101.2" cy="62" r="2.5"/><circle cx="90.2" cy="51.6" r="2.5"/><circle cx="100.1" cy="58.2" r="2.5"/><circle cx="97.9" cy="55.2" r="2.5"/><circle cx="87.1" cy="52" r="2.5"/><circle cx="85.6" cy="65.1" r="2.5"/><circle cx="102.7" cy="64.2" r="2.5"/><circle cx="101.5" cy="49.2" r="2.5"/><circle cx="94.4" cy="43.1" r="2.5"/><circle cx="94.7" cy="43.5" r="2.5"/><circle cx="89.3" cy="57.9" r="2.5"/><circle cx="83.2" cy="63.6" r="2.5"/><circle cx="104.7" cy="52.8" r="2.5"/><circle cx="100.3" cy="56.2" r="2.5"/><circle cx="100.5" cy="58.2" r="2.5"/><circle cx="85.5" cy="65.3" r="2.5"/><circle cx="107.6" cy="56.5" r="2.5"/><circle cx="88.5" cy="52.4" r="2.5"/><circle cx="85.3" cy="63.9" r="2.5"/><circle cx="103.2" cy="63.6" r="2.5"/><circle cx="87.5" cy="55.5" r="2.5"/><circle cx="95" cy="66.5" r="2.5"/><circle cx="103.9" cy="59.4" r="2.5"/><circle cx="98.9" cy="62.7" r="2.5"/><circle cx="83.5" cy="72" r="2.5"/><circle cx="85.3" cy="69.6" r="2.5"/><circle cx="100.3" cy="60.4" r="2.5"/><circle cx="106.9" cy="56.9" r="2.5"/><circle cx="91.3" cy="50.1" r="2.5"/><circle cx="104.8" cy="52.9" r="2.5"/><circle cx="88.5" cy="61.7" r="2.5"/><circle cx="104.5" cy="58.5" r="2.5"/><circle cx="90.5" cy="70" r="2.5"/><circle cx="100" cy="52.6" r="2.5"/><circle cx="98.4" cy="54.8" r="2.5"/><circle cx="98.7" cy="60.5" r="2.5"/><circle cx="93.9" cy="56.7" r="2.5"/><circle cx="95.8" cy="61.1" r="2.5"/><circle cx="93.6" cy="57.9" r="2.5"/><circle cx="99.6" cy="60.9" r="2.5"/><circle cx="90.7" cy="50.6" r="2.5"/><circle cx="93.4" cy="64.7" r="2.5"/><circle cx="93.2" cy="62.2" r="2.5"/><circle cx="95" cy="60.1" r="2.5"/><circle cx="97.6" cy="60" r="2.5"/><circle cx="90.5" cy="58.8" r="2.5"/><circle cx="94" cy="60.9" r="2.5"/><circle cx="98.8" cy="51.9" r="2.5"/><circle cx="93.2" cy="52.9" r="2.5"/><circle cx="95" cy="50.4" r="2.5"/><circle cx="93.2" cy="49.6" r="2.5"/><circle cx="93.6" cy="56.6" r="2.5"/><circle cx="95.5" cy="51.2" r="2.5"/><circle cx="90.5" cy="60.9" r="2.5"/><circle cx="95.2" cy="55.8" r="2.5"/><circle cx="94.9" cy="55.8" r="2.5"/><circle cx="97.5" cy="59.3" r="2.5"/><circle cx="91.5" cy="59.1" r="2.5"/><circle cx="94.5" cy="62.5" r="2.5"/><circle cx="96.6" cy="57.6" r="2.5"/><circle cx="89.6" cy="61.9" r="2.5"/><circle cx="90.8" cy="55.2" r="2.5"/><circle cx="96.2" cy="53" r="2.5"/><circle cx="100.1" cy="58.4" r="2.5"/><circle cx="94.5" cy="54.1" r="2.5"/><circle cx="96" cy="60.3" r="2.5"/><circle cx="94.2" cy="55" r="2.5"/><circle cx="98.5" cy="58.5" r="2.5"/><circle cx="91.8" cy="65.5" r="2.5"/><circle cx="91.2" cy="49.4" r="2.5"/><circle cx="100" cy="63.5" r="2.5"/><circle cx="96.5" cy="57.7" r="2.5"/><circle cx="92.1" cy="51.1" r="2.5"/><circle cx="82.6" cy="62" r="2.5"/><circle cx="76.4" cy="52.4" r="2.5"/><circle cx="97.7" cy="50.9" r="2.5"/><circle cx="88.9" cy="54.6" r="2.5"/><circle cx="106" cy="51.7" r="2.5"/><circle cx="101.6" cy="69.6" r="2.5"/><circle cx="92.1" cy="52.9" r="2.5"/><circle cx="94.8" cy="51.7" r="2.5"/><circle cx="92.1" cy="51.3" r="2.5"/><circle cx="84.3" cy="48.1" r="2.5"/><circle cx="101.2" cy="53.6" r="2.5"/><circle cx="86.6" cy="64.2" r="2.5"/><circle cx="93.4" cy="55.7" r="2.5"/><circle cx="89.3" cy="57.7" r="2.5"/><circle cx="92.5" cy="55.1" r="2.5"/><circle cx="93.4" cy="62.4" r="2.5"/><circle cx="93.3" cy="65.6" r="2.5"/><circle cx="101.5" cy="51.5" r="2.5"/><circle cx="87.8" cy="49.9" r="2.5"/><circle cx="89.3" cy="62" r="2.5"/><circle cx="86.7" cy="31" r="2.5"/><circle cx="89" cy="35" r="2.5"/><circle cx="92" cy="38" r="2.5"/><circle cx="88" cy="41" r="2.5"/><circle cx="99.4" cy="39.4" r="2.5"/><circle cx="65.1" cy="47.5" r="2.5"/><circle cx="115.6" cy="57.6" r="2.5"/><circle cx="113" cy="55" r="2.5"/><circle cx="84" cy="73.8" r="2.5"/><circle cx="79.3" cy="62.3" r="2.5"/><circle cx="80.5" cy="66" r="2.5"/><circle cx="82" cy="69" r="2.5"/></g>
<g fill="#8020dc" fill-opacity="0.88"><circle cx="100.1" cy="54.6" r="1.15"/><circle cx="97.8" cy="48.9" r="1.15"/><circle cx="94.5" cy="44.8" r="1.15"/><circle cx="82.9" cy="59" r="1.15"/><circle cx="95.2" cy="49.4" r="1.15"/><circle cx="96.6" cy="52.6" r="1.15"/><circle cx="104.6" cy="57.1" r="1.15"/><circle cx="98" cy="45.6" r="1.15"/><circle cx="95.5" cy="63.3" r="1.15"/><circle cx="97.3" cy="50.3" r="1.15"/><circle cx="88.2" cy="62" r="1.15"/><circle cx="97.6" cy="62.8" r="1.15"/><circle cx="95.7" cy="50.1" r="1.15"/><circle cx="80.4" cy="61.4" r="1.15"/><circle cx="89.8" cy="52.5" r="1.15"/><circle cx="93.5" cy="50" r="1.15"/><circle cx="94" cy="68.6" r="1.15"/><circle cx="89.5" cy="67" r="1.15"/><circle cx="102.6" cy="53.9" r="1.15"/><circle cx="101.5" cy="53.9" r="1.15"/><circle cx="84" cy="56.1" r="1.15"/><circle cx="82.1" cy="65.8" r="1.15"/><circle cx="86.4" cy="58.7" r="1.15"/><circle cx="103.6" cy="61.9" r="1.15"/><circle cx="100" cy="66.6" r="1.15"/><circle cx="97" cy="64" r="1.15"/><circle cx="95.6" cy="59.9" r="1.15"/><circle cx="84.5" cy="58.8" r="1.15"/><circle cx="88.2" cy="65.7" r="1.15"/><circle cx="85.1" cy="62.6" r="1.15"/><circle cx="90.8" cy="64.6" r="1.15"/><circle cx="93.1" cy="46.1" r="1.15"/><circle cx="81.4" cy="62.5" r="1.15"/><circle cx="97.6" cy="62.4" r="1.15"/><circle cx="94.2" cy="59" r="1.15"/><circle cx="92" cy="68.9" r="1.15"/><circle cx="85.6" cy="58.3" r="1.15"/><circle cx="97.6" cy="67" r="1.15"/><circle cx="87.7" cy="52.5" r="1.15"/><circle cx="98" cy="66.5" r="1.15"/><circle cx="96.2" cy="53" r="1.15"/><circle cx="82.4" cy="59.2" r="1.15"/><circle cx="95.1" cy="68.9" r="1.15"/><circle cx="89.2" cy="58.5" r="1.15"/><circle cx="81.1" cy="63.3" r="1.15"/><circle cx="84.4" cy="57.5" r="1.15"/><circle cx="103" cy="60.8" r="1.15"/><circle cx="84.8" cy="61.5" r="1.15"/><circle cx="91.4" cy="53.3" r="1.15"/><circle cx="82.5" cy="62.5" r="1.15"/><circle cx="89.9" cy="70" r="1.15"/><circle cx="97.1" cy="62.5" r="1.15"/><circle cx="82.8" cy="56.7" r="1.15"/><circle cx="81.2" cy="60.7" r="1.15"/><circle cx="85.5" cy="65.2" r="1.15"/><circle cx="86.9" cy="59.4" r="1.15"/><circle cx="97.8" cy="46.7" r="1.15"/><circle cx="95" cy="45.5" r="1.15"/><circle cx="87.3" cy="57.1" r="1.15"/><circle cx="95.4" cy="63.8" r="1.15"/><circle cx="89.4" cy="49.3" r="1.15"/><circle cx="101.4" cy="54.4" r="1.15"/><circle cx="91.6" cy="69.7" r="1.15"/><circle cx="92.1" cy="68.9" r="1.15"/><circle cx="93.2" cy="61.4" r="1.15"/><circle cx="86.5" cy="55.8" r="1.15"/><circle cx="92.6" cy="50.7" r="1.15"/><circle cx="87.6" cy="53.5" r="1.15"/><circle cx="84.7" cy="61.2" r="1.15"/><circle cx="104.4" cy="64.8" r="1.15"/><circle cx="89" cy="56.4" r="1.15"/><circle cx="84" cy="70.1" r="1.15"/><circle cx="101.4" cy="54" r="1.15"/><circle cx="98.2" cy="49.9" r="1.15"/><circle cx="80.1" cy="60.2" r="1.15"/><circle cx="85" cy="73.7" r="1.15"/><circle cx="102.4" cy="60" r="1.15"/><circle cx="93.7" cy="59.6" r="1.15"/><circle cx="90.8" cy="70.2" r="1.15"/><circle cx="93.4" cy="44.5" r="1.15"/><circle cx="86.7" cy="67.6" r="1.15"/><circle cx="91.8" cy="61.3" r="1.15"/><circle cx="95.8" cy="66.7" r="1.15"/><circle cx="86.5" cy="66.9" r="1.15"/><circle cx="95.4" cy="48.1" r="1.15"/><circle cx="96.1" cy="55.1" r="1.15"/><circle cx="88.3" cy="69" r="1.15"/><circle cx="80.7" cy="61" r="1.15"/><circle cx="100.4" cy="49.6" r="1.15"/><circle cx="102.7" cy="65.7" r="1.15"/><circle cx="88.9" cy="56.7" r="1.15"/><circle cx="100.9" cy="65.5" r="1.15"/><circle cx="84.6" cy="55.8" r="1.15"/><circle cx="87.6" cy="58.7" r="1.15"/><circle cx="91.2" cy="58.4" r="1.15"/><circle cx="90.1" cy="50.4" r="1.15"/><circle cx="81.1" cy="60" r="1.15"/><circle cx="98.2" cy="56.5" r="1.15"/><circle cx="99.9" cy="62.4" r="1.15"/><circle cx="93.9" cy="59" r="1.15"/><circle cx="103.1" cy="52.7" r="1.15"/><circle cx="88.9" cy="56.5" r="1.15"/><circle cx="87.7" cy="67.2" r="1.15"/><circle cx="81.6" cy="60.6" r="1.15"/><circle cx="100.7" cy="53.7" r="1.15"/><circle cx="101.1" cy="54" r="1.15"/><circle cx="97.8" cy="45.8" r="1.15"/><circle cx="88.4" cy="60.7" r="1.15"/><circle cx="97.5" cy="57.6" r="1.15"/><circle cx="85" cy="62.7" r="1.15"/><circle cx="80.9" cy="62.8" r="1.15"/><circle cx="104.8" cy="51.2" r="1.15"/><circle cx="98.1" cy="53.6" r="1.15"/><circle cx="85.7" cy="63" r="1.15"/><circle cx="98.9" cy="63" r="1.15"/><circle cx="93.1" cy="68.5" r="1.15"/><circle cx="103.3" cy="52" r="1.15"/><circle cx="101.2" cy="62" r="1.15"/><circle cx="90.2" cy="51.6" r="1.15"/><circle cx="100.1" cy="58.2" r="1.15"/><circle cx="97.9" cy="55.2" r="1.15"/><circle cx="87.1" cy="52" r="1.15"/><circle cx="85.6" cy="65.1" r="1.15"/><circle cx="102.7" cy="64.2" r="1.15"/><circle cx="101.5" cy="49.2" r="1.15"/><circle cx="94.4" cy="43.1" r="1.15"/><circle cx="94.7" cy="43.5" r="1.15"/><circle cx="89.3" cy="57.9" r="1.15"/><circle cx="83.2" cy="63.6" r="1.15"/><circle cx="104.7" cy="52.8" r="1.15"/><circle cx="100.3" cy="56.2" r="1.15"/><circle cx="100.5" cy="58.2" r="1.15"/><circle cx="85.5" cy="65.3" r="1.15"/><circle cx="107.6" cy="56.5" r="1.15"/><circle cx="88.5" cy="52.4" r="1.15"/><circle cx="85.3" cy="63.9" r="1.15"/><circle cx="103.2" cy="63.6" r="1.15"/><circle cx="87.5" cy="55.5" r="1.15"/><circle cx="95" cy="66.5" r="1.15"/><circle cx="103.9" cy="59.4" r="1.15"/><circle cx="98.9" cy="62.7" r="1.15"/><circle cx="83.5" cy="72" r="1.15"/><circle cx="85.3" cy="69.6" r="1.15"/><circle cx="100.3" cy="60.4" r="1.15"/><circle cx="106.9" cy="56.9" r="1.15"/><circle cx="91.3" cy="50.1" r="1.15"/><circle cx="104.8" cy="52.9" r="1.15"/><circle cx="88.5" cy="61.7" r="1.15"/><circle cx="104.5" cy="58.5" r="1.15"/><circle cx="90.5" cy="70" r="1.15"/><circle cx="100" cy="52.6" r="1.15"/><circle cx="98.4" cy="54.8" r="1.15"/><circle cx="98.7" cy="60.5" r="1.15"/><circle cx="93.9" cy="56.7" r="1.15"/><circle cx="95.8" cy="61.1" r="1.15"/><circle cx="93.6" cy="57.9" r="1.15"/><circle cx="99.6" cy="60.9" r="1.15"/><circle cx="90.7" cy="50.6" r="1.15"/><circle cx="93.4" cy="64.7" r="1.15"/><circle cx="93.2" cy="62.2" r="1.15"/><circle cx="95" cy="60.1" r="1.15"/><circle cx="97.6" cy="60" r="1.15"/><circle cx="90.5" cy="58.8" r="1.15"/><circle cx="94" cy="60.9" r="1.15"/><circle cx="98.8" cy="51.9" r="1.15"/><circle cx="93.2" cy="52.9" r="1.15"/><circle cx="95" cy="50.4" r="1.15"/><circle cx="93.2" cy="49.6" r="1.15"/><circle cx="93.6" cy="56.6" r="1.15"/><circle cx="95.5" cy="51.2" r="1.15"/><circle cx="90.5" cy="60.9" r="1.15"/><circle cx="95.2" cy="55.8" r="1.15"/><circle cx="94.9" cy="55.8" r="1.15"/><circle cx="97.5" cy="59.3" r="1.15"/><circle cx="91.5" cy="59.1" r="1.15"/><circle cx="94.5" cy="62.5" r="1.15"/><circle cx="96.6" cy="57.6" r="1.15"/><circle cx="89.6" cy="61.9" r="1.15"/><circle cx="90.8" cy="55.2" r="1.15"/><circle cx="96.2" cy="53" r="1.15"/><circle cx="100.1" cy="58.4" r="1.15"/><circle cx="94.5" cy="54.1" r="1.15"/><circle cx="96" cy="60.3" r="1.15"/><circle cx="94.2" cy="55" r="1.15"/><circle cx="98.5" cy="58.5" r="1.15"/><circle cx="91.8" cy="65.5" r="1.15"/><circle cx="91.2" cy="49.4" r="1.15"/><circle cx="100" cy="63.5" r="1.15"/><circle cx="96.5" cy="57.7" r="1.15"/><circle cx="92.1" cy="51.1" r="1.15"/><circle cx="82.6" cy="62" r="1.15"/><circle cx="76.4" cy="52.4" r="1.15"/><circle cx="97.7" cy="50.9" r="1.15"/><circle cx="88.9" cy="54.6" r="1.15"/><circle cx="106" cy="51.7" r="1.15"/><circle cx="101.6" cy="69.6" r="1.15"/><circle cx="92.1" cy="52.9" r="1.15"/><circle cx="94.8" cy="51.7" r="1.15"/><circle cx="92.1" cy="51.3" r="1.15"/><circle cx="84.3" cy="48.1" r="1.15"/><circle cx="101.2" cy="53.6" r="1.15"/><circle cx="86.6" cy="64.2" r="1.15"/><circle cx="93.4" cy="55.7" r="1.15"/><circle cx="89.3" cy="57.7" r="1.15"/><circle cx="92.5" cy="55.1" r="1.15"/><circle cx="93.4" cy="62.4" r="1.15"/><circle cx="93.3" cy="65.6" r="1.15"/><circle cx="101.5" cy="51.5" r="1.15"/><circle cx="87.8" cy="49.9" r="1.15"/><circle cx="89.3" cy="62" r="1.15"/><circle cx="86.7" cy="31" r="1.15"/><circle cx="89" cy="35" r="1.15"/><circle cx="92" cy="38" r="1.15"/><circle cx="88" cy="41" r="1.15"/><circle cx="99.4" cy="39.4" r="1.15"/><circle cx="65.1" cy="47.5" r="1.15"/><circle cx="115.6" cy="57.6" r="1.15"/><circle cx="113" cy="55" r="1.15"/><circle cx="84" cy="73.8" r="1.15"/><circle cx="79.3" cy="62.3" r="1.15"/><circle cx="80.5" cy="66" r="1.15"/><circle cx="82" cy="69" r="1.15"/></g></g>
<text x="445" y="331.5" text-anchor="middle" class="t">LMPP</text>
<g transform="translate(21.4,487.8)"><use href="#box"/><use href="#cloud"/>
<g fill="#b48cf0" fill-opacity="0.45"><circle cx="76.4" cy="53.3" r="2.5"/><circle cx="79.2" cy="78.7" r="2.5"/><circle cx="68.1" cy="52.4" r="2.5"/><circle cx="75.3" cy="65" r="2.5"/><circle cx="73.3" cy="64.2" r="2.5"/><circle cx="75.5" cy="73.6" r="2.5"/><circle cx="78.4" cy="71.1" r="2.5"/><circle cx="81.3" cy="62.7" r="2.5"/><circle cx="76.1" cy="50" r="2.5"/><circle cx="77.3" cy="54.3" r="2.5"/><circle cx="72.1" cy="62.6" r="2.5"/><circle cx="68.5" cy="58.2" r="2.5"/><circle cx="70.7" cy="66.5" r="2.5"/><circle cx="70.6" cy="75.8" r="2.5"/><circle cx="68.5" cy="64.7" r="2.5"/><circle cx="69.1" cy="56.8" r="2.5"/><circle cx="71.6" cy="62.7" r="2.5"/><circle cx="74.4" cy="66.4" r="2.5"/><circle cx="78.9" cy="62.1" r="2.5"/><circle cx="70" cy="60.7" r="2.5"/><circle cx="66.9" cy="65.4" r="2.5"/><circle cx="75.3" cy="50.6" r="2.5"/><circle cx="70.4" cy="50.7" r="2.5"/><circle cx="73.5" cy="71.9" r="2.5"/><circle cx="82" cy="79.4" r="2.5"/><circle cx="76.9" cy="59.3" r="2.5"/><circle cx="84.5" cy="63.6" r="2.5"/><circle cx="69.3" cy="70.7" r="2.5"/><circle cx="81.6" cy="63.6" r="2.5"/><circle cx="82.1" cy="73" r="2.5"/><circle cx="69.9" cy="71.2" r="2.5"/><circle cx="72.7" cy="50" r="2.5"/><circle cx="83.2" cy="76" r="2.5"/><circle cx="83" cy="54.3" r="2.5"/><circle cx="72.3" cy="56.7" r="2.5"/><circle cx="72.4" cy="59.6" r="2.5"/><circle cx="73.7" cy="61.4" r="2.5"/><circle cx="79.4" cy="69.4" r="2.5"/><circle cx="66.2" cy="53" r="2.5"/><circle cx="65.1" cy="57.6" r="2.5"/><circle cx="70.2" cy="63.9" r="2.5"/><circle cx="65.8" cy="56.5" r="2.5"/><circle cx="72.8" cy="46.2" r="2.5"/><circle cx="76" cy="47.3" r="2.5"/><circle cx="74.9" cy="66.8" r="2.5"/><circle cx="67.2" cy="46.6" r="2.5"/><circle cx="61.5" cy="54.5" r="2.5"/><circle cx="78.8" cy="72.2" r="2.5"/><circle cx="63.1" cy="54.1" r="2.5"/><circle cx="74.2" cy="64.9" r="2.5"/><circle cx="80.3" cy="57" r="2.5"/><circle cx="83.3" cy="68.4" r="2.5"/><circle cx="77.5" cy="66.4" r="2.5"/><circle cx="67.6" cy="56.9" r="2.5"/><circle cx="76.4" cy="50.8" r="2.5"/><circle cx="77.9" cy="77.2" r="2.5"/><circle cx="75.1" cy="77.3" r="2.5"/><circle cx="73.7" cy="64" r="2.5"/><circle cx="69.7" cy="66.1" r="2.5"/><circle cx="83.6" cy="67.2" r="2.5"/><circle cx="79" cy="62.5" r="2.5"/><circle cx="82.8" cy="73.3" r="2.5"/><circle cx="72.5" cy="56.7" r="2.5"/><circle cx="76.1" cy="48.5" r="2.5"/><circle cx="72.9" cy="61.2" r="2.5"/><circle cx="75" cy="56.1" r="2.5"/><circle cx="83.4" cy="63.1" r="2.5"/><circle cx="81.3" cy="55.2" r="2.5"/><circle cx="82.9" cy="65.4" r="2.5"/><circle cx="73.5" cy="61.4" r="2.5"/><circle cx="84.4" cy="66" r="2.5"/><circle cx="73.2" cy="58.9" r="2.5"/><circle cx="71.1" cy="55.6" r="2.5"/><circle cx="70.8" cy="55.4" r="2.5"/><circle cx="67.3" cy="55.6" r="2.5"/><circle cx="73.7" cy="56.4" r="2.5"/><circle cx="78.4" cy="56.8" r="2.5"/><circle cx="77.5" cy="55.4" r="2.5"/><circle cx="76.2" cy="58.8" r="2.5"/><circle cx="72.5" cy="55.8" r="2.5"/><circle cx="73.4" cy="69" r="2.5"/><circle cx="81.8" cy="55.1" r="2.5"/><circle cx="74.2" cy="66.1" r="2.5"/><circle cx="82.5" cy="63" r="2.5"/><circle cx="82.3" cy="78.8" r="2.5"/><circle cx="69.8" cy="60.4" r="2.5"/><circle cx="85.2" cy="66.6" r="2.5"/><circle cx="73.1" cy="73.6" r="2.5"/><circle cx="75.2" cy="64.4" r="2.5"/><circle cx="76.6" cy="55.3" r="2.5"/><circle cx="69" cy="46.3" r="2.5"/><circle cx="78.3" cy="75.2" r="2.5"/><circle cx="78.8" cy="80.5" r="2.5"/><circle cx="79.3" cy="49.8" r="2.5"/><circle cx="80.4" cy="51.2" r="2.5"/><circle cx="76.5" cy="47.1" r="2.5"/><circle cx="73.1" cy="52.7" r="2.5"/><circle cx="82.1" cy="65" r="2.5"/><circle cx="82.9" cy="71.5" r="2.5"/><circle cx="79.5" cy="65.8" r="2.5"/><circle cx="61.8" cy="54.7" r="2.5"/><circle cx="78.6" cy="50.4" r="2.5"/><circle cx="69.8" cy="51.4" r="2.5"/><circle cx="76.4" cy="58.4" r="2.5"/><circle cx="80.2" cy="59" r="2.5"/><circle cx="81.3" cy="75.3" r="2.5"/><circle cx="70.8" cy="50.4" r="2.5"/><circle cx="83.6" cy="58.1" r="2.5"/><circle cx="75.4" cy="48.1" r="2.5"/><circle cx="77.3" cy="50.6" r="2.5"/><circle cx="76.8" cy="62.6" r="2.5"/><circle cx="71.6" cy="53.8" r="2.5"/><circle cx="75.2" cy="72.5" r="2.5"/><circle cx="78.9" cy="60.2" r="2.5"/><circle cx="73.7" cy="56.8" r="2.5"/><circle cx="76.5" cy="61.3" r="2.5"/><circle cx="80.1" cy="56.4" r="2.5"/><circle cx="69.1" cy="48.9" r="2.5"/><circle cx="68.4" cy="54.7" r="2.5"/><circle cx="75.3" cy="58.6" r="2.5"/><circle cx="77.2" cy="71.5" r="2.5"/><circle cx="79.7" cy="58.2" r="2.5"/><circle cx="72.7" cy="55.9" r="2.5"/><circle cx="65.5" cy="61.1" r="2.5"/><circle cx="83.5" cy="62" r="2.5"/><circle cx="80.9" cy="65" r="2.5"/><circle cx="76.5" cy="59.5" r="2.5"/><circle cx="81.9" cy="71.6" r="2.5"/><circle cx="78.1" cy="62.8" r="2.5"/><circle cx="77" cy="76.7" r="2.5"/><circle cx="69.8" cy="72.3" r="2.5"/><circle cx="77.7" cy="63.8" r="2.5"/><circle cx="79.7" cy="63.2" r="2.5"/><circle cx="79.2" cy="51.8" r="2.5"/><circle cx="71.2" cy="75.6" r="2.5"/><circle cx="68.2" cy="58.9" r="2.5"/><circle cx="77.7" cy="66.4" r="2.5"/><circle cx="66.5" cy="51.5" r="2.5"/><circle cx="70.1" cy="77.6" r="2.5"/><circle cx="77.7" cy="70.4" r="2.5"/><circle cx="75.7" cy="54" r="2.5"/><circle cx="73.7" cy="62.6" r="2.5"/><circle cx="74.5" cy="48.2" r="2.5"/><circle cx="66.5" cy="52.7" r="2.5"/><circle cx="82.4" cy="60.4" r="2.5"/><circle cx="67.6" cy="59.1" r="2.5"/><circle cx="82.8" cy="78.3" r="2.5"/><circle cx="84.7" cy="76.4" r="2.5"/><circle cx="77.2" cy="50.1" r="2.5"/><circle cx="78.9" cy="58.7" r="2.5"/><circle cx="70.6" cy="47.7" r="2.5"/><circle cx="66.3" cy="57" r="2.5"/><circle cx="79.8" cy="73.4" r="2.5"/><circle cx="64.4" cy="59.3" r="2.5"/><circle cx="67.4" cy="53.3" r="2.5"/><circle cx="73.3" cy="50.7" r="2.5"/><circle cx="67.2" cy="56.4" r="2.5"/><circle cx="71.3" cy="79.3" r="2.5"/><circle cx="78.8" cy="61.3" r="2.5"/><circle cx="79.7" cy="71.7" r="2.5"/><circle cx="72.5" cy="71.7" r="2.5"/><circle cx="78.9" cy="74.4" r="2.5"/><circle cx="73.4" cy="78.6" r="2.5"/><circle cx="71.5" cy="79.8" r="2.5"/><circle cx="67.3" cy="64.3" r="2.5"/><circle cx="74" cy="65.5" r="2.5"/><circle cx="81.7" cy="76.1" r="2.5"/><circle cx="73" cy="60.4" r="2.5"/><circle cx="74.2" cy="48.9" r="2.5"/><circle cx="67.4" cy="57.7" r="2.5"/><circle cx="68.6" cy="60.7" r="2.5"/><circle cx="60.5" cy="50.7" r="2.5"/><circle cx="84.7" cy="65.7" r="2.5"/><circle cx="65" cy="62" r="2.5"/><circle cx="68.5" cy="63.2" r="2.5"/><circle cx="72.3" cy="74.7" r="2.5"/><circle cx="82.1" cy="72.7" r="2.5"/><circle cx="82.5" cy="75.9" r="2.5"/><circle cx="77" cy="70.9" r="2.5"/><circle cx="79" cy="68.2" r="2.5"/><circle cx="71" cy="69.7" r="2.5"/><circle cx="80.6" cy="73.5" r="2.5"/><circle cx="72.3" cy="67.1" r="2.5"/><circle cx="73" cy="72.5" r="2.5"/><circle cx="79.2" cy="77" r="2.5"/><circle cx="76.6" cy="63" r="2.5"/><circle cx="71.7" cy="65" r="2.5"/><circle cx="73.8" cy="64.6" r="2.5"/><circle cx="81.1" cy="68.1" r="2.5"/><circle cx="76.2" cy="75.3" r="2.5"/><circle cx="72.3" cy="70.5" r="2.5"/><circle cx="82.1" cy="71.6" r="2.5"/><circle cx="73.9" cy="72.8" r="2.5"/><circle cx="76.5" cy="70.5" r="2.5"/><circle cx="78.3" cy="74.1" r="2.5"/><circle cx="82.5" cy="75.8" r="2.5"/><circle cx="78.9" cy="75.6" r="2.5"/><circle cx="72.5" cy="65.4" r="2.5"/><circle cx="81" cy="69.4" r="2.5"/><circle cx="71.7" cy="66.6" r="2.5"/><circle cx="82" cy="65.2" r="2.5"/><circle cx="80.7" cy="66.5" r="2.5"/><circle cx="80.3" cy="68.5" r="2.5"/><circle cx="77.3" cy="73.6" r="2.5"/><circle cx="79.3" cy="65.5" r="2.5"/><circle cx="78.7" cy="64.8" r="2.5"/><circle cx="73.2" cy="75.2" r="2.5"/><circle cx="72" cy="69" r="2.5"/><circle cx="71.5" cy="71.9" r="2.5"/><circle cx="72.3" cy="68.1" r="2.5"/><circle cx="82.7" cy="69.6" r="2.5"/><circle cx="73.4" cy="63.8" r="2.5"/><circle cx="78.1" cy="64.6" r="2.5"/><circle cx="72.3" cy="64.4" r="2.5"/><circle cx="79.6" cy="73.1" r="2.5"/><circle cx="87.8" cy="54" r="2.5"/><circle cx="87.5" cy="58.4" r="2.5"/><circle cx="85.1" cy="59.9" r="2.5"/><circle cx="87.6" cy="60.6" r="2.5"/><circle cx="85.5" cy="49.9" r="2.5"/><circle cx="89.1" cy="60" r="2.5"/><circle cx="86.4" cy="63.8" r="2.5"/><circle cx="93.5" cy="51.6" r="2.5"/><circle cx="101.7" cy="58.4" r="2.5"/><circle cx="84.6" cy="62.3" r="2.5"/><circle cx="98.7" cy="60.1" r="2.5"/><circle cx="82.5" cy="49.2" r="2.5"/><circle cx="98.6" cy="64.1" r="2.5"/><circle cx="87.4" cy="65.6" r="2.5"/><circle cx="88.5" cy="52" r="2.5"/><circle cx="86.2" cy="57.5" r="2.5"/><circle cx="86.2" cy="61" r="2.5"/><circle cx="89" cy="65.4" r="2.5"/><circle cx="93.2" cy="57.4" r="2.5"/><circle cx="97.2" cy="58.7" r="2.5"/></g>
<g fill="#8020dc" fill-opacity="0.88"><circle cx="76.4" cy="53.3" r="1.15"/><circle cx="79.2" cy="78.7" r="1.15"/><circle cx="68.1" cy="52.4" r="1.15"/><circle cx="75.3" cy="65" r="1.15"/><circle cx="73.3" cy="64.2" r="1.15"/><circle cx="75.5" cy="73.6" r="1.15"/><circle cx="78.4" cy="71.1" r="1.15"/><circle cx="81.3" cy="62.7" r="1.15"/><circle cx="76.1" cy="50" r="1.15"/><circle cx="77.3" cy="54.3" r="1.15"/><circle cx="72.1" cy="62.6" r="1.15"/><circle cx="68.5" cy="58.2" r="1.15"/><circle cx="70.7" cy="66.5" r="1.15"/><circle cx="70.6" cy="75.8" r="1.15"/><circle cx="68.5" cy="64.7" r="1.15"/><circle cx="69.1" cy="56.8" r="1.15"/><circle cx="71.6" cy="62.7" r="1.15"/><circle cx="74.4" cy="66.4" r="1.15"/><circle cx="78.9" cy="62.1" r="1.15"/><circle cx="70" cy="60.7" r="1.15"/><circle cx="66.9" cy="65.4" r="1.15"/><circle cx="75.3" cy="50.6" r="1.15"/><circle cx="70.4" cy="50.7" r="1.15"/><circle cx="73.5" cy="71.9" r="1.15"/><circle cx="82" cy="79.4" r="1.15"/><circle cx="76.9" cy="59.3" r="1.15"/><circle cx="84.5" cy="63.6" r="1.15"/><circle cx="69.3" cy="70.7" r="1.15"/><circle cx="81.6" cy="63.6" r="1.15"/><circle cx="82.1" cy="73" r="1.15"/><circle cx="69.9" cy="71.2" r="1.15"/><circle cx="72.7" cy="50" r="1.15"/><circle cx="83.2" cy="76" r="1.15"/><circle cx="83" cy="54.3" r="1.15"/><circle cx="72.3" cy="56.7" r="1.15"/><circle cx="72.4" cy="59.6" r="1.15"/><circle cx="73.7" cy="61.4" r="1.15"/><circle cx="79.4" cy="69.4" r="1.15"/><circle cx="66.2" cy="53" r="1.15"/><circle cx="65.1" cy="57.6" r="1.15"/><circle cx="70.2" cy="63.9" r="1.15"/><circle cx="65.8" cy="56.5" r="1.15"/><circle cx="72.8" cy="46.2" r="1.15"/><circle cx="76" cy="47.3" r="1.15"/><circle cx="74.9" cy="66.8" r="1.15"/><circle cx="67.2" cy="46.6" r="1.15"/><circle cx="61.5" cy="54.5" r="1.15"/><circle cx="78.8" cy="72.2" r="1.15"/><circle cx="63.1" cy="54.1" r="1.15"/><circle cx="74.2" cy="64.9" r="1.15"/><circle cx="80.3" cy="57" r="1.15"/><circle cx="83.3" cy="68.4" r="1.15"/><circle cx="77.5" cy="66.4" r="1.15"/><circle cx="67.6" cy="56.9" r="1.15"/><circle cx="76.4" cy="50.8" r="1.15"/><circle cx="77.9" cy="77.2" r="1.15"/><circle cx="75.1" cy="77.3" r="1.15"/><circle cx="73.7" cy="64" r="1.15"/><circle cx="69.7" cy="66.1" r="1.15"/><circle cx="83.6" cy="67.2" r="1.15"/><circle cx="79" cy="62.5" r="1.15"/><circle cx="82.8" cy="73.3" r="1.15"/><circle cx="72.5" cy="56.7" r="1.15"/><circle cx="76.1" cy="48.5" r="1.15"/><circle cx="72.9" cy="61.2" r="1.15"/><circle cx="75" cy="56.1" r="1.15"/><circle cx="83.4" cy="63.1" r="1.15"/><circle cx="81.3" cy="55.2" r="1.15"/><circle cx="82.9" cy="65.4" r="1.15"/><circle cx="73.5" cy="61.4" r="1.15"/><circle cx="84.4" cy="66" r="1.15"/><circle cx="73.2" cy="58.9" r="1.15"/><circle cx="71.1" cy="55.6" r="1.15"/><circle cx="70.8" cy="55.4" r="1.15"/><circle cx="67.3" cy="55.6" r="1.15"/><circle cx="73.7" cy="56.4" r="1.15"/><circle cx="78.4" cy="56.8" r="1.15"/><circle cx="77.5" cy="55.4" r="1.15"/><circle cx="76.2" cy="58.8" r="1.15"/><circle cx="72.5" cy="55.8" r="1.15"/><circle cx="73.4" cy="69" r="1.15"/><circle cx="81.8" cy="55.1" r="1.15"/><circle cx="74.2" cy="66.1" r="1.15"/><circle cx="82.5" cy="63" r="1.15"/><circle cx="82.3" cy="78.8" r="1.15"/><circle cx="69.8" cy="60.4" r="1.15"/><circle cx="85.2" cy="66.6" r="1.15"/><circle cx="73.1" cy="73.6" r="1.15"/><circle cx="75.2" cy="64.4" r="1.15"/><circle cx="76.6" cy="55.3" r="1.15"/><circle cx="69" cy="46.3" r="1.15"/><circle cx="78.3" cy="75.2" r="1.15"/><circle cx="78.8" cy="80.5" r="1.15"/><circle cx="79.3" cy="49.8" r="1.15"/><circle cx="80.4" cy="51.2" r="1.15"/><circle cx="76.5" cy="47.1" r="1.15"/><circle cx="73.1" cy="52.7" r="1.15"/><circle cx="82.1" cy="65" r="1.15"/><circle cx="82.9" cy="71.5" r="1.15"/><circle cx="79.5" cy="65.8" r="1.15"/><circle cx="61.8" cy="54.7" r="1.15"/><circle cx="78.6" cy="50.4" r="1.15"/><circle cx="69.8" cy="51.4" r="1.15"/><circle cx="76.4" cy="58.4" r="1.15"/><circle cx="80.2" cy="59" r="1.15"/><circle cx="81.3" cy="75.3" r="1.15"/><circle cx="70.8" cy="50.4" r="1.15"/><circle cx="83.6" cy="58.1" r="1.15"/><circle cx="75.4" cy="48.1" r="1.15"/><circle cx="77.3" cy="50.6" r="1.15"/><circle cx="76.8" cy="62.6" r="1.15"/><circle cx="71.6" cy="53.8" r="1.15"/><circle cx="75.2" cy="72.5" r="1.15"/><circle cx="78.9" cy="60.2" r="1.15"/><circle cx="73.7" cy="56.8" r="1.15"/><circle cx="76.5" cy="61.3" r="1.15"/><circle cx="80.1" cy="56.4" r="1.15"/><circle cx="69.1" cy="48.9" r="1.15"/><circle cx="68.4" cy="54.7" r="1.15"/><circle cx="75.3" cy="58.6" r="1.15"/><circle cx="77.2" cy="71.5" r="1.15"/><circle cx="79.7" cy="58.2" r="1.15"/><circle cx="72.7" cy="55.9" r="1.15"/><circle cx="65.5" cy="61.1" r="1.15"/><circle cx="83.5" cy="62" r="1.15"/><circle cx="80.9" cy="65" r="1.15"/><circle cx="76.5" cy="59.5" r="1.15"/><circle cx="81.9" cy="71.6" r="1.15"/><circle cx="78.1" cy="62.8" r="1.15"/><circle cx="77" cy="76.7" r="1.15"/><circle cx="69.8" cy="72.3" r="1.15"/><circle cx="77.7" cy="63.8" r="1.15"/><circle cx="79.7" cy="63.2" r="1.15"/><circle cx="79.2" cy="51.8" r="1.15"/><circle cx="71.2" cy="75.6" r="1.15"/><circle cx="68.2" cy="58.9" r="1.15"/><circle cx="77.7" cy="66.4" r="1.15"/><circle cx="66.5" cy="51.5" r="1.15"/><circle cx="70.1" cy="77.6" r="1.15"/><circle cx="77.7" cy="70.4" r="1.15"/><circle cx="75.7" cy="54" r="1.15"/><circle cx="73.7" cy="62.6" r="1.15"/><circle cx="74.5" cy="48.2" r="1.15"/><circle cx="66.5" cy="52.7" r="1.15"/><circle cx="82.4" cy="60.4" r="1.15"/><circle cx="67.6" cy="59.1" r="1.15"/><circle cx="82.8" cy="78.3" r="1.15"/><circle cx="84.7" cy="76.4" r="1.15"/><circle cx="77.2" cy="50.1" r="1.15"/><circle cx="78.9" cy="58.7" r="1.15"/><circle cx="70.6" cy="47.7" r="1.15"/><circle cx="66.3" cy="57" r="1.15"/><circle cx="79.8" cy="73.4" r="1.15"/><circle cx="64.4" cy="59.3" r="1.15"/><circle cx="67.4" cy="53.3" r="1.15"/><circle cx="73.3" cy="50.7" r="1.15"/><circle cx="67.2" cy="56.4" r="1.15"/><circle cx="71.3" cy="79.3" r="1.15"/><circle cx="78.8" cy="61.3" r="1.15"/><circle cx="79.7" cy="71.7" r="1.15"/><circle cx="72.5" cy="71.7" r="1.15"/><circle cx="78.9" cy="74.4" r="1.15"/><circle cx="73.4" cy="78.6" r="1.15"/><circle cx="71.5" cy="79.8" r="1.15"/><circle cx="67.3" cy="64.3" r="1.15"/><circle cx="74" cy="65.5" r="1.15"/><circle cx="81.7" cy="76.1" r="1.15"/><circle cx="73" cy="60.4" r="1.15"/><circle cx="74.2" cy="48.9" r="1.15"/><circle cx="67.4" cy="57.7" r="1.15"/><circle cx="68.6" cy="60.7" r="1.15"/><circle cx="60.5" cy="50.7" r="1.15"/><circle cx="84.7" cy="65.7" r="1.15"/><circle cx="65" cy="62" r="1.15"/><circle cx="68.5" cy="63.2" r="1.15"/><circle cx="72.3" cy="74.7" r="1.15"/><circle cx="82.1" cy="72.7" r="1.15"/><circle cx="82.5" cy="75.9" r="1.15"/><circle cx="77" cy="70.9" r="1.15"/><circle cx="79" cy="68.2" r="1.15"/><circle cx="71" cy="69.7" r="1.15"/><circle cx="80.6" cy="73.5" r="1.15"/><circle cx="72.3" cy="67.1" r="1.15"/><circle cx="73" cy="72.5" r="1.15"/><circle cx="79.2" cy="77" r="1.15"/><circle cx="76.6" cy="63" r="1.15"/><circle cx="71.7" cy="65" r="1.15"/><circle cx="73.8" cy="64.6" r="1.15"/><circle cx="81.1" cy="68.1" r="1.15"/><circle cx="76.2" cy="75.3" r="1.15"/><circle cx="72.3" cy="70.5" r="1.15"/><circle cx="82.1" cy="71.6" r="1.15"/><circle cx="73.9" cy="72.8" r="1.15"/><circle cx="76.5" cy="70.5" r="1.15"/><circle cx="78.3" cy="74.1" r="1.15"/><circle cx="82.5" cy="75.8" r="1.15"/><circle cx="78.9" cy="75.6" r="1.15"/><circle cx="72.5" cy="65.4" r="1.15"/><circle cx="81" cy="69.4" r="1.15"/><circle cx="71.7" cy="66.6" r="1.15"/><circle cx="82" cy="65.2" r="1.15"/><circle cx="80.7" cy="66.5" r="1.15"/><circle cx="80.3" cy="68.5" r="1.15"/><circle cx="77.3" cy="73.6" r="1.15"/><circle cx="79.3" cy="65.5" r="1.15"/><circle cx="78.7" cy="64.8" r="1.15"/><circle cx="73.2" cy="75.2" r="1.15"/><circle cx="72" cy="69" r="1.15"/><circle cx="71.5" cy="71.9" r="1.15"/><circle cx="72.3" cy="68.1" r="1.15"/><circle cx="82.7" cy="69.6" r="1.15"/><circle cx="73.4" cy="63.8" r="1.15"/><circle cx="78.1" cy="64.6" r="1.15"/><circle cx="72.3" cy="64.4" r="1.15"/><circle cx="79.6" cy="73.1" r="1.15"/><circle cx="87.8" cy="54" r="1.15"/><circle cx="87.5" cy="58.4" r="1.15"/><circle cx="85.1" cy="59.9" r="1.15"/><circle cx="87.6" cy="60.6" r="1.15"/><circle cx="85.5" cy="49.9" r="1.15"/><circle cx="89.1" cy="60" r="1.15"/><circle cx="86.4" cy="63.8" r="1.15"/><circle cx="93.5" cy="51.6" r="1.15"/><circle cx="101.7" cy="58.4" r="1.15"/><circle cx="84.6" cy="62.3" r="1.15"/><circle cx="98.7" cy="60.1" r="1.15"/><circle cx="82.5" cy="49.2" r="1.15"/><circle cx="98.6" cy="64.1" r="1.15"/><circle cx="87.4" cy="65.6" r="1.15"/><circle cx="88.5" cy="52" r="1.15"/><circle cx="86.2" cy="57.5" r="1.15"/><circle cx="86.2" cy="61" r="1.15"/><circle cx="89" cy="65.4" r="1.15"/><circle cx="93.2" cy="57.4" r="1.15"/><circle cx="97.2" cy="58.7" r="1.15"/></g></g>
<text x="79.7" y="482.9" text-anchor="middle" class="t">CMP</text>
<g transform="translate(202.6,487.8)"><use href="#box"/><use href="#cloud"/>
<g fill="#b48cf0" fill-opacity="0.45"><circle cx="21.6" cy="7.4" r="2.5"/><circle cx="22.7" cy="10.2" r="2.5"/><circle cx="21.5" cy="7.7" r="2.5"/><circle cx="24.5" cy="11.2" r="2.5"/><circle cx="20.2" cy="2.9" r="2.5"/><circle cx="20.1" cy="4.7" r="2.5"/><circle cx="26.4" cy="14.9" r="2.5"/><circle cx="24.3" cy="10.9" r="2.5"/><circle cx="20.5" cy="4.7" r="2.5"/><circle cx="22.9" cy="6.9" r="2.5"/><circle cx="50.9" cy="43" r="2.5"/><circle cx="29.2" cy="16.6" r="2.5"/><circle cx="35.7" cy="23.1" r="2.5"/><circle cx="67.1" cy="52.3" r="2.5"/><circle cx="37.5" cy="28.7" r="2.5"/><circle cx="33.3" cy="23.4" r="2.5"/><circle cx="38.8" cy="27.1" r="2.5"/><circle cx="31.3" cy="20" r="2.5"/><circle cx="35.2" cy="22.7" r="2.5"/><circle cx="34.2" cy="23.6" r="2.5"/><circle cx="57.4" cy="44.5" r="2.5"/><circle cx="73.6" cy="51" r="2.5"/><circle cx="52.9" cy="47.2" r="2.5"/><circle cx="37.5" cy="29" r="2.5"/><circle cx="37.2" cy="29.8" r="2.5"/><circle cx="54.7" cy="47.9" r="2.5"/><circle cx="37.9" cy="29" r="2.5"/><circle cx="47.3" cy="45.9" r="2.5"/><circle cx="57.4" cy="48.8" r="2.5"/><circle cx="56.6" cy="52.4" r="2.5"/><circle cx="47.1" cy="41.7" r="2.5"/><circle cx="27.5" cy="16.1" r="2.5"/><circle cx="35.6" cy="25.4" r="2.5"/><circle cx="35.9" cy="24.8" r="2.5"/><circle cx="40.3" cy="32.8" r="2.5"/><circle cx="43.9" cy="36.2" r="2.5"/><circle cx="47.9" cy="43.2" r="2.5"/><circle cx="29.6" cy="18.3" r="2.5"/><circle cx="41.2" cy="30.3" r="2.5"/><circle cx="41.9" cy="39.6" r="2.5"/><circle cx="39.4" cy="29.9" r="2.5"/><circle cx="33.3" cy="23.2" r="2.5"/><circle cx="40" cy="30.8" r="2.5"/><circle cx="37.1" cy="25.9" r="2.5"/><circle cx="28.4" cy="16.6" r="2.5"/><circle cx="38.7" cy="28.1" r="2.5"/><circle cx="66.5" cy="54.6" r="2.5"/><circle cx="30" cy="18" r="2.5"/><circle cx="65.8" cy="52.5" r="2.5"/><circle cx="38.8" cy="29.4" r="2.5"/><circle cx="66.1" cy="51.5" r="2.5"/><circle cx="75.6" cy="53" r="2.5"/><circle cx="35.3" cy="25.8" r="2.5"/><circle cx="75.7" cy="55.3" r="2.5"/><circle cx="57.8" cy="49.3" r="2.5"/><circle cx="35.8" cy="25.6" r="2.5"/><circle cx="55.3" cy="48" r="2.5"/><circle cx="56" cy="47.4" r="2.5"/><circle cx="54.5" cy="50.3" r="2.5"/><circle cx="39.3" cy="31.1" r="2.5"/><circle cx="41.8" cy="34.3" r="2.5"/><circle cx="54.6" cy="44.6" r="2.5"/><circle cx="29.6" cy="17.3" r="2.5"/><circle cx="65.3" cy="51.6" r="2.5"/><circle cx="62.4" cy="49.8" r="2.5"/><circle cx="75" cy="50.7" r="2.5"/><circle cx="65.5" cy="52" r="2.5"/><circle cx="28" cy="14.8" r="2.5"/><circle cx="76.6" cy="53.3" r="2.5"/><circle cx="52" cy="44.8" r="2.5"/><circle cx="76.1" cy="51.6" r="2.5"/><circle cx="27.6" cy="15.6" r="2.5"/><circle cx="34.2" cy="22.4" r="2.5"/><circle cx="37.4" cy="28.9" r="2.5"/><circle cx="68.5" cy="57.3" r="2.5"/><circle cx="35.2" cy="24.6" r="2.5"/><circle cx="57" cy="49.4" r="2.5"/><circle cx="46.5" cy="41.5" r="2.5"/><circle cx="39.6" cy="31.1" r="2.5"/><circle cx="64.1" cy="50.6" r="2.5"/><circle cx="61.6" cy="50.4" r="2.5"/><circle cx="32.3" cy="20.6" r="2.5"/><circle cx="63.5" cy="52.8" r="2.5"/><circle cx="56" cy="47.3" r="2.5"/><circle cx="60.8" cy="51.2" r="2.5"/><circle cx="35.8" cy="24.8" r="2.5"/><circle cx="29.7" cy="17.6" r="2.5"/><circle cx="58.3" cy="47.7" r="2.5"/><circle cx="34.3" cy="22.6" r="2.5"/><circle cx="45.3" cy="37" r="2.5"/><circle cx="51.3" cy="45.1" r="2.5"/><circle cx="62.6" cy="50.9" r="2.5"/><circle cx="28.6" cy="17.5" r="2.5"/><circle cx="29.6" cy="19.5" r="2.5"/><circle cx="65.8" cy="53.4" r="2.5"/><circle cx="58.4" cy="48.5" r="2.5"/><circle cx="53.9" cy="48.2" r="2.5"/><circle cx="42" cy="33.6" r="2.5"/><circle cx="68.6" cy="52.3" r="2.5"/><circle cx="39.7" cy="35" r="2.5"/><circle cx="42.7" cy="36.4" r="2.5"/><circle cx="35.8" cy="23.2" r="2.5"/><circle cx="54.6" cy="48.4" r="2.5"/><circle cx="50.3" cy="43" r="2.5"/><circle cx="55.4" cy="46.9" r="2.5"/><circle cx="43.2" cy="33.7" r="2.5"/><circle cx="34.9" cy="23.2" r="2.5"/><circle cx="63.1" cy="50.4" r="2.5"/><circle cx="28.7" cy="16.8" r="2.5"/><circle cx="67.9" cy="51.7" r="2.5"/><circle cx="65.1" cy="51.7" r="2.5"/><circle cx="35.4" cy="25.5" r="2.5"/><circle cx="34.2" cy="26.2" r="2.5"/><circle cx="28.1" cy="15.7" r="2.5"/><circle cx="27.9" cy="14.5" r="2.5"/><circle cx="50.3" cy="42.4" r="2.5"/><circle cx="65.9" cy="53" r="2.5"/><circle cx="74.5" cy="52" r="2.5"/><circle cx="46.1" cy="38" r="2.5"/><circle cx="36.7" cy="26.9" r="2.5"/><circle cx="35" cy="23.9" r="2.5"/><circle cx="36.5" cy="28.6" r="2.5"/><circle cx="37.7" cy="28.7" r="2.5"/><circle cx="70.7" cy="53.1" r="2.5"/><circle cx="45.2" cy="37" r="2.5"/><circle cx="75.5" cy="53.1" r="2.5"/><circle cx="27.4" cy="15.2" r="2.5"/><circle cx="38.9" cy="29.4" r="2.5"/><circle cx="48.1" cy="38.7" r="2.5"/><circle cx="50.5" cy="44" r="2.5"/><circle cx="57.1" cy="49.8" r="2.5"/><circle cx="37.9" cy="29" r="2.5"/><circle cx="46.9" cy="39.3" r="2.5"/><circle cx="32.2" cy="21.2" r="2.5"/><circle cx="28.7" cy="18.3" r="2.5"/><circle cx="74.2" cy="53.7" r="2.5"/><circle cx="51.6" cy="45" r="2.5"/><circle cx="45.8" cy="41.3" r="2.5"/><circle cx="38.3" cy="29.4" r="2.5"/><circle cx="40" cy="30" r="2.5"/><circle cx="28.7" cy="17" r="2.5"/><circle cx="44.2" cy="41.2" r="2.5"/><circle cx="59.9" cy="49" r="2.5"/><circle cx="41.3" cy="33.1" r="2.5"/><circle cx="48.1" cy="40.6" r="2.5"/><circle cx="27.3" cy="16.3" r="2.5"/><circle cx="41.9" cy="35.4" r="2.5"/><circle cx="48.2" cy="42.6" r="2.5"/><circle cx="70.6" cy="55.2" r="2.5"/><circle cx="46.4" cy="36.6" r="2.5"/><circle cx="38.7" cy="30.1" r="2.5"/><circle cx="42.7" cy="34.1" r="2.5"/><circle cx="29.1" cy="18" r="2.5"/><circle cx="71.8" cy="50.1" r="2.5"/><circle cx="34.2" cy="24.4" r="2.5"/><circle cx="50.7" cy="41.2" r="2.5"/><circle cx="44.6" cy="37.9" r="2.5"/><circle cx="73.1" cy="50.9" r="2.5"/><circle cx="71.7" cy="51.3" r="2.5"/><circle cx="43.5" cy="37.6" r="2.5"/><circle cx="70.1" cy="53.8" r="2.5"/><circle cx="42.5" cy="33.2" r="2.5"/><circle cx="40.4" cy="30.6" r="2.5"/><circle cx="54.4" cy="44.3" r="2.5"/><circle cx="48.4" cy="41.4" r="2.5"/><circle cx="46.5" cy="39.4" r="2.5"/><circle cx="57.5" cy="48.3" r="2.5"/><circle cx="37.7" cy="25.2" r="2.5"/><circle cx="71.7" cy="55.1" r="2.5"/><circle cx="65" cy="51.7" r="2.5"/><circle cx="35" cy="24.7" r="2.5"/><circle cx="48.4" cy="42.7" r="2.5"/><circle cx="69.6" cy="50.4" r="2.5"/><circle cx="64.4" cy="55.2" r="2.5"/><circle cx="26.8" cy="18.5" r="2.5"/><circle cx="46.8" cy="41.2" r="2.5"/><circle cx="61.9" cy="51.9" r="2.5"/><circle cx="28" cy="15.1" r="2.5"/><circle cx="67.7" cy="54.2" r="2.5"/><circle cx="55.9" cy="46.8" r="2.5"/><circle cx="26.7" cy="15.6" r="2.5"/><circle cx="75.1" cy="51.9" r="2.5"/><circle cx="57.3" cy="47.9" r="2.5"/><circle cx="47.6" cy="41.7" r="2.5"/><circle cx="67.7" cy="50.6" r="2.5"/><circle cx="81.8" cy="56" r="2.5"/><circle cx="83.6" cy="61.2" r="2.5"/><circle cx="88.7" cy="58.6" r="2.5"/><circle cx="87" cy="50.9" r="2.5"/><circle cx="80" cy="58" r="2.5"/></g>
<g fill="#8020dc" fill-opacity="0.88"><circle cx="21.6" cy="7.4" r="1.15"/><circle cx="22.7" cy="10.2" r="1.15"/><circle cx="21.5" cy="7.7" r="1.15"/><circle cx="24.5" cy="11.2" r="1.15"/><circle cx="20.2" cy="2.9" r="1.15"/><circle cx="20.1" cy="4.7" r="1.15"/><circle cx="26.4" cy="14.9" r="1.15"/><circle cx="24.3" cy="10.9" r="1.15"/><circle cx="20.5" cy="4.7" r="1.15"/><circle cx="22.9" cy="6.9" r="1.15"/><circle cx="50.9" cy="43" r="1.15"/><circle cx="29.2" cy="16.6" r="1.15"/><circle cx="35.7" cy="23.1" r="1.15"/><circle cx="67.1" cy="52.3" r="1.15"/><circle cx="37.5" cy="28.7" r="1.15"/><circle cx="33.3" cy="23.4" r="1.15"/><circle cx="38.8" cy="27.1" r="1.15"/><circle cx="31.3" cy="20" r="1.15"/><circle cx="35.2" cy="22.7" r="1.15"/><circle cx="34.2" cy="23.6" r="1.15"/><circle cx="57.4" cy="44.5" r="1.15"/><circle cx="73.6" cy="51" r="1.15"/><circle cx="52.9" cy="47.2" r="1.15"/><circle cx="37.5" cy="29" r="1.15"/><circle cx="37.2" cy="29.8" r="1.15"/><circle cx="54.7" cy="47.9" r="1.15"/><circle cx="37.9" cy="29" r="1.15"/><circle cx="47.3" cy="45.9" r="1.15"/><circle cx="57.4" cy="48.8" r="1.15"/><circle cx="56.6" cy="52.4" r="1.15"/><circle cx="47.1" cy="41.7" r="1.15"/><circle cx="27.5" cy="16.1" r="1.15"/><circle cx="35.6" cy="25.4" r="1.15"/><circle cx="35.9" cy="24.8" r="1.15"/><circle cx="40.3" cy="32.8" r="1.15"/><circle cx="43.9" cy="36.2" r="1.15"/><circle cx="47.9" cy="43.2" r="1.15"/><circle cx="29.6" cy="18.3" r="1.15"/><circle cx="41.2" cy="30.3" r="1.15"/><circle cx="41.9" cy="39.6" r="1.15"/><circle cx="39.4" cy="29.9" r="1.15"/><circle cx="33.3" cy="23.2" r="1.15"/><circle cx="40" cy="30.8" r="1.15"/><circle cx="37.1" cy="25.9" r="1.15"/><circle cx="28.4" cy="16.6" r="1.15"/><circle cx="38.7" cy="28.1" r="1.15"/><circle cx="66.5" cy="54.6" r="1.15"/><circle cx="30" cy="18" r="1.15"/><circle cx="65.8" cy="52.5" r="1.15"/><circle cx="38.8" cy="29.4" r="1.15"/><circle cx="66.1" cy="51.5" r="1.15"/><circle cx="75.6" cy="53" r="1.15"/><circle cx="35.3" cy="25.8" r="1.15"/><circle cx="75.7" cy="55.3" r="1.15"/><circle cx="57.8" cy="49.3" r="1.15"/><circle cx="35.8" cy="25.6" r="1.15"/><circle cx="55.3" cy="48" r="1.15"/><circle cx="56" cy="47.4" r="1.15"/><circle cx="54.5" cy="50.3" r="1.15"/><circle cx="39.3" cy="31.1" r="1.15"/><circle cx="41.8" cy="34.3" r="1.15"/><circle cx="54.6" cy="44.6" r="1.15"/><circle cx="29.6" cy="17.3" r="1.15"/><circle cx="65.3" cy="51.6" r="1.15"/><circle cx="62.4" cy="49.8" r="1.15"/><circle cx="75" cy="50.7" r="1.15"/><circle cx="65.5" cy="52" r="1.15"/><circle cx="28" cy="14.8" r="1.15"/><circle cx="76.6" cy="53.3" r="1.15"/><circle cx="52" cy="44.8" r="1.15"/><circle cx="76.1" cy="51.6" r="1.15"/><circle cx="27.6" cy="15.6" r="1.15"/><circle cx="34.2" cy="22.4" r="1.15"/><circle cx="37.4" cy="28.9" r="1.15"/><circle cx="68.5" cy="57.3" r="1.15"/><circle cx="35.2" cy="24.6" r="1.15"/><circle cx="57" cy="49.4" r="1.15"/><circle cx="46.5" cy="41.5" r="1.15"/><circle cx="39.6" cy="31.1" r="1.15"/><circle cx="64.1" cy="50.6" r="1.15"/><circle cx="61.6" cy="50.4" r="1.15"/><circle cx="32.3" cy="20.6" r="1.15"/><circle cx="63.5" cy="52.8" r="1.15"/><circle cx="56" cy="47.3" r="1.15"/><circle cx="60.8" cy="51.2" r="1.15"/><circle cx="35.8" cy="24.8" r="1.15"/><circle cx="29.7" cy="17.6" r="1.15"/><circle cx="58.3" cy="47.7" r="1.15"/><circle cx="34.3" cy="22.6" r="1.15"/><circle cx="45.3" cy="37" r="1.15"/><circle cx="51.3" cy="45.1" r="1.15"/><circle cx="62.6" cy="50.9" r="1.15"/><circle cx="28.6" cy="17.5" r="1.15"/><circle cx="29.6" cy="19.5" r="1.15"/><circle cx="65.8" cy="53.4" r="1.15"/><circle cx="58.4" cy="48.5" r="1.15"/><circle cx="53.9" cy="48.2" r="1.15"/><circle cx="42" cy="33.6" r="1.15"/><circle cx="68.6" cy="52.3" r="1.15"/><circle cx="39.7" cy="35" r="1.15"/><circle cx="42.7" cy="36.4" r="1.15"/><circle cx="35.8" cy="23.2" r="1.15"/><circle cx="54.6" cy="48.4" r="1.15"/><circle cx="50.3" cy="43" r="1.15"/><circle cx="55.4" cy="46.9" r="1.15"/><circle cx="43.2" cy="33.7" r="1.15"/><circle cx="34.9" cy="23.2" r="1.15"/><circle cx="63.1" cy="50.4" r="1.15"/><circle cx="28.7" cy="16.8" r="1.15"/><circle cx="67.9" cy="51.7" r="1.15"/><circle cx="65.1" cy="51.7" r="1.15"/><circle cx="35.4" cy="25.5" r="1.15"/><circle cx="34.2" cy="26.2" r="1.15"/><circle cx="28.1" cy="15.7" r="1.15"/><circle cx="27.9" cy="14.5" r="1.15"/><circle cx="50.3" cy="42.4" r="1.15"/><circle cx="65.9" cy="53" r="1.15"/><circle cx="74.5" cy="52" r="1.15"/><circle cx="46.1" cy="38" r="1.15"/><circle cx="36.7" cy="26.9" r="1.15"/><circle cx="35" cy="23.9" r="1.15"/><circle cx="36.5" cy="28.6" r="1.15"/><circle cx="37.7" cy="28.7" r="1.15"/><circle cx="70.7" cy="53.1" r="1.15"/><circle cx="45.2" cy="37" r="1.15"/><circle cx="75.5" cy="53.1" r="1.15"/><circle cx="27.4" cy="15.2" r="1.15"/><circle cx="38.9" cy="29.4" r="1.15"/><circle cx="48.1" cy="38.7" r="1.15"/><circle cx="50.5" cy="44" r="1.15"/><circle cx="57.1" cy="49.8" r="1.15"/><circle cx="37.9" cy="29" r="1.15"/><circle cx="46.9" cy="39.3" r="1.15"/><circle cx="32.2" cy="21.2" r="1.15"/><circle cx="28.7" cy="18.3" r="1.15"/><circle cx="74.2" cy="53.7" r="1.15"/><circle cx="51.6" cy="45" r="1.15"/><circle cx="45.8" cy="41.3" r="1.15"/><circle cx="38.3" cy="29.4" r="1.15"/><circle cx="40" cy="30" r="1.15"/><circle cx="28.7" cy="17" r="1.15"/><circle cx="44.2" cy="41.2" r="1.15"/><circle cx="59.9" cy="49" r="1.15"/><circle cx="41.3" cy="33.1" r="1.15"/><circle cx="48.1" cy="40.6" r="1.15"/><circle cx="27.3" cy="16.3" r="1.15"/><circle cx="41.9" cy="35.4" r="1.15"/><circle cx="48.2" cy="42.6" r="1.15"/><circle cx="70.6" cy="55.2" r="1.15"/><circle cx="46.4" cy="36.6" r="1.15"/><circle cx="38.7" cy="30.1" r="1.15"/><circle cx="42.7" cy="34.1" r="1.15"/><circle cx="29.1" cy="18" r="1.15"/><circle cx="71.8" cy="50.1" r="1.15"/><circle cx="34.2" cy="24.4" r="1.15"/><circle cx="50.7" cy="41.2" r="1.15"/><circle cx="44.6" cy="37.9" r="1.15"/><circle cx="73.1" cy="50.9" r="1.15"/><circle cx="71.7" cy="51.3" r="1.15"/><circle cx="43.5" cy="37.6" r="1.15"/><circle cx="70.1" cy="53.8" r="1.15"/><circle cx="42.5" cy="33.2" r="1.15"/><circle cx="40.4" cy="30.6" r="1.15"/><circle cx="54.4" cy="44.3" r="1.15"/><circle cx="48.4" cy="41.4" r="1.15"/><circle cx="46.5" cy="39.4" r="1.15"/><circle cx="57.5" cy="48.3" r="1.15"/><circle cx="37.7" cy="25.2" r="1.15"/><circle cx="71.7" cy="55.1" r="1.15"/><circle cx="65" cy="51.7" r="1.15"/><circle cx="35" cy="24.7" r="1.15"/><circle cx="48.4" cy="42.7" r="1.15"/><circle cx="69.6" cy="50.4" r="1.15"/><circle cx="64.4" cy="55.2" r="1.15"/><circle cx="26.8" cy="18.5" r="1.15"/><circle cx="46.8" cy="41.2" r="1.15"/><circle cx="61.9" cy="51.9" r="1.15"/><circle cx="28" cy="15.1" r="1.15"/><circle cx="67.7" cy="54.2" r="1.15"/><circle cx="55.9" cy="46.8" r="1.15"/><circle cx="26.7" cy="15.6" r="1.15"/><circle cx="75.1" cy="51.9" r="1.15"/><circle cx="57.3" cy="47.9" r="1.15"/><circle cx="47.6" cy="41.7" r="1.15"/><circle cx="67.7" cy="50.6" r="1.15"/><circle cx="81.8" cy="56" r="1.15"/><circle cx="83.6" cy="61.2" r="1.15"/><circle cx="88.7" cy="58.6" r="1.15"/><circle cx="87" cy="50.9" r="1.15"/><circle cx="80" cy="58" r="1.15"/></g></g>
<text x="262.3" y="482.9" text-anchor="middle" class="t">MEP</text>
<g transform="translate(384.3,487.8)"><use href="#box"/><use href="#cloud"/>
<g fill="#b48cf0" fill-opacity="0.45"><circle cx="73.3" cy="72.9" r="2.5"/><circle cx="74.8" cy="72.9" r="2.5"/><circle cx="76.4" cy="62.4" r="2.5"/><circle cx="74.6" cy="72.2" r="2.5"/><circle cx="75.1" cy="72" r="2.5"/><circle cx="69.6" cy="72.4" r="2.5"/><circle cx="75.4" cy="71.3" r="2.5"/><circle cx="73.6" cy="77.2" r="2.5"/><circle cx="75" cy="72.7" r="2.5"/><circle cx="74.9" cy="74.4" r="2.5"/><circle cx="72.5" cy="66.4" r="2.5"/><circle cx="72.8" cy="71.9" r="2.5"/><circle cx="69.6" cy="74.2" r="2.5"/><circle cx="73.6" cy="72.4" r="2.5"/><circle cx="73.1" cy="74.9" r="2.5"/><circle cx="74.6" cy="74.3" r="2.5"/><circle cx="74.5" cy="73.4" r="2.5"/><circle cx="76.9" cy="74" r="2.5"/><circle cx="72.5" cy="65.4" r="2.5"/><circle cx="73" cy="70.9" r="2.5"/><circle cx="73.7" cy="69.6" r="2.5"/><circle cx="75.3" cy="60.7" r="2.5"/><circle cx="74.6" cy="73.9" r="2.5"/><circle cx="75.9" cy="67.1" r="2.5"/><circle cx="72.7" cy="70.9" r="2.5"/><circle cx="76.5" cy="62.6" r="2.5"/><circle cx="72.9" cy="81.3" r="2.5"/><circle cx="75.9" cy="63.5" r="2.5"/><circle cx="72.9" cy="67.5" r="2.5"/><circle cx="75.1" cy="75.7" r="2.5"/><circle cx="74.2" cy="70.2" r="2.5"/><circle cx="73.8" cy="60" r="2.5"/><circle cx="73.9" cy="66.4" r="2.5"/><circle cx="73.1" cy="69.3" r="2.5"/><circle cx="72.8" cy="76.7" r="2.5"/><circle cx="73.2" cy="77" r="2.5"/><circle cx="74.3" cy="70" r="2.5"/><circle cx="74.6" cy="71" r="2.5"/><circle cx="73.6" cy="77.5" r="2.5"/><circle cx="73.1" cy="71.2" r="2.5"/><circle cx="76.4" cy="69.1" r="2.5"/><circle cx="72.6" cy="74.2" r="2.5"/><circle cx="74.7" cy="59" r="2.5"/><circle cx="72.7" cy="59.4" r="2.5"/><circle cx="72.9" cy="58.6" r="2.5"/><circle cx="71.8" cy="58.8" r="2.5"/><circle cx="71.8" cy="59.1" r="2.5"/><circle cx="68.8" cy="57.9" r="2.5"/><circle cx="71.9" cy="59.5" r="2.5"/><circle cx="73.1" cy="59.4" r="2.5"/><circle cx="81" cy="60" r="2.5"/><circle cx="83.5" cy="62" r="2.5"/><circle cx="86" cy="60.5" r="2.5"/><circle cx="84" cy="65" r="2.5"/><circle cx="88" cy="63.5" r="2.5"/><circle cx="82" cy="66.5" r="2.5"/><circle cx="71.5" cy="84.5" r="2.5"/><circle cx="77" cy="66" r="2.5"/><circle cx="78.5" cy="70" r="2.5"/></g>
<g fill="#8020dc" fill-opacity="0.88"><circle cx="73.3" cy="72.9" r="1.15"/><circle cx="74.8" cy="72.9" r="1.15"/><circle cx="76.4" cy="62.4" r="1.15"/><circle cx="74.6" cy="72.2" r="1.15"/><circle cx="75.1" cy="72" r="1.15"/><circle cx="69.6" cy="72.4" r="1.15"/><circle cx="75.4" cy="71.3" r="1.15"/><circle cx="73.6" cy="77.2" r="1.15"/><circle cx="75" cy="72.7" r="1.15"/><circle cx="74.9" cy="74.4" r="1.15"/><circle cx="72.5" cy="66.4" r="1.15"/><circle cx="72.8" cy="71.9" r="1.15"/><circle cx="69.6" cy="74.2" r="1.15"/><circle cx="73.6" cy="72.4" r="1.15"/><circle cx="73.1" cy="74.9" r="1.15"/><circle cx="74.6" cy="74.3" r="1.15"/><circle cx="74.5" cy="73.4" r="1.15"/><circle cx="76.9" cy="74" r="1.15"/><circle cx="72.5" cy="65.4" r="1.15"/><circle cx="73" cy="70.9" r="1.15"/><circle cx="73.7" cy="69.6" r="1.15"/><circle cx="75.3" cy="60.7" r="1.15"/><circle cx="74.6" cy="73.9" r="1.15"/><circle cx="75.9" cy="67.1" r="1.15"/><circle cx="72.7" cy="70.9" r="1.15"/><circle cx="76.5" cy="62.6" r="1.15"/><circle cx="72.9" cy="81.3" r="1.15"/><circle cx="75.9" cy="63.5" r="1.15"/><circle cx="72.9" cy="67.5" r="1.15"/><circle cx="75.1" cy="75.7" r="1.15"/><circle cx="74.2" cy="70.2" r="1.15"/><circle cx="73.8" cy="60" r="1.15"/><circle cx="73.9" cy="66.4" r="1.15"/><circle cx="73.1" cy="69.3" r="1.15"/><circle cx="72.8" cy="76.7" r="1.15"/><circle cx="73.2" cy="77" r="1.15"/><circle cx="74.3" cy="70" r="1.15"/><circle cx="74.6" cy="71" r="1.15"/><circle cx="73.6" cy="77.5" r="1.15"/><circle cx="73.1" cy="71.2" r="1.15"/><circle cx="76.4" cy="69.1" r="1.15"/><circle cx="72.6" cy="74.2" r="1.15"/><circle cx="74.7" cy="59" r="1.15"/><circle cx="72.7" cy="59.4" r="1.15"/><circle cx="72.9" cy="58.6" r="1.15"/><circle cx="71.8" cy="58.8" r="1.15"/><circle cx="71.8" cy="59.1" r="1.15"/><circle cx="68.8" cy="57.9" r="1.15"/><circle cx="71.9" cy="59.5" r="1.15"/><circle cx="73.1" cy="59.4" r="1.15"/><circle cx="81" cy="60" r="1.15"/><circle cx="83.5" cy="62" r="1.15"/><circle cx="86" cy="60.5" r="1.15"/><circle cx="84" cy="65" r="1.15"/><circle cx="88" cy="63.5" r="1.15"/><circle cx="82" cy="66.5" r="1.15"/><circle cx="71.5" cy="84.5" r="1.15"/><circle cx="77" cy="66" r="1.15"/><circle cx="78.5" cy="70" r="1.15"/></g></g>
<text x="443.4" y="482.9" text-anchor="middle" class="t">GMP</text>
<g transform="translate(23.9,658.2) scale(1.004,1.008)"><use href="#box"/><use href="#cloud"/>
<g fill="#f0c880" fill-opacity="0.35"><circle cx="86.7" cy="35.5" r="2.6"/><circle cx="84.4" cy="39" r="2.6"/><circle cx="82.9" cy="44.5" r="2.6"/><circle cx="85.9" cy="34.5" r="2.6"/><circle cx="85.5" cy="42" r="2.6"/><circle cx="88.3" cy="29.2" r="2.6"/><circle cx="89" cy="34.6" r="2.6"/><circle cx="90.7" cy="32.4" r="2.6"/><circle cx="85" cy="29.8" r="2.6"/><circle cx="82.2" cy="42.5" r="2.6"/><circle cx="92.2" cy="28.5" r="2.6"/><circle cx="82.4" cy="43.8" r="2.6"/><circle cx="83.8" cy="24.9" r="2.6"/><circle cx="90.9" cy="31.6" r="2.6"/><circle cx="80.5" cy="41.7" r="2.6"/><circle cx="84.4" cy="25.8" r="2.6"/><circle cx="78.8" cy="47.2" r="2.6"/><circle cx="89.2" cy="27.2" r="2.6"/><circle cx="86.3" cy="40.8" r="2.6"/><circle cx="84.4" cy="30.2" r="2.6"/><circle cx="80.8" cy="45.9" r="2.6"/><circle cx="85.7" cy="29" r="2.6"/><circle cx="87.7" cy="24.6" r="2.6"/><circle cx="88.1" cy="28.5" r="2.6"/><circle cx="86" cy="23.4" r="2.6"/><circle cx="86.2" cy="31.9" r="2.6"/><circle cx="91.2" cy="27.8" r="2.6"/><circle cx="82.3" cy="46.4" r="2.6"/><circle cx="85" cy="30.5" r="2.6"/><circle cx="81.7" cy="42" r="2.6"/><circle cx="84" cy="39.2" r="2.6"/><circle cx="88.1" cy="37.8" r="2.6"/><circle cx="79.1" cy="45.4" r="2.6"/><circle cx="85.7" cy="23.6" r="2.6"/><circle cx="79.4" cy="52.4" r="2.6"/><circle cx="90" cy="27" r="2.6"/><circle cx="87" cy="29" r="2.6"/></g>
<g fill="#90c0f0" fill-opacity="0.35"><circle cx="84.2" cy="18.3" r="2.6"/><circle cx="89.5" cy="17.3" r="2.6"/><circle cx="84.2" cy="21.6" r="2.6"/><circle cx="82.3" cy="26.4" r="2.6"/><circle cx="81.8" cy="30.3" r="2.6"/><circle cx="83.5" cy="20" r="2.6"/><circle cx="82.8" cy="23.5" r="2.6"/><circle cx="81.5" cy="28" r="2.6"/><circle cx="85" cy="19.5" r="2.6"/><circle cx="78.4" cy="44.2" r="2.6"/><circle cx="73.6" cy="52.4" r="2.6"/><circle cx="73" cy="51.5" r="2.6"/></g>
<g fill="#eba21a" fill-opacity="0.72"><circle cx="86.7" cy="35.5" r="1.5"/><circle cx="84.4" cy="39" r="1.5"/><circle cx="82.9" cy="44.5" r="1.5"/><circle cx="85.9" cy="34.5" r="1.5"/><circle cx="85.5" cy="42" r="1.5"/><circle cx="88.3" cy="29.2" r="1.5"/><circle cx="89" cy="34.6" r="1.5"/><circle cx="90.7" cy="32.4" r="1.5"/><circle cx="85" cy="29.8" r="1.5"/><circle cx="82.2" cy="42.5" r="1.5"/><circle cx="92.2" cy="28.5" r="1.5"/><circle cx="82.4" cy="43.8" r="1.5"/><circle cx="83.8" cy="24.9" r="1.5"/><circle cx="90.9" cy="31.6" r="1.5"/><circle cx="80.5" cy="41.7" r="1.5"/><circle cx="84.4" cy="25.8" r="1.5"/><circle cx="78.8" cy="47.2" r="1.5"/><circle cx="89.2" cy="27.2" r="1.5"/><circle cx="86.3" cy="40.8" r="1.5"/><circle cx="84.4" cy="30.2" r="1.5"/><circle cx="80.8" cy="45.9" r="1.5"/><circle cx="85.7" cy="29" r="1.5"/><circle cx="87.7" cy="24.6" r="1.5"/><circle cx="88.1" cy="28.5" r="1.5"/><circle cx="86" cy="23.4" r="1.5"/><circle cx="86.2" cy="31.9" r="1.5"/><circle cx="91.2" cy="27.8" r="1.5"/><circle cx="82.3" cy="46.4" r="1.5"/><circle cx="85" cy="30.5" r="1.5"/><circle cx="81.7" cy="42" r="1.5"/><circle cx="84" cy="39.2" r="1.5"/><circle cx="88.1" cy="37.8" r="1.5"/><circle cx="79.1" cy="45.4" r="1.5"/><circle cx="85.7" cy="23.6" r="1.5"/><circle cx="79.4" cy="52.4" r="1.5"/><circle cx="90" cy="27" r="1.5"/><circle cx="87" cy="29" r="1.5"/></g>
<g fill="#2a86e0" fill-opacity="0.9"><circle cx="84.2" cy="18.3" r="1.55"/><circle cx="89.5" cy="17.3" r="1.55"/><circle cx="84.2" cy="21.6" r="1.55"/><circle cx="82.3" cy="26.4" r="1.55"/><circle cx="81.8" cy="30.3" r="1.55"/><circle cx="83.5" cy="20" r="1.55"/><circle cx="82.8" cy="23.5" r="1.55"/><circle cx="81.5" cy="28" r="1.55"/><circle cx="85" cy="19.5" r="1.55"/><circle cx="78.4" cy="44.2" r="1.55"/><circle cx="73.6" cy="52.4" r="1.55"/><circle cx="73" cy="51.5" r="1.55"/></g></g>
<text x="85.2" y="652.6" text-anchor="middle" class="t">C57BL/6</text>
<circle cx="25.4" cy="800.5" r="3.35" fill="#eba21a"/>
<text x="33.5" y="803.6" class="lg">2-3 months</text>
<circle cx="94.5" cy="800.5" r="3.35" fill="#2a86e0"/>
<text x="102.3" y="803.6" class="lg">22 months</text>
<g transform="translate(205.4,658.2) scale(1.004,1.008)"><use href="#box"/><use href="#cloud"/>
<g fill="#f0c880" fill-opacity="0.35"><circle cx="84.9" cy="32" r="2.6"/><circle cx="89.5" cy="28.5" r="2.6"/><circle cx="88.9" cy="34.9" r="2.6"/><circle cx="90.7" cy="37.8" r="2.6"/><circle cx="87.8" cy="40.7" r="2.6"/><circle cx="85.5" cy="30" r="2.6"/><circle cx="86.5" cy="35.5" r="2.6"/><circle cx="84.5" cy="36.5" r="2.6"/><circle cx="89" cy="31" r="2.6"/><circle cx="86" cy="38.5" r="2.6"/><circle cx="75.7" cy="52.2" r="2.6"/><circle cx="82" cy="43" r="2.6"/><circle cx="85" cy="26.5" r="2.6"/></g>
<g fill="#90c0f0" fill-opacity="0.35"><circle cx="86.1" cy="19.9" r="2.6"/><circle cx="84.9" cy="22.8" r="2.6"/><circle cx="87.2" cy="24.5" r="2.6"/><circle cx="84.3" cy="25.7" r="2.6"/><circle cx="85.5" cy="21.5" r="2.6"/><circle cx="86" cy="23.5" r="2.6"/><circle cx="75.7" cy="48.2" r="2.6"/><circle cx="71.6" cy="49.3" r="2.6"/><circle cx="68.8" cy="51.6" r="2.6"/><circle cx="63.6" cy="51" r="2.6"/><circle cx="74" cy="50.5" r="2.6"/><circle cx="70" cy="50.5" r="2.6"/><circle cx="72.8" cy="48.8" r="2.6"/><circle cx="66" cy="51.5" r="2.6"/></g>
<g fill="#eba21a" fill-opacity="0.72"><circle cx="84.9" cy="32" r="1.5"/><circle cx="89.5" cy="28.5" r="1.5"/><circle cx="88.9" cy="34.9" r="1.5"/><circle cx="90.7" cy="37.8" r="1.5"/><circle cx="87.8" cy="40.7" r="1.5"/><circle cx="85.5" cy="30" r="1.5"/><circle cx="86.5" cy="35.5" r="1.5"/><circle cx="84.5" cy="36.5" r="1.5"/><circle cx="89" cy="31" r="1.5"/><circle cx="86" cy="38.5" r="1.5"/><circle cx="75.7" cy="52.2" r="1.5"/><circle cx="82" cy="43" r="1.5"/><circle cx="85" cy="26.5" r="1.5"/></g>
<g fill="#2a86e0" fill-opacity="0.9"><circle cx="86.1" cy="19.9" r="1.55"/><circle cx="84.9" cy="22.8" r="1.55"/><circle cx="87.2" cy="24.5" r="1.55"/><circle cx="84.3" cy="25.7" r="1.55"/><circle cx="85.5" cy="21.5" r="1.55"/><circle cx="86" cy="23.5" r="1.55"/><circle cx="75.7" cy="48.2" r="1.55"/><circle cx="71.6" cy="49.3" r="1.55"/><circle cx="68.8" cy="51.6" r="1.55"/><circle cx="63.6" cy="51" r="1.55"/><circle cx="74" cy="50.5" r="1.55"/><circle cx="70" cy="50.5" r="1.55"/><circle cx="72.8" cy="48.8" r="1.55"/><circle cx="66" cy="51.5" r="1.55"/></g></g>
<text x="265.2" y="652.6" text-anchor="middle" class="t">DBA/2</text>
<circle cx="205" cy="800.5" r="3.35" fill="#eba21a"/>
<text x="214.5" y="803.6" class="lg">2-3 months</text>
<circle cx="280.9" cy="800.5" r="3.35" fill="#2a86e0"/>
<text x="290.1" y="803.6" class="lg">20 months</text>
<g transform="translate(386.4,658.2) scale(1.004,1.008)"><use href="#box"/><use href="#cloud"/>
<g fill="#f0c880" fill-opacity="0.35"><circle cx="86.5" cy="38.3" r="2.6"/><circle cx="87.7" cy="42.9" r="2.6"/><circle cx="85.3" cy="29" r="2.6"/><circle cx="93" cy="43.6" r="2.6"/><circle cx="85.9" cy="34" r="2.6"/><circle cx="90.2" cy="36.3" r="2.6"/><circle cx="81.2" cy="33.3" r="2.6"/><circle cx="88.8" cy="32.1" r="2.6"/><circle cx="88.4" cy="38.8" r="2.6"/><circle cx="91.6" cy="36.3" r="2.6"/><circle cx="98.7" cy="37.5" r="2.6"/><circle cx="90.6" cy="39.6" r="2.6"/><circle cx="93.8" cy="34" r="2.6"/><circle cx="89.2" cy="43.2" r="2.6"/><circle cx="92.1" cy="36.4" r="2.6"/><circle cx="85" cy="37.7" r="2.6"/><circle cx="88.5" cy="46.3" r="2.6"/><circle cx="91.1" cy="38.9" r="2.6"/><circle cx="85" cy="29" r="2.6"/><circle cx="97.7" cy="43.2" r="2.6"/><circle cx="80.7" cy="53.9" r="2.6"/><circle cx="81.5" cy="54.5" r="2.6"/><circle cx="80" cy="52.5" r="2.6"/><circle cx="82.5" cy="53" r="2.6"/><circle cx="81" cy="50" r="2.6"/><circle cx="85.3" cy="41.8" r="2.6"/><circle cx="88.8" cy="45.3" r="2.6"/><circle cx="93.4" cy="44.1" r="2.6"/><circle cx="80" cy="47" r="2.6"/><circle cx="79" cy="44" r="2.6"/></g>
<g fill="#90c0f0" fill-opacity="0.35"><circle cx="86.2" cy="25.7" r="2.6"/><circle cx="85.8" cy="27.9" r="2.6"/><circle cx="84.5" cy="26.5" r="2.6"/><circle cx="90" cy="26.9" r="2.6"/><circle cx="83.3" cy="25.8" r="2.6"/><circle cx="86.2" cy="26.9" r="2.6"/><circle cx="89.1" cy="25.9" r="2.6"/><circle cx="87.9" cy="26" r="2.6"/><circle cx="83.7" cy="23.2" r="2.6"/><circle cx="87.6" cy="22.6" r="2.6"/><circle cx="81.6" cy="23.6" r="2.6"/><circle cx="85.5" cy="25.1" r="2.6"/><circle cx="87.6" cy="22.3" r="2.6"/><circle cx="85" cy="25.6" r="2.6"/><circle cx="89.2" cy="22.7" r="2.6"/><circle cx="85.3" cy="22.8" r="2.6"/><circle cx="86.3" cy="27.7" r="2.6"/><circle cx="86.8" cy="22.6" r="2.6"/><circle cx="83.8" cy="28.1" r="2.6"/><circle cx="86.2" cy="27.3" r="2.6"/><circle cx="89.3" cy="20.1" r="2.6"/><circle cx="88.7" cy="25.9" r="2.6"/><circle cx="79.5" cy="38.4" r="2.6"/><circle cx="78.9" cy="41.2" r="2.6"/><circle cx="82.4" cy="35.5" r="2.6"/><circle cx="85" cy="21.5" r="2.6"/><circle cx="87" cy="22" r="2.6"/></g>
<g fill="#eba21a" fill-opacity="0.72"><circle cx="86.5" cy="38.3" r="1.5"/><circle cx="87.7" cy="42.9" r="1.5"/><circle cx="85.3" cy="29" r="1.5"/><circle cx="93" cy="43.6" r="1.5"/><circle cx="85.9" cy="34" r="1.5"/><circle cx="90.2" cy="36.3" r="1.5"/><circle cx="81.2" cy="33.3" r="1.5"/><circle cx="88.8" cy="32.1" r="1.5"/><circle cx="88.4" cy="38.8" r="1.5"/><circle cx="91.6" cy="36.3" r="1.5"/><circle cx="98.7" cy="37.5" r="1.5"/><circle cx="90.6" cy="39.6" r="1.5"/><circle cx="93.8" cy="34" r="1.5"/><circle cx="89.2" cy="43.2" r="1.5"/><circle cx="92.1" cy="36.4" r="1.5"/><circle cx="85" cy="37.7" r="1.5"/><circle cx="88.5" cy="46.3" r="1.5"/><circle cx="91.1" cy="38.9" r="1.5"/><circle cx="85" cy="29" r="1.5"/><circle cx="97.7" cy="43.2" r="1.5"/><circle cx="80.7" cy="53.9" r="1.5"/><circle cx="81.5" cy="54.5" r="1.5"/><circle cx="80" cy="52.5" r="1.5"/><circle cx="82.5" cy="53" r="1.5"/><circle cx="81" cy="50" r="1.5"/><circle cx="85.3" cy="41.8" r="1.5"/><circle cx="88.8" cy="45.3" r="1.5"/><circle cx="93.4" cy="44.1" r="1.5"/><circle cx="80" cy="47" r="1.5"/><circle cx="79" cy="44" r="1.5"/></g>
<g fill="#2a86e0" fill-opacity="0.9"><circle cx="86.2" cy="25.7" r="1.55"/><circle cx="85.8" cy="27.9" r="1.55"/><circle cx="84.5" cy="26.5" r="1.55"/><circle cx="90" cy="26.9" r="1.55"/><circle cx="83.3" cy="25.8" r="1.55"/><circle cx="86.2" cy="26.9" r="1.55"/><circle cx="89.1" cy="25.9" r="1.55"/><circle cx="87.9" cy="26" r="1.55"/><circle cx="83.7" cy="23.2" r="1.55"/><circle cx="87.6" cy="22.6" r="1.55"/><circle cx="81.6" cy="23.6" r="1.55"/><circle cx="85.5" cy="25.1" r="1.55"/><circle cx="87.6" cy="22.3" r="1.55"/><circle cx="85" cy="25.6" r="1.55"/><circle cx="89.2" cy="22.7" r="1.55"/><circle cx="85.3" cy="22.8" r="1.55"/><circle cx="86.3" cy="27.7" r="1.55"/><circle cx="86.8" cy="22.6" r="1.55"/><circle cx="83.8" cy="28.1" r="1.55"/><circle cx="86.2" cy="27.3" r="1.55"/><circle cx="89.3" cy="20.1" r="1.55"/><circle cx="88.7" cy="25.9" r="1.55"/><circle cx="79.5" cy="38.4" r="1.55"/><circle cx="78.9" cy="41.2" r="1.55"/><circle cx="82.4" cy="35.5" r="1.55"/><circle cx="85" cy="21.5" r="1.55"/><circle cx="87" cy="22" r="1.55"/></g></g>
<text x="446.3" y="652.5" text-anchor="middle" class="t">Vwf-EGFP</text>
<circle cx="388.7" cy="800.5" r="3.35" fill="#eba21a"/>
<text x="399.7" y="803.6" class="lg">2-3 months</text>
<circle cx="457.4" cy="800.5" r="3.35" fill="#2a86e0"/>
<text x="466" y="803.6" class="lg">20-25 months</text>
</svg></body></html>
